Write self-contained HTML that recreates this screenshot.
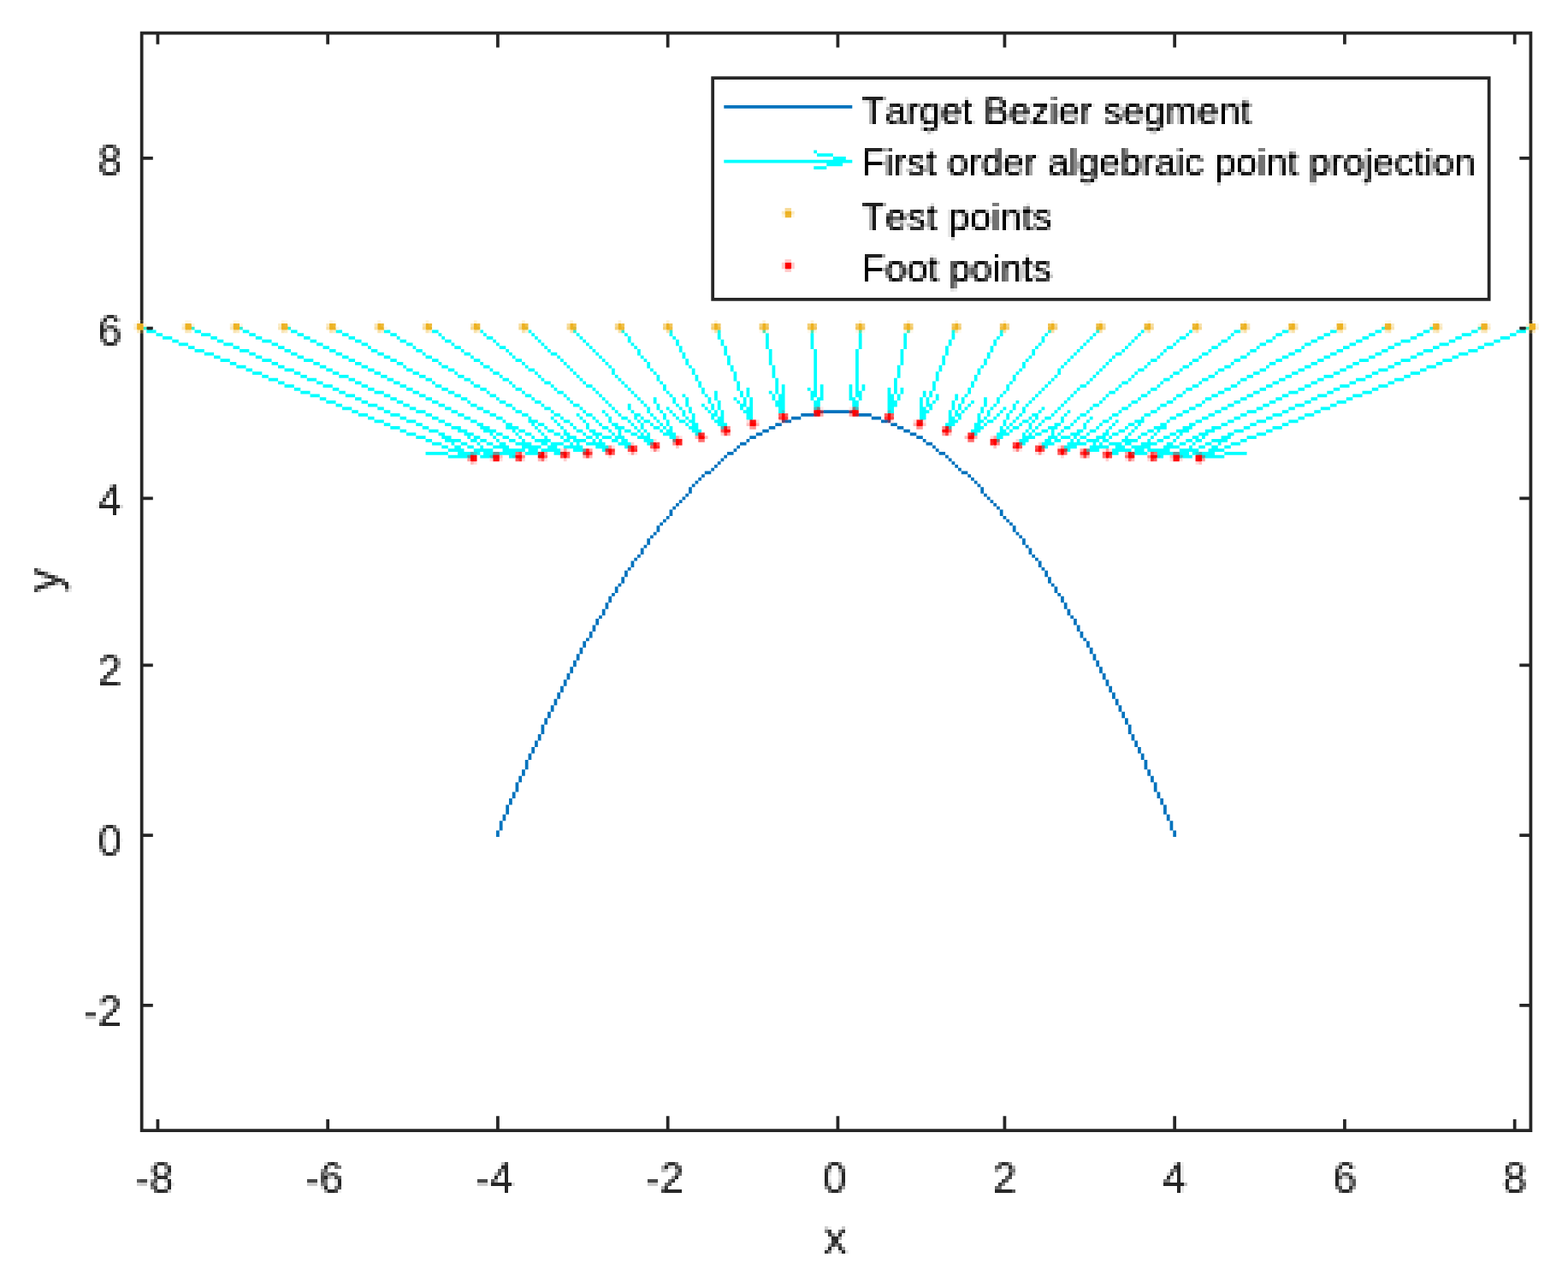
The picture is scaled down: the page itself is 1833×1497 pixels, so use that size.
<!DOCTYPE html>
<html lang="en">
<head>
<meta charset="utf-8">
<title>First order algebraic point projection</title>
<style>
html,body{margin:0;padding:0;background:#fff;}
body{width:1833px;height:1497px;overflow:hidden;}
svg{display:block;}
text{font-family:"Liberation Sans",Arial,Helvetica,sans-serif;font-kerning:none;}
.tk{fill:#262626;}
.lg{fill:#000;}
</style>
</head>
<body>
<svg width="1833" height="1497" viewBox="0 0 1833 1497">
<defs>
<filter id="p0" filterUnits="userSpaceOnUse" x="1000" y="101" width="472" height="64" color-interpolation-filters="sRGB">
<feConvolveMatrix in="SourceGraphic" order="4" kernelMatrix="1 1 1 1 1 1 1 1 1 1 1 1 1 1 1 1" divisor="16" targetX="1" targetY="1" edgeMode="none" preserveAlpha="false" result="avg"/>
<feFlood x="1001" y="102" width="1" height="1" flood-color="#000" result="dot"/>
<feComposite in="dot" in2="dot" operator="over" x="1000" y="101" width="4" height="4" result="dotcell"/>
<feTile in="dotcell" result="dots"/>
<feComponentTransfer in="avg" result="avc"><feFuncA type="linear" slope="1.25" intercept="-0.06"/></feComponentTransfer>
<feComposite in="avc" in2="dots" operator="in" result="samp"/>
<feMorphology in="samp" operator="dilate" radius="1" result="b3"/>
<feFlood x="1003" y="101" width="1" height="4" flood-color="#000" result="cbar"/>
<feComposite in="cbar" in2="cbar" operator="over" x="1000" y="101" width="4" height="4" result="ccell"/>
<feTile in="ccell" result="cmask"/>
<feOffset in="b3" dx="1" dy="0" result="b3x"/>
<feComposite in="b3x" in2="cmask" operator="in" result="fillx"/>
<feMerge result="b43"><feMergeNode in="b3"/><feMergeNode in="fillx"/></feMerge>
<feFlood x="1000" y="104" width="4" height="1" flood-color="#000" result="rbar"/>
<feComposite in="rbar" in2="rbar" operator="over" x="1000" y="101" width="4" height="4" result="rcell"/>
<feTile in="rcell" result="rmask"/>
<feOffset in="b43" dx="0" dy="1" result="b43y"/>
<feComposite in="b43y" in2="rmask" operator="in" result="filly"/>
<feMerge><feMergeNode in="b43"/><feMergeNode in="filly"/></feMerge>
</filter>
<filter id="p1" filterUnits="userSpaceOnUse" x="1003" y="161" width="728" height="64" color-interpolation-filters="sRGB">
<feConvolveMatrix in="SourceGraphic" order="4" kernelMatrix="1 1 1 1 1 1 1 1 1 1 1 1 1 1 1 1" divisor="16" targetX="1" targetY="1" edgeMode="none" preserveAlpha="false" result="avg"/>
<feFlood x="1004" y="162" width="1" height="1" flood-color="#000" result="dot"/>
<feComposite in="dot" in2="dot" operator="over" x="1003" y="161" width="4" height="4" result="dotcell"/>
<feTile in="dotcell" result="dots"/>
<feComponentTransfer in="avg" result="avc"><feFuncA type="linear" slope="1.25" intercept="-0.06"/></feComponentTransfer>
<feComposite in="avc" in2="dots" operator="in" result="samp"/>
<feMorphology in="samp" operator="dilate" radius="1" result="b3"/>
<feFlood x="1006" y="161" width="1" height="4" flood-color="#000" result="cbar"/>
<feComposite in="cbar" in2="cbar" operator="over" x="1003" y="161" width="4" height="4" result="ccell"/>
<feTile in="ccell" result="cmask"/>
<feOffset in="b3" dx="1" dy="0" result="b3x"/>
<feComposite in="b3x" in2="cmask" operator="in" result="fillx"/>
<feMerge result="b43"><feMergeNode in="b3"/><feMergeNode in="fillx"/></feMerge>
<feFlood x="1003" y="164" width="4" height="1" flood-color="#000" result="rbar"/>
<feComposite in="rbar" in2="rbar" operator="over" x="1003" y="161" width="4" height="4" result="rcell"/>
<feTile in="rcell" result="rmask"/>
<feOffset in="b43" dx="0" dy="1" result="b43y"/>
<feComposite in="b43y" in2="rmask" operator="in" result="filly"/>
<feMerge><feMergeNode in="b43"/><feMergeNode in="filly"/></feMerge>
</filter>
<filter id="p2" filterUnits="userSpaceOnUse" x="1000" y="225" width="236" height="64" color-interpolation-filters="sRGB">
<feConvolveMatrix in="SourceGraphic" order="4" kernelMatrix="1 1 1 1 1 1 1 1 1 1 1 1 1 1 1 1" divisor="16" targetX="1" targetY="1" edgeMode="none" preserveAlpha="false" result="avg"/>
<feFlood x="1001" y="226" width="1" height="1" flood-color="#000" result="dot"/>
<feComposite in="dot" in2="dot" operator="over" x="1000" y="225" width="4" height="4" result="dotcell"/>
<feTile in="dotcell" result="dots"/>
<feComponentTransfer in="avg" result="avc"><feFuncA type="linear" slope="1.25" intercept="-0.06"/></feComponentTransfer>
<feComposite in="avc" in2="dots" operator="in" result="samp"/>
<feMorphology in="samp" operator="dilate" radius="1" result="b3"/>
<feFlood x="1003" y="225" width="1" height="4" flood-color="#000" result="cbar"/>
<feComposite in="cbar" in2="cbar" operator="over" x="1000" y="225" width="4" height="4" result="ccell"/>
<feTile in="ccell" result="cmask"/>
<feOffset in="b3" dx="1" dy="0" result="b3x"/>
<feComposite in="b3x" in2="cmask" operator="in" result="fillx"/>
<feMerge result="b43"><feMergeNode in="b3"/><feMergeNode in="fillx"/></feMerge>
<feFlood x="1000" y="228" width="4" height="1" flood-color="#000" result="rbar"/>
<feComposite in="rbar" in2="rbar" operator="over" x="1000" y="225" width="4" height="4" result="rcell"/>
<feTile in="rcell" result="rmask"/>
<feOffset in="b43" dx="0" dy="1" result="b43y"/>
<feComposite in="b43y" in2="rmask" operator="in" result="filly"/>
<feMerge><feMergeNode in="b43"/><feMergeNode in="filly"/></feMerge>
</filter>
<filter id="p3" filterUnits="userSpaceOnUse" x="1003" y="285" width="236" height="64" color-interpolation-filters="sRGB">
<feConvolveMatrix in="SourceGraphic" order="4" kernelMatrix="1 1 1 1 1 1 1 1 1 1 1 1 1 1 1 1" divisor="16" targetX="1" targetY="1" edgeMode="none" preserveAlpha="false" result="avg"/>
<feFlood x="1004" y="286" width="1" height="1" flood-color="#000" result="dot"/>
<feComposite in="dot" in2="dot" operator="over" x="1003" y="285" width="4" height="4" result="dotcell"/>
<feTile in="dotcell" result="dots"/>
<feComponentTransfer in="avg" result="avc"><feFuncA type="linear" slope="1.25" intercept="-0.06"/></feComponentTransfer>
<feComposite in="avc" in2="dots" operator="in" result="samp"/>
<feMorphology in="samp" operator="dilate" radius="1" result="b3"/>
<feFlood x="1006" y="285" width="1" height="4" flood-color="#000" result="cbar"/>
<feComposite in="cbar" in2="cbar" operator="over" x="1003" y="285" width="4" height="4" result="ccell"/>
<feTile in="ccell" result="cmask"/>
<feOffset in="b3" dx="1" dy="0" result="b3x"/>
<feComposite in="b3x" in2="cmask" operator="in" result="fillx"/>
<feMerge result="b43"><feMergeNode in="b3"/><feMergeNode in="fillx"/></feMerge>
<feFlood x="1003" y="288" width="4" height="1" flood-color="#000" result="rbar"/>
<feComposite in="rbar" in2="rbar" operator="over" x="1003" y="285" width="4" height="4" result="rcell"/>
<feTile in="rcell" result="rmask"/>
<feOffset in="b43" dx="0" dy="1" result="b43y"/>
<feComposite in="b43y" in2="rmask" operator="in" result="filly"/>
<feMerge><feMergeNode in="b43"/><feMergeNode in="filly"/></feMerge>
</filter>
<filter id="p4" filterUnits="userSpaceOnUse" x="152" y="1350" width="56" height="56" color-interpolation-filters="sRGB">
<feConvolveMatrix in="SourceGraphic" order="4" kernelMatrix="1 1 1 1 1 1 1 1 1 1 1 1 1 1 1 1" divisor="16" targetX="1" targetY="1" edgeMode="none" preserveAlpha="false" result="avg"/>
<feFlood x="153" y="1351" width="1" height="1" flood-color="#000" result="dot"/>
<feComposite in="dot" in2="dot" operator="over" x="152" y="1350" width="4" height="4" result="dotcell"/>
<feTile in="dotcell" result="dots"/>
<feComponentTransfer in="avg" result="avc"><feFuncA type="linear" slope="1.25" intercept="-0.06"/></feComponentTransfer>
<feComposite in="avc" in2="dots" operator="in" result="samp"/>
<feMorphology in="samp" operator="dilate" radius="1" result="b3"/>
<feFlood x="155" y="1350" width="1" height="4" flood-color="#000" result="cbar"/>
<feComposite in="cbar" in2="cbar" operator="over" x="152" y="1350" width="4" height="4" result="ccell"/>
<feTile in="ccell" result="cmask"/>
<feOffset in="b3" dx="1" dy="0" result="b3x"/>
<feComposite in="b3x" in2="cmask" operator="in" result="fillx"/>
<feMerge result="b43"><feMergeNode in="b3"/><feMergeNode in="fillx"/></feMerge>
<feFlood x="152" y="1353" width="4" height="1" flood-color="#000" result="rbar"/>
<feComposite in="rbar" in2="rbar" operator="over" x="152" y="1350" width="4" height="4" result="rcell"/>
<feTile in="rcell" result="rmask"/>
<feOffset in="b43" dx="0" dy="1" result="b43y"/>
<feComposite in="b43y" in2="rmask" operator="in" result="filly"/>
<feMerge><feMergeNode in="b43"/><feMergeNode in="filly"/></feMerge>
</filter>
<filter id="p5" filterUnits="userSpaceOnUse" x="351" y="1350" width="56" height="56" color-interpolation-filters="sRGB">
<feConvolveMatrix in="SourceGraphic" order="4" kernelMatrix="1 1 1 1 1 1 1 1 1 1 1 1 1 1 1 1" divisor="16" targetX="1" targetY="1" edgeMode="none" preserveAlpha="false" result="avg"/>
<feFlood x="352" y="1351" width="1" height="1" flood-color="#000" result="dot"/>
<feComposite in="dot" in2="dot" operator="over" x="351" y="1350" width="4" height="4" result="dotcell"/>
<feTile in="dotcell" result="dots"/>
<feComponentTransfer in="avg" result="avc"><feFuncA type="linear" slope="1.25" intercept="-0.06"/></feComponentTransfer>
<feComposite in="avc" in2="dots" operator="in" result="samp"/>
<feMorphology in="samp" operator="dilate" radius="1" result="b3"/>
<feFlood x="354" y="1350" width="1" height="4" flood-color="#000" result="cbar"/>
<feComposite in="cbar" in2="cbar" operator="over" x="351" y="1350" width="4" height="4" result="ccell"/>
<feTile in="ccell" result="cmask"/>
<feOffset in="b3" dx="1" dy="0" result="b3x"/>
<feComposite in="b3x" in2="cmask" operator="in" result="fillx"/>
<feMerge result="b43"><feMergeNode in="b3"/><feMergeNode in="fillx"/></feMerge>
<feFlood x="351" y="1353" width="4" height="1" flood-color="#000" result="rbar"/>
<feComposite in="rbar" in2="rbar" operator="over" x="351" y="1350" width="4" height="4" result="rcell"/>
<feTile in="rcell" result="rmask"/>
<feOffset in="b43" dx="0" dy="1" result="b43y"/>
<feComposite in="b43y" in2="rmask" operator="in" result="filly"/>
<feMerge><feMergeNode in="b43"/><feMergeNode in="filly"/></feMerge>
</filter>
<filter id="p6" filterUnits="userSpaceOnUse" x="550" y="1350" width="60" height="52" color-interpolation-filters="sRGB">
<feConvolveMatrix in="SourceGraphic" order="4" kernelMatrix="1 1 1 1 1 1 1 1 1 1 1 1 1 1 1 1" divisor="16" targetX="1" targetY="1" edgeMode="none" preserveAlpha="false" result="avg"/>
<feFlood x="551" y="1351" width="1" height="1" flood-color="#000" result="dot"/>
<feComposite in="dot" in2="dot" operator="over" x="550" y="1350" width="4" height="4" result="dotcell"/>
<feTile in="dotcell" result="dots"/>
<feComponentTransfer in="avg" result="avc"><feFuncA type="linear" slope="1.25" intercept="-0.06"/></feComponentTransfer>
<feComposite in="avc" in2="dots" operator="in" result="samp"/>
<feMorphology in="samp" operator="dilate" radius="1" result="b3"/>
<feFlood x="553" y="1350" width="1" height="4" flood-color="#000" result="cbar"/>
<feComposite in="cbar" in2="cbar" operator="over" x="550" y="1350" width="4" height="4" result="ccell"/>
<feTile in="ccell" result="cmask"/>
<feOffset in="b3" dx="1" dy="0" result="b3x"/>
<feComposite in="b3x" in2="cmask" operator="in" result="fillx"/>
<feMerge result="b43"><feMergeNode in="b3"/><feMergeNode in="fillx"/></feMerge>
<feFlood x="550" y="1353" width="4" height="1" flood-color="#000" result="rbar"/>
<feComposite in="rbar" in2="rbar" operator="over" x="550" y="1350" width="4" height="4" result="rcell"/>
<feTile in="rcell" result="rmask"/>
<feOffset in="b43" dx="0" dy="1" result="b43y"/>
<feComposite in="b43y" in2="rmask" operator="in" result="filly"/>
<feMerge><feMergeNode in="b43"/><feMergeNode in="filly"/></feMerge>
</filter>
<filter id="p7" filterUnits="userSpaceOnUse" x="749" y="1350" width="56" height="52" color-interpolation-filters="sRGB">
<feConvolveMatrix in="SourceGraphic" order="4" kernelMatrix="1 1 1 1 1 1 1 1 1 1 1 1 1 1 1 1" divisor="16" targetX="1" targetY="1" edgeMode="none" preserveAlpha="false" result="avg"/>
<feFlood x="750" y="1351" width="1" height="1" flood-color="#000" result="dot"/>
<feComposite in="dot" in2="dot" operator="over" x="749" y="1350" width="4" height="4" result="dotcell"/>
<feTile in="dotcell" result="dots"/>
<feComponentTransfer in="avg" result="avc"><feFuncA type="linear" slope="1.25" intercept="-0.06"/></feComponentTransfer>
<feComposite in="avc" in2="dots" operator="in" result="samp"/>
<feMorphology in="samp" operator="dilate" radius="1" result="b3"/>
<feFlood x="752" y="1350" width="1" height="4" flood-color="#000" result="cbar"/>
<feComposite in="cbar" in2="cbar" operator="over" x="749" y="1350" width="4" height="4" result="ccell"/>
<feTile in="ccell" result="cmask"/>
<feOffset in="b3" dx="1" dy="0" result="b3x"/>
<feComposite in="b3x" in2="cmask" operator="in" result="fillx"/>
<feMerge result="b43"><feMergeNode in="b3"/><feMergeNode in="fillx"/></feMerge>
<feFlood x="749" y="1353" width="4" height="1" flood-color="#000" result="rbar"/>
<feComposite in="rbar" in2="rbar" operator="over" x="749" y="1350" width="4" height="4" result="rcell"/>
<feTile in="rcell" result="rmask"/>
<feOffset in="b43" dx="0" dy="1" result="b43y"/>
<feComposite in="b43y" in2="rmask" operator="in" result="filly"/>
<feMerge><feMergeNode in="b43"/><feMergeNode in="filly"/></feMerge>
</filter>
<filter id="p8" filterUnits="userSpaceOnUse" x="956" y="1350" width="40" height="56" color-interpolation-filters="sRGB">
<feConvolveMatrix in="SourceGraphic" order="4" kernelMatrix="1 1 1 1 1 1 1 1 1 1 1 1 1 1 1 1" divisor="16" targetX="1" targetY="1" edgeMode="none" preserveAlpha="false" result="avg"/>
<feFlood x="957" y="1351" width="1" height="1" flood-color="#000" result="dot"/>
<feComposite in="dot" in2="dot" operator="over" x="956" y="1350" width="4" height="4" result="dotcell"/>
<feTile in="dotcell" result="dots"/>
<feComponentTransfer in="avg" result="avc"><feFuncA type="linear" slope="1.25" intercept="-0.06"/></feComponentTransfer>
<feComposite in="avc" in2="dots" operator="in" result="samp"/>
<feMorphology in="samp" operator="dilate" radius="1" result="b3"/>
<feFlood x="959" y="1350" width="1" height="4" flood-color="#000" result="cbar"/>
<feComposite in="cbar" in2="cbar" operator="over" x="956" y="1350" width="4" height="4" result="ccell"/>
<feTile in="ccell" result="cmask"/>
<feOffset in="b3" dx="1" dy="0" result="b3x"/>
<feComposite in="b3x" in2="cmask" operator="in" result="fillx"/>
<feMerge result="b43"><feMergeNode in="b3"/><feMergeNode in="fillx"/></feMerge>
<feFlood x="956" y="1353" width="4" height="1" flood-color="#000" result="rbar"/>
<feComposite in="rbar" in2="rbar" operator="over" x="956" y="1350" width="4" height="4" result="rcell"/>
<feTile in="rcell" result="rmask"/>
<feOffset in="b43" dx="0" dy="1" result="b43y"/>
<feComposite in="b43y" in2="rmask" operator="in" result="filly"/>
<feMerge><feMergeNode in="b43"/><feMergeNode in="filly"/></feMerge>
</filter>
<filter id="p9" filterUnits="userSpaceOnUse" x="1155" y="1350" width="40" height="52" color-interpolation-filters="sRGB">
<feConvolveMatrix in="SourceGraphic" order="4" kernelMatrix="1 1 1 1 1 1 1 1 1 1 1 1 1 1 1 1" divisor="16" targetX="1" targetY="1" edgeMode="none" preserveAlpha="false" result="avg"/>
<feFlood x="1156" y="1351" width="1" height="1" flood-color="#000" result="dot"/>
<feComposite in="dot" in2="dot" operator="over" x="1155" y="1350" width="4" height="4" result="dotcell"/>
<feTile in="dotcell" result="dots"/>
<feComponentTransfer in="avg" result="avc"><feFuncA type="linear" slope="1.25" intercept="-0.06"/></feComponentTransfer>
<feComposite in="avc" in2="dots" operator="in" result="samp"/>
<feMorphology in="samp" operator="dilate" radius="1" result="b3"/>
<feFlood x="1158" y="1350" width="1" height="4" flood-color="#000" result="cbar"/>
<feComposite in="cbar" in2="cbar" operator="over" x="1155" y="1350" width="4" height="4" result="ccell"/>
<feTile in="ccell" result="cmask"/>
<feOffset in="b3" dx="1" dy="0" result="b3x"/>
<feComposite in="b3x" in2="cmask" operator="in" result="fillx"/>
<feMerge result="b43"><feMergeNode in="b3"/><feMergeNode in="fillx"/></feMerge>
<feFlood x="1155" y="1353" width="4" height="1" flood-color="#000" result="rbar"/>
<feComposite in="rbar" in2="rbar" operator="over" x="1155" y="1350" width="4" height="4" result="rcell"/>
<feTile in="rcell" result="rmask"/>
<feOffset in="b43" dx="0" dy="1" result="b43y"/>
<feComposite in="b43y" in2="rmask" operator="in" result="filly"/>
<feMerge><feMergeNode in="b43"/><feMergeNode in="filly"/></feMerge>
</filter>
<filter id="p10" filterUnits="userSpaceOnUse" x="1352" y="1350" width="44" height="52" color-interpolation-filters="sRGB">
<feConvolveMatrix in="SourceGraphic" order="4" kernelMatrix="1 1 1 1 1 1 1 1 1 1 1 1 1 1 1 1" divisor="16" targetX="1" targetY="1" edgeMode="none" preserveAlpha="false" result="avg"/>
<feFlood x="1353" y="1351" width="1" height="1" flood-color="#000" result="dot"/>
<feComposite in="dot" in2="dot" operator="over" x="1352" y="1350" width="4" height="4" result="dotcell"/>
<feTile in="dotcell" result="dots"/>
<feComponentTransfer in="avg" result="avc"><feFuncA type="linear" slope="1.25" intercept="-0.06"/></feComponentTransfer>
<feComposite in="avc" in2="dots" operator="in" result="samp"/>
<feMorphology in="samp" operator="dilate" radius="1" result="b3"/>
<feFlood x="1355" y="1350" width="1" height="4" flood-color="#000" result="cbar"/>
<feComposite in="cbar" in2="cbar" operator="over" x="1352" y="1350" width="4" height="4" result="ccell"/>
<feTile in="ccell" result="cmask"/>
<feOffset in="b3" dx="1" dy="0" result="b3x"/>
<feComposite in="b3x" in2="cmask" operator="in" result="fillx"/>
<feMerge result="b43"><feMergeNode in="b3"/><feMergeNode in="fillx"/></feMerge>
<feFlood x="1352" y="1353" width="4" height="1" flood-color="#000" result="rbar"/>
<feComposite in="rbar" in2="rbar" operator="over" x="1352" y="1350" width="4" height="4" result="rcell"/>
<feTile in="rcell" result="rmask"/>
<feOffset in="b43" dx="0" dy="1" result="b43y"/>
<feComposite in="b43y" in2="rmask" operator="in" result="filly"/>
<feMerge><feMergeNode in="b43"/><feMergeNode in="filly"/></feMerge>
</filter>
<filter id="p11" filterUnits="userSpaceOnUse" x="1553" y="1350" width="40" height="56" color-interpolation-filters="sRGB">
<feConvolveMatrix in="SourceGraphic" order="4" kernelMatrix="1 1 1 1 1 1 1 1 1 1 1 1 1 1 1 1" divisor="16" targetX="1" targetY="1" edgeMode="none" preserveAlpha="false" result="avg"/>
<feFlood x="1554" y="1351" width="1" height="1" flood-color="#000" result="dot"/>
<feComposite in="dot" in2="dot" operator="over" x="1553" y="1350" width="4" height="4" result="dotcell"/>
<feTile in="dotcell" result="dots"/>
<feComponentTransfer in="avg" result="avc"><feFuncA type="linear" slope="1.25" intercept="-0.06"/></feComponentTransfer>
<feComposite in="avc" in2="dots" operator="in" result="samp"/>
<feMorphology in="samp" operator="dilate" radius="1" result="b3"/>
<feFlood x="1556" y="1350" width="1" height="4" flood-color="#000" result="cbar"/>
<feComposite in="cbar" in2="cbar" operator="over" x="1553" y="1350" width="4" height="4" result="ccell"/>
<feTile in="ccell" result="cmask"/>
<feOffset in="b3" dx="1" dy="0" result="b3x"/>
<feComposite in="b3x" in2="cmask" operator="in" result="fillx"/>
<feMerge result="b43"><feMergeNode in="b3"/><feMergeNode in="fillx"/></feMerge>
<feFlood x="1553" y="1353" width="4" height="1" flood-color="#000" result="rbar"/>
<feComposite in="rbar" in2="rbar" operator="over" x="1553" y="1350" width="4" height="4" result="rcell"/>
<feTile in="rcell" result="rmask"/>
<feOffset in="b43" dx="0" dy="1" result="b43y"/>
<feComposite in="b43y" in2="rmask" operator="in" result="filly"/>
<feMerge><feMergeNode in="b43"/><feMergeNode in="filly"/></feMerge>
</filter>
<filter id="p12" filterUnits="userSpaceOnUse" x="1752" y="1350" width="40" height="56" color-interpolation-filters="sRGB">
<feConvolveMatrix in="SourceGraphic" order="4" kernelMatrix="1 1 1 1 1 1 1 1 1 1 1 1 1 1 1 1" divisor="16" targetX="1" targetY="1" edgeMode="none" preserveAlpha="false" result="avg"/>
<feFlood x="1753" y="1351" width="1" height="1" flood-color="#000" result="dot"/>
<feComposite in="dot" in2="dot" operator="over" x="1752" y="1350" width="4" height="4" result="dotcell"/>
<feTile in="dotcell" result="dots"/>
<feComponentTransfer in="avg" result="avc"><feFuncA type="linear" slope="1.25" intercept="-0.06"/></feComponentTransfer>
<feComposite in="avc" in2="dots" operator="in" result="samp"/>
<feMorphology in="samp" operator="dilate" radius="1" result="b3"/>
<feFlood x="1755" y="1350" width="1" height="4" flood-color="#000" result="cbar"/>
<feComposite in="cbar" in2="cbar" operator="over" x="1752" y="1350" width="4" height="4" result="ccell"/>
<feTile in="ccell" result="cmask"/>
<feOffset in="b3" dx="1" dy="0" result="b3x"/>
<feComposite in="b3x" in2="cmask" operator="in" result="fillx"/>
<feMerge result="b43"><feMergeNode in="b3"/><feMergeNode in="fillx"/></feMerge>
<feFlood x="1752" y="1353" width="4" height="1" flood-color="#000" result="rbar"/>
<feComposite in="rbar" in2="rbar" operator="over" x="1752" y="1350" width="4" height="4" result="rcell"/>
<feTile in="rcell" result="rmask"/>
<feOffset in="b43" dx="0" dy="1" result="b43y"/>
<feComposite in="b43y" in2="rmask" operator="in" result="filly"/>
<feMerge><feMergeNode in="b43"/><feMergeNode in="filly"/></feMerge>
</filter>
<filter id="p13" filterUnits="userSpaceOnUse" x="108" y="161" width="40" height="56" color-interpolation-filters="sRGB">
<feConvolveMatrix in="SourceGraphic" order="4" kernelMatrix="1 1 1 1 1 1 1 1 1 1 1 1 1 1 1 1" divisor="16" targetX="1" targetY="1" edgeMode="none" preserveAlpha="false" result="avg"/>
<feFlood x="109" y="162" width="1" height="1" flood-color="#000" result="dot"/>
<feComposite in="dot" in2="dot" operator="over" x="108" y="161" width="4" height="4" result="dotcell"/>
<feTile in="dotcell" result="dots"/>
<feComponentTransfer in="avg" result="avc"><feFuncA type="linear" slope="1.25" intercept="-0.06"/></feComponentTransfer>
<feComposite in="avc" in2="dots" operator="in" result="samp"/>
<feMorphology in="samp" operator="dilate" radius="1" result="b3"/>
<feFlood x="111" y="161" width="1" height="4" flood-color="#000" result="cbar"/>
<feComposite in="cbar" in2="cbar" operator="over" x="108" y="161" width="4" height="4" result="ccell"/>
<feTile in="ccell" result="cmask"/>
<feOffset in="b3" dx="1" dy="0" result="b3x"/>
<feComposite in="b3x" in2="cmask" operator="in" result="fillx"/>
<feMerge result="b43"><feMergeNode in="b3"/><feMergeNode in="fillx"/></feMerge>
<feFlood x="108" y="164" width="4" height="1" flood-color="#000" result="rbar"/>
<feComposite in="rbar" in2="rbar" operator="over" x="108" y="161" width="4" height="4" result="rcell"/>
<feTile in="rcell" result="rmask"/>
<feOffset in="b43" dx="0" dy="1" result="b43y"/>
<feComposite in="b43y" in2="rmask" operator="in" result="filly"/>
<feMerge><feMergeNode in="b43"/><feMergeNode in="filly"/></feMerge>
</filter>
<filter id="p14" filterUnits="userSpaceOnUse" x="109" y="360" width="40" height="56" color-interpolation-filters="sRGB">
<feConvolveMatrix in="SourceGraphic" order="4" kernelMatrix="1 1 1 1 1 1 1 1 1 1 1 1 1 1 1 1" divisor="16" targetX="1" targetY="1" edgeMode="none" preserveAlpha="false" result="avg"/>
<feFlood x="110" y="361" width="1" height="1" flood-color="#000" result="dot"/>
<feComposite in="dot" in2="dot" operator="over" x="109" y="360" width="4" height="4" result="dotcell"/>
<feTile in="dotcell" result="dots"/>
<feComponentTransfer in="avg" result="avc"><feFuncA type="linear" slope="1.25" intercept="-0.06"/></feComponentTransfer>
<feComposite in="avc" in2="dots" operator="in" result="samp"/>
<feMorphology in="samp" operator="dilate" radius="1" result="b3"/>
<feFlood x="112" y="360" width="1" height="4" flood-color="#000" result="cbar"/>
<feComposite in="cbar" in2="cbar" operator="over" x="109" y="360" width="4" height="4" result="ccell"/>
<feTile in="ccell" result="cmask"/>
<feOffset in="b3" dx="1" dy="0" result="b3x"/>
<feComposite in="b3x" in2="cmask" operator="in" result="fillx"/>
<feMerge result="b43"><feMergeNode in="b3"/><feMergeNode in="fillx"/></feMerge>
<feFlood x="109" y="363" width="4" height="1" flood-color="#000" result="rbar"/>
<feComposite in="rbar" in2="rbar" operator="over" x="109" y="360" width="4" height="4" result="rcell"/>
<feTile in="rcell" result="rmask"/>
<feOffset in="b43" dx="0" dy="1" result="b43y"/>
<feComposite in="b43y" in2="rmask" operator="in" result="filly"/>
<feMerge><feMergeNode in="b43"/><feMergeNode in="filly"/></feMerge>
</filter>
<filter id="p15" filterUnits="userSpaceOnUse" x="108" y="558" width="44" height="52" color-interpolation-filters="sRGB">
<feConvolveMatrix in="SourceGraphic" order="4" kernelMatrix="1 1 1 1 1 1 1 1 1 1 1 1 1 1 1 1" divisor="16" targetX="1" targetY="1" edgeMode="none" preserveAlpha="false" result="avg"/>
<feFlood x="109" y="559" width="1" height="1" flood-color="#000" result="dot"/>
<feComposite in="dot" in2="dot" operator="over" x="108" y="558" width="4" height="4" result="dotcell"/>
<feTile in="dotcell" result="dots"/>
<feComponentTransfer in="avg" result="avc"><feFuncA type="linear" slope="1.25" intercept="-0.06"/></feComponentTransfer>
<feComposite in="avc" in2="dots" operator="in" result="samp"/>
<feMorphology in="samp" operator="dilate" radius="1" result="b3"/>
<feFlood x="111" y="558" width="1" height="4" flood-color="#000" result="cbar"/>
<feComposite in="cbar" in2="cbar" operator="over" x="108" y="558" width="4" height="4" result="ccell"/>
<feTile in="ccell" result="cmask"/>
<feOffset in="b3" dx="1" dy="0" result="b3x"/>
<feComposite in="b3x" in2="cmask" operator="in" result="fillx"/>
<feMerge result="b43"><feMergeNode in="b3"/><feMergeNode in="fillx"/></feMerge>
<feFlood x="108" y="561" width="4" height="1" flood-color="#000" result="rbar"/>
<feComposite in="rbar" in2="rbar" operator="over" x="108" y="558" width="4" height="4" result="rcell"/>
<feTile in="rcell" result="rmask"/>
<feOffset in="b43" dx="0" dy="1" result="b43y"/>
<feComposite in="b43y" in2="rmask" operator="in" result="filly"/>
<feMerge><feMergeNode in="b43"/><feMergeNode in="filly"/></feMerge>
</filter>
<filter id="p16" filterUnits="userSpaceOnUse" x="109" y="757" width="40" height="52" color-interpolation-filters="sRGB">
<feConvolveMatrix in="SourceGraphic" order="4" kernelMatrix="1 1 1 1 1 1 1 1 1 1 1 1 1 1 1 1" divisor="16" targetX="1" targetY="1" edgeMode="none" preserveAlpha="false" result="avg"/>
<feFlood x="110" y="758" width="1" height="1" flood-color="#000" result="dot"/>
<feComposite in="dot" in2="dot" operator="over" x="109" y="757" width="4" height="4" result="dotcell"/>
<feTile in="dotcell" result="dots"/>
<feComponentTransfer in="avg" result="avc"><feFuncA type="linear" slope="1.25" intercept="-0.06"/></feComponentTransfer>
<feComposite in="avc" in2="dots" operator="in" result="samp"/>
<feMorphology in="samp" operator="dilate" radius="1" result="b3"/>
<feFlood x="112" y="757" width="1" height="4" flood-color="#000" result="cbar"/>
<feComposite in="cbar" in2="cbar" operator="over" x="109" y="757" width="4" height="4" result="ccell"/>
<feTile in="ccell" result="cmask"/>
<feOffset in="b3" dx="1" dy="0" result="b3x"/>
<feComposite in="b3x" in2="cmask" operator="in" result="fillx"/>
<feMerge result="b43"><feMergeNode in="b3"/><feMergeNode in="fillx"/></feMerge>
<feFlood x="109" y="760" width="4" height="1" flood-color="#000" result="rbar"/>
<feComposite in="rbar" in2="rbar" operator="over" x="109" y="757" width="4" height="4" result="rcell"/>
<feTile in="rcell" result="rmask"/>
<feOffset in="b43" dx="0" dy="1" result="b43y"/>
<feComposite in="b43y" in2="rmask" operator="in" result="filly"/>
<feMerge><feMergeNode in="b43"/><feMergeNode in="filly"/></feMerge>
</filter>
<filter id="p17" filterUnits="userSpaceOnUse" x="108" y="956" width="40" height="56" color-interpolation-filters="sRGB">
<feConvolveMatrix in="SourceGraphic" order="4" kernelMatrix="1 1 1 1 1 1 1 1 1 1 1 1 1 1 1 1" divisor="16" targetX="1" targetY="1" edgeMode="none" preserveAlpha="false" result="avg"/>
<feFlood x="109" y="957" width="1" height="1" flood-color="#000" result="dot"/>
<feComposite in="dot" in2="dot" operator="over" x="108" y="956" width="4" height="4" result="dotcell"/>
<feTile in="dotcell" result="dots"/>
<feComponentTransfer in="avg" result="avc"><feFuncA type="linear" slope="1.25" intercept="-0.06"/></feComponentTransfer>
<feComposite in="avc" in2="dots" operator="in" result="samp"/>
<feMorphology in="samp" operator="dilate" radius="1" result="b3"/>
<feFlood x="111" y="956" width="1" height="4" flood-color="#000" result="cbar"/>
<feComposite in="cbar" in2="cbar" operator="over" x="108" y="956" width="4" height="4" result="ccell"/>
<feTile in="ccell" result="cmask"/>
<feOffset in="b3" dx="1" dy="0" result="b3x"/>
<feComposite in="b3x" in2="cmask" operator="in" result="fillx"/>
<feMerge result="b43"><feMergeNode in="b3"/><feMergeNode in="fillx"/></feMerge>
<feFlood x="108" y="959" width="4" height="1" flood-color="#000" result="rbar"/>
<feComposite in="rbar" in2="rbar" operator="over" x="108" y="956" width="4" height="4" result="rcell"/>
<feTile in="rcell" result="rmask"/>
<feOffset in="b43" dx="0" dy="1" result="b43y"/>
<feComposite in="b43y" in2="rmask" operator="in" result="filly"/>
<feMerge><feMergeNode in="b43"/><feMergeNode in="filly"/></feMerge>
</filter>
<filter id="p18" filterUnits="userSpaceOnUse" x="92" y="1155" width="56" height="52" color-interpolation-filters="sRGB">
<feConvolveMatrix in="SourceGraphic" order="4" kernelMatrix="1 1 1 1 1 1 1 1 1 1 1 1 1 1 1 1" divisor="16" targetX="1" targetY="1" edgeMode="none" preserveAlpha="false" result="avg"/>
<feFlood x="93" y="1156" width="1" height="1" flood-color="#000" result="dot"/>
<feComposite in="dot" in2="dot" operator="over" x="92" y="1155" width="4" height="4" result="dotcell"/>
<feTile in="dotcell" result="dots"/>
<feComponentTransfer in="avg" result="avc"><feFuncA type="linear" slope="1.25" intercept="-0.06"/></feComponentTransfer>
<feComposite in="avc" in2="dots" operator="in" result="samp"/>
<feMorphology in="samp" operator="dilate" radius="1" result="b3"/>
<feFlood x="95" y="1155" width="1" height="4" flood-color="#000" result="cbar"/>
<feComposite in="cbar" in2="cbar" operator="over" x="92" y="1155" width="4" height="4" result="ccell"/>
<feTile in="ccell" result="cmask"/>
<feOffset in="b3" dx="1" dy="0" result="b3x"/>
<feComposite in="b3x" in2="cmask" operator="in" result="fillx"/>
<feMerge result="b43"><feMergeNode in="b3"/><feMergeNode in="fillx"/></feMerge>
<feFlood x="92" y="1158" width="4" height="1" flood-color="#000" result="rbar"/>
<feComposite in="rbar" in2="rbar" operator="over" x="92" y="1155" width="4" height="4" result="rcell"/>
<feTile in="rcell" result="rmask"/>
<feOffset in="b43" dx="0" dy="1" result="b43y"/>
<feComposite in="b43y" in2="rmask" operator="in" result="filly"/>
<feMerge><feMergeNode in="b43"/><feMergeNode in="filly"/></feMerge>
</filter>
<filter id="p19" filterUnits="userSpaceOnUse" x="956" y="1425" width="44" height="48" color-interpolation-filters="sRGB">
<feConvolveMatrix in="SourceGraphic" order="4" kernelMatrix="1 1 1 1 1 1 1 1 1 1 1 1 1 1 1 1" divisor="16" targetX="1" targetY="1" edgeMode="none" preserveAlpha="false" result="avg"/>
<feFlood x="957" y="1426" width="1" height="1" flood-color="#000" result="dot"/>
<feComposite in="dot" in2="dot" operator="over" x="956" y="1425" width="4" height="4" result="dotcell"/>
<feTile in="dotcell" result="dots"/>
<feComponentTransfer in="avg" result="avc"><feFuncA type="linear" slope="1.25" intercept="-0.06"/></feComponentTransfer>
<feComposite in="avc" in2="dots" operator="in" result="samp"/>
<feMorphology in="samp" operator="dilate" radius="1" result="b3"/>
<feFlood x="959" y="1425" width="1" height="4" flood-color="#000" result="cbar"/>
<feComposite in="cbar" in2="cbar" operator="over" x="956" y="1425" width="4" height="4" result="ccell"/>
<feTile in="ccell" result="cmask"/>
<feOffset in="b3" dx="1" dy="0" result="b3x"/>
<feComposite in="b3x" in2="cmask" operator="in" result="fillx"/>
<feMerge result="b43"><feMergeNode in="b3"/><feMergeNode in="fillx"/></feMerge>
<feFlood x="956" y="1428" width="4" height="1" flood-color="#000" result="rbar"/>
<feComposite in="rbar" in2="rbar" operator="over" x="956" y="1425" width="4" height="4" result="rcell"/>
<feTile in="rcell" result="rmask"/>
<feOffset in="b43" dx="0" dy="1" result="b43y"/>
<feComposite in="b43y" in2="rmask" operator="in" result="filly"/>
<feMerge><feMergeNode in="b43"/><feMergeNode in="filly"/></feMerge>
</filter>
<filter id="p20" filterUnits="userSpaceOnUse" x="32" y="656" width="60" height="44" color-interpolation-filters="sRGB">
<feConvolveMatrix in="SourceGraphic" order="4" kernelMatrix="1 1 1 1 1 1 1 1 1 1 1 1 1 1 1 1" divisor="16" targetX="1" targetY="1" edgeMode="none" preserveAlpha="false" result="avg"/>
<feFlood x="33" y="657" width="1" height="1" flood-color="#000" result="dot"/>
<feComposite in="dot" in2="dot" operator="over" x="32" y="656" width="4" height="4" result="dotcell"/>
<feTile in="dotcell" result="dots"/>
<feComponentTransfer in="avg" result="avc"><feFuncA type="linear" slope="1.25" intercept="-0.06"/></feComponentTransfer>
<feComposite in="avc" in2="dots" operator="in" result="samp"/>
<feMorphology in="samp" operator="dilate" radius="1" result="b3"/>
<feFlood x="35" y="656" width="1" height="4" flood-color="#000" result="cbar"/>
<feComposite in="cbar" in2="cbar" operator="over" x="32" y="656" width="4" height="4" result="ccell"/>
<feTile in="ccell" result="cmask"/>
<feOffset in="b3" dx="1" dy="0" result="b3x"/>
<feComposite in="b3x" in2="cmask" operator="in" result="fillx"/>
<feMerge result="b43"><feMergeNode in="b3"/><feMergeNode in="fillx"/></feMerge>
<feFlood x="32" y="659" width="4" height="1" flood-color="#000" result="rbar"/>
<feComposite in="rbar" in2="rbar" operator="over" x="32" y="656" width="4" height="4" result="rcell"/>
<feTile in="rcell" result="rmask"/>
<feOffset in="b43" dx="0" dy="1" result="b43y"/>
<feComposite in="b43y" in2="rmask" operator="in" result="filly"/>
<feMerge><feMergeNode in="b43"/><feMergeNode in="filly"/></feMerge>
</filter>
</defs>
<rect width="1833" height="1497" fill="#fff"/>
<g id="under">
<path fill="#f7db98" d="M918.55 245.8H921.3V247.8H918.55zM921.3 245.8H924.05V247.8H921.3z"/>
<path fill="#faebc5" d="M916.55 247.8H918.55V250.55H916.55zM914.8 249.55H917.55V251.55H914.8zM925.05 249.55H927.8V251.55H925.05z"/>
<path fill="#edb120" d="M917.55 249.55H921.3V251.55H917.55zM924.05 247.8H926.05V250.55H924.05zM921.3 249.55H925.05V251.55H921.3zM444.05 379.05H446.05V381.8H444.05zM500.3 379.05H502.3V381.8H500.3zM556.55 379.05H558.55V381.8H556.55zM612.8 379.05H614.8V381.8H612.8zM669.05 379.05H671.05V381.8H669.05zM725.3 379.05H727.3V381.8H725.3zM781.55 379.05H783.55V381.8H781.55zM837.8 379.05H839.8V381.8H837.8zM894.05 379.05H896.05V381.8H894.05zM950.3 379.05H952.3V381.8H950.3zM1006.55 379.05H1008.55V381.8H1006.55zM1062.8 379.05H1064.8V381.8H1062.8zM1119.05 379.05H1121.05V381.8H1119.05zM1175.3 379.05H1177.3V381.8H1175.3zM1231.55 379.05H1233.55V381.8H1231.55zM1287.8 379.05H1289.8V381.8H1287.8zM1344.05 379.05H1346.05V381.8H1344.05zM1400.3 379.05H1402.3V381.8H1400.3zM1456.55 379.05H1458.55V381.8H1456.55zM1512.8 379.05H1514.8V381.8H1512.8zM161.05 384.55H163.8V386.55H161.05zM166.55 381.8H168.55V384.55H166.55zM163.8 384.55H166.55V386.55H163.8zM217.3 384.55H220.05V386.55H217.3zM222.8 381.8H224.8V384.55H222.8zM220.05 384.55H222.8V386.55H220.05zM273.55 384.55H276.3V386.55H273.55zM279.05 381.8H281.05V384.55H279.05zM276.3 384.55H279.05V386.55H276.3zM331.55 381.8H333.55V385.55H331.55zM329.8 384.55H332.55V386.55H329.8zM387.8 381.8H389.8V385.55H387.8zM386.05 384.55H388.8V386.55H386.05zM444.05 381.8H446.05V385.55H444.05zM442.3 384.55H445.05V386.55H442.3zM500.3 381.8H502.3V385.55H500.3zM498.55 384.55H501.3V386.55H498.55zM556.55 381.8H558.55V385.55H556.55zM554.8 384.55H557.55V386.55H554.8zM612.8 381.8H614.8V385.55H612.8zM611.05 384.55H613.8V386.55H611.05zM669.05 381.8H671.05V385.55H669.05zM667.3 384.55H670.05V386.55H667.3zM725.3 381.8H727.3V385.55H725.3zM723.55 384.55H726.3V386.55H723.55zM781.55 381.8H783.55V385.55H781.55zM779.8 384.55H782.55V386.55H779.8zM837.8 381.8H839.8V385.55H837.8zM835.05 384.55H838.8V386.55H835.05zM894.05 381.8H896.05V385.55H894.05zM891.3 384.55H895.05V386.55H891.3zM950.3 381.8H952.3V385.55H950.3zM947.55 384.55H951.3V386.55H947.55zM1006.55 381.8H1008.55V385.55H1006.55zM1003.8 384.55H1007.55V386.55H1003.8zM1062.8 381.8H1064.8V385.55H1062.8zM1060.05 384.55H1063.8V386.55H1060.05zM1119.05 381.8H1121.05V385.55H1119.05zM1116.3 384.55H1120.05V386.55H1116.3zM1175.3 381.8H1177.3V384.55H1175.3zM1172.55 384.55H1175.3V386.55H1172.55zM1231.55 381.8H1233.55V384.55H1231.55zM1228.8 384.55H1231.55V386.55H1228.8zM1287.8 381.8H1289.8V384.55H1287.8zM1285.05 384.55H1287.8V386.55H1285.05zM1344.05 381.8H1346.05V384.55H1344.05zM1341.3 384.55H1344.05V386.55H1341.3zM1400.3 381.8H1402.3V384.55H1400.3zM1397.55 384.55H1400.3V386.55H1397.55zM1456.55 381.8H1458.55V384.55H1456.55zM1453.8 384.55H1456.55V386.55H1453.8zM1512.8 381.8H1514.8V384.55H1512.8zM1510.05 384.55H1512.8V386.55H1510.05zM1569.05 381.8H1571.05V384.55H1569.05zM1566.3 384.55H1569.05V386.55H1566.3zM1625.3 381.8H1627.3V384.55H1625.3zM1622.55 384.55H1625.3V386.55H1622.55zM1676.05 384.55H1678.8V386.55H1676.05zM1681.55 381.8H1683.55V384.55H1681.55zM1678.8 384.55H1681.55V386.55H1678.8zM1732.3 384.55H1735.05V386.55H1732.3zM1737.8 381.8H1739.8V384.55H1737.8zM1735.05 384.55H1737.8V386.55H1735.05zM1788.55 384.55H1791.3V386.55H1788.55zM1794.05 381.8H1796.05V384.55H1794.05zM1791.3 384.55H1794.05V386.55H1791.3z"/>
<path fill="#fdf6e4" d="M916.55 250.55H918.55V253.3H916.55zM219.05 375.3H221.05V378.05H219.05zM217.3 377.05H220.05V379.05H217.3zM275.3 375.3H277.3V378.05H275.3zM273.55 377.05H276.3V379.05H273.55zM331.55 375.3H333.55V378.05H331.55zM329.8 377.05H332.55V379.05H329.8zM1622.55 377.05H1625.3V379.05H1622.55zM1678.8 377.05H1681.55V379.05H1678.8zM1735.05 377.05H1737.8V379.05H1735.05zM392.55 384.55H395.3V386.55H392.55zM1561.55 382.8H1563.55V385.55H1561.55zM1559.8 384.55H1562.55V386.55H1559.8z"/>
<path fill="#eeb630" d="M924.05 250.55H926.05V253.3H924.05z"/>
<path fill="#ffcccc" d="M918.55 305.8H921.3V307.8H918.55zM921.3 305.8H924.05V307.8H921.3zM916.55 307.8H918.55V310.55H916.55zM916.55 310.55H918.55V313.3H916.55zM845.3 505.55H847.3V508.3H845.3z"/>
<path fill="#ff0303" d="M924.05 307.8H926.05V310.55H924.05zM918.55 313.3H921.3V315.3H918.55zM924.05 310.55H926.05V313.3H924.05zM921.3 313.3H924.05V315.3H921.3zM957.8 483.05H959.8V485.8H957.8zM999.05 483.05H1001.05V485.8H999.05zM635.3 528.05H637.3V531.8H635.3zM632.55 530.8H636.3V532.8H632.55zM1321.55 529.05H1323.55V531.8H1321.55zM1318.8 530.8H1322.55V532.8H1318.8z"/>
<path fill="#262626" d="M164.8 373.3H166.55V375.3H164.8zM1788.55 373.3H1790.3V375.3H1788.55zM172.3 384.55H175.05V386.55H172.3zM175.05 384.55H177.8V386.55H175.05zM1777.3 384.55H1780.05V386.55H1777.3zM1782.8 382.8H1784.8V384.55H1782.8zM1780.05 384.55H1782.8V386.55H1780.05z"/>
<path fill="#fdf7e9" d="M162.8 375.3H164.8V378.05H162.8zM161.05 377.05H163.8V379.05H161.05zM220.05 377.05H222.8V379.05H220.05zM1734.05 375.3H1736.05V378.05H1734.05zM1732.3 377.05H1735.05V379.05H1732.3zM1791.3 377.05H1794.05V379.05H1791.3z"/>
<path fill="#3a3425" d="M163.8 377.05H166.55V379.05H163.8zM1790.3 375.3H1792.3V378.05H1790.3zM1788.55 377.05H1791.3V379.05H1788.55z"/>
<path fill="#fdf8eb" d="M276.3 377.05H279.05V379.05H276.3zM1677.8 375.3H1679.8V378.05H1677.8zM1676.05 377.05H1678.8V379.05H1676.05zM336.3 380.8H339.05V382.8H336.3zM1617.8 379.05H1619.8V381.8H1617.8zM1616.05 380.8H1618.8V382.8H1616.05zM448.8 384.55H451.55V386.55H448.8zM1505.3 382.8H1507.3V385.55H1505.3zM1503.55 384.55H1506.3V386.55H1503.55zM890.3 385.55H892.3V388.3H890.3zM946.55 385.55H948.55V388.3H946.55z"/>
<path fill="#fef9ed" d="M332.55 377.05H335.3V379.05H332.55zM388.8 377.05H391.55V379.05H388.8zM1565.3 375.3H1567.3V378.05H1565.3zM1563.55 377.05H1566.3V379.05H1563.55zM1621.55 375.3H1623.55V378.05H1621.55zM1619.8 377.05H1622.55V379.05H1619.8zM834.05 385.55H836.05V388.3H834.05z"/>
<path fill="#fcf4e0" d="M387.8 375.3H389.8V378.05H387.8zM386.05 377.05H388.8V379.05H386.05zM442.3 377.05H444.05V379.05H442.3zM1511.05 377.05H1512.8V379.05H1511.05zM1566.3 377.05H1569.05V379.05H1566.3zM223.8 380.8H226.55V382.8H223.8zM1730.3 379.05H1732.3V381.8H1730.3zM1728.55 380.8H1731.3V382.8H1728.55z"/>
<path fill="#fcf3de" d="M498.55 377.05H500.3V379.05H498.55zM1454.8 377.05H1456.55V379.05H1454.8z"/>
<path fill="#fcf3db" d="M554.8 377.05H556.55V379.05H554.8zM611.05 377.05H612.8V379.05H611.05zM1342.3 377.05H1344.05V379.05H1342.3zM1398.55 377.05H1400.3V379.05H1398.55zM159.05 379.05H161.05V381.8H159.05zM157.3 380.8H160.05V382.8H157.3zM167.55 380.8H170.3V382.8H167.55zM1786.55 379.05H1788.55V381.8H1786.55zM1784.8 380.8H1787.55V382.8H1784.8zM1795.05 380.8H1797.8V382.8H1795.05z"/>
<path fill="#fcf2d9" d="M667.3 377.05H669.05V379.05H667.3zM1286.05 377.05H1287.8V379.05H1286.05z"/>
<path fill="#fcf1d7" d="M723.55 377.05H725.3V379.05H723.55zM779.8 377.05H781.55V379.05H779.8zM836.05 377.05H837.8V379.05H836.05zM948.55 377.05H950.3V379.05H948.55zM1004.8 377.05H1006.55V379.05H1004.8zM1117.3 377.05H1119.05V379.05H1117.3zM1173.55 377.05H1175.3V379.05H1173.55zM1229.8 377.05H1231.55V379.05H1229.8zM215.3 379.05H217.3V381.8H215.3zM213.55 380.8H216.3V382.8H213.55zM1738.8 380.8H1741.55V382.8H1738.8z"/>
<path fill="#fcf0d5" d="M892.3 377.05H894.05V379.05H892.3zM1061.05 377.05H1062.8V379.05H1061.05zM616.55 386.55H618.55V388.3H616.55zM1340.3 385.55H1342.3V388.3H1340.3z"/>
<path fill="#eeb327" d="M162.8 378.05H164.8V381.8H162.8zM160.05 380.8H163.8V382.8H160.05zM222.8 379.05H224.8V381.8H222.8zM220.05 380.8H223.8V382.8H220.05zM1734.05 378.05H1736.05V381.8H1734.05zM1731.3 380.8H1735.05V382.8H1731.3zM1794.05 379.05H1796.05V381.8H1794.05zM1791.3 380.8H1795.05V382.8H1791.3z"/>
<path fill="#e7ad20" d="M166.55 379.05H168.55V381.8H166.55zM163.8 380.8H167.55V382.8H163.8zM1790.3 378.05H1792.3V381.8H1790.3zM1787.55 380.8H1791.3V382.8H1787.55z"/>
<path fill="#edb324" d="M219.05 378.05H221.05V381.8H219.05zM216.3 380.8H220.05V382.8H216.3zM1737.8 379.05H1739.8V381.8H1737.8zM1735.05 380.8H1738.8V382.8H1735.05z"/>
<path fill="#fbedcc" d="M271.55 379.05H273.55V381.8H271.55zM269.8 380.8H272.55V382.8H269.8zM1682.55 380.8H1685.3V382.8H1682.55zM159.05 381.8H161.05V384.55H159.05zM447.8 385.55H449.8V388.3H447.8zM1509.05 385.55H1511.05V388.3H1509.05z"/>
<path fill="#edb222" d="M275.3 378.05H277.3V381.8H275.3zM272.55 380.8H276.3V382.8H272.55zM331.55 378.05H333.55V381.8H331.55zM328.8 380.8H332.55V382.8H328.8zM387.8 378.05H389.8V381.8H387.8zM385.05 380.8H388.8V382.8H385.05zM1569.05 379.05H1571.05V381.8H1569.05zM1566.3 380.8H1570.05V382.8H1566.3zM1625.3 379.05H1627.3V381.8H1625.3zM1622.55 380.8H1626.3V382.8H1622.55zM1681.55 379.05H1683.55V381.8H1681.55zM1678.8 380.8H1682.55V382.8H1678.8z"/>
<path fill="#eeb62d" d="M279.05 379.05H281.05V381.8H279.05zM276.3 380.8H280.05V382.8H276.3zM335.3 379.05H337.3V381.8H335.3zM332.55 380.8H336.3V382.8H332.55zM388.8 380.8H391.55V382.8H388.8zM1565.3 378.05H1567.3V381.8H1565.3zM1563.55 380.8H1566.3V382.8H1563.55zM1621.55 378.05H1623.55V381.8H1621.55zM1618.8 380.8H1622.55V382.8H1618.8zM1677.8 378.05H1679.8V381.8H1677.8zM1675.05 380.8H1678.8V382.8H1675.05z"/>
<path fill="#fdf6e6" d="M280.05 380.8H282.8V382.8H280.05zM1674.05 379.05H1676.05V381.8H1674.05zM1672.3 380.8H1675.05V382.8H1672.3zM1002.8 385.55H1004.8V388.3H1002.8z"/>
<path fill="#faecc7" d="M327.8 379.05H329.8V381.8H327.8zM326.05 380.8H328.8V382.8H326.05zM1626.3 380.8H1629.05V382.8H1626.3zM391.55 385.55H393.55V388.3H391.55zM1565.3 385.55H1567.3V388.3H1565.3zM1621.55 385.55H1623.55V388.3H1621.55z"/>
<path fill="#fae9c1" d="M384.05 379.05H386.05V381.8H384.05zM382.3 380.8H385.05V382.8H382.3zM1570.05 380.8H1572.8V382.8H1570.05zM215.3 381.8H217.3V384.55H215.3z"/>
<path fill="#f9e6b8" d="M440.3 379.05H442.3V381.8H440.3zM438.55 380.8H441.3V382.8H438.55zM1513.8 380.8H1516.55V382.8H1513.8zM219.05 385.55H221.05V388.3H219.05z"/>
<path fill="#efb936" d="M445.05 380.8H447.8V382.8H445.05zM1509.05 379.05H1511.05V381.8H1509.05zM1507.3 380.8H1510.05V382.8H1507.3zM726.3 384.55H729.05V386.55H726.3zM1227.8 381.8H1229.8V385.55H1227.8zM1226.05 384.55H1228.8V386.55H1226.05z"/>
<path fill="#f9e4b3" d="M496.55 379.05H498.55V381.8H496.55zM494.8 380.8H497.55V382.8H494.8zM1457.55 380.8H1460.3V382.8H1457.55zM275.3 385.55H277.3V388.3H275.3z"/>
<path fill="#efba39" d="M501.3 380.8H504.05V382.8H501.3zM1452.8 379.05H1454.8V381.8H1452.8zM1451.05 380.8H1453.8V382.8H1451.05z"/>
<path fill="#f8e2ac" d="M552.8 379.05H554.8V381.8H552.8zM551.05 380.8H553.8V382.8H551.05zM1401.3 380.8H1404.05V382.8H1401.3zM444.05 385.55H446.05V388.3H444.05zM556.55 385.55H558.55V388.3H556.55z"/>
<path fill="#efba3b" d="M557.55 380.8H560.3V382.8H557.55zM1396.55 379.05H1398.55V381.8H1396.55zM1394.8 380.8H1397.55V382.8H1394.8z"/>
<path fill="#f7dea1" d="M609.05 379.05H611.05V381.8H609.05zM607.3 380.8H610.05V382.8H607.3zM1345.05 380.8H1347.8V382.8H1345.05z"/>
<path fill="#f0bd44" d="M613.8 380.8H616.55V382.8H613.8zM1340.3 379.05H1342.3V381.8H1340.3zM1338.55 380.8H1341.3V382.8H1338.55z"/>
<path fill="#f7dd9d" d="M665.3 379.05H667.3V381.8H665.3zM663.55 380.8H666.3V382.8H663.55zM1288.8 380.8H1291.55V382.8H1288.8z"/>
<path fill="#f0bf48" d="M670.05 380.8H672.8V382.8H670.05zM1284.05 379.05H1286.05V381.8H1284.05zM1282.3 380.8H1285.05V382.8H1282.3zM838.8 384.55H841.55V386.55H838.8zM1115.3 381.8H1117.3V385.55H1115.3zM1113.55 384.55H1116.3V386.55H1113.55z"/>
<path fill="#f6d992" d="M721.55 379.05H723.55V381.8H721.55zM719.8 380.8H722.55V382.8H719.8zM1232.55 380.8H1235.3V382.8H1232.55z"/>
<path fill="#f1c14d" d="M726.3 380.8H729.05V382.8H726.3zM1227.8 379.05H1229.8V381.8H1227.8zM1226.05 380.8H1228.8V382.8H1226.05zM895.05 384.55H897.8V386.55H895.05zM1059.05 381.8H1061.05V385.55H1059.05zM1057.3 384.55H1060.05V386.55H1057.3z"/>
<path fill="#f6d68b" d="M777.8 379.05H779.8V381.8H777.8zM776.05 380.8H778.8V382.8H776.05zM1176.3 380.8H1179.05V382.8H1176.3z"/>
<path fill="#f2c55a" d="M782.55 380.8H785.3V382.8H782.55zM1171.55 379.05H1173.55V381.8H1171.55zM1169.8 380.8H1172.55V382.8H1169.8z"/>
<path fill="#f5d587" d="M834.05 379.05H836.05V381.8H834.05zM832.3 380.8H835.05V382.8H832.3zM1120.05 380.8H1122.8V382.8H1120.05zM665.3 381.8H667.3V384.55H665.3z"/>
<path fill="#f2c75e" d="M838.8 380.8H841.55V382.8H838.8zM1115.3 379.05H1117.3V381.8H1115.3zM1113.55 380.8H1116.3V382.8H1113.55zM946.55 381.8H948.55V385.55H946.55zM944.8 384.55H947.55V386.55H944.8zM1007.55 384.55H1010.3V386.55H1007.55z"/>
<path fill="#f4d17b" d="M890.3 379.05H892.3V381.8H890.3zM888.55 380.8H891.3V382.8H888.55zM1063.8 380.8H1066.55V382.8H1063.8z"/>
<path fill="#f2c863" d="M895.05 380.8H897.8V382.8H895.05zM1059.05 379.05H1061.05V381.8H1059.05zM1057.3 380.8H1060.05V382.8H1057.3zM890.3 381.8H892.3V385.55H890.3zM888.55 384.55H891.3V386.55H888.55zM1063.8 384.55H1066.55V386.55H1063.8z"/>
<path fill="#f4cf75" d="M946.55 379.05H948.55V381.8H946.55zM944.8 380.8H947.55V382.8H944.8zM1007.55 380.8H1010.3V382.8H1007.55zM777.8 381.8H779.8V384.55H777.8z"/>
<path fill="#f3cd70" d="M951.3 380.8H954.05V382.8H951.3zM1002.8 379.05H1004.8V381.8H1002.8zM1001.05 380.8H1003.8V382.8H1001.05zM834.05 381.8H836.05V385.55H834.05zM832.3 384.55H835.05V386.55H832.3zM1120.05 384.55H1122.8V386.55H1120.05z"/>
<path fill="#37edcc" d="M170.3 382.8H172.3V384.55H170.3zM1786.55 381.8H1788.55V384.55H1786.55z"/>
<path fill="#f9e7ba" d="M271.55 381.8H273.55V384.55H271.55z"/>
<path fill="#f9e5b5" d="M327.8 381.8H329.8V384.55H327.8zM331.55 385.55H333.55V388.3H331.55z"/>
<path fill="#ebb222" d="M335.3 381.8H337.3V384.55H335.3zM332.55 384.55H335.3V386.55H332.55zM391.55 382.8H393.55V385.55H391.55zM388.8 384.55H392.55V386.55H388.8zM1565.3 381.8H1567.3V385.55H1565.3zM1562.55 384.55H1566.3V386.55H1562.55zM1621.55 381.8H1623.55V385.55H1621.55zM1619.8 384.55H1622.55V386.55H1619.8z"/>
<path fill="#f8e0a6" d="M384.05 381.8H386.05V384.55H384.05zM725.3 385.55H727.3V388.3H725.3zM781.55 385.55H783.55V388.3H781.55z"/>
<path fill="#f8dfa4" d="M440.3 381.8H442.3V384.55H440.3z"/>
<path fill="#e8b324" d="M447.8 382.8H449.8V385.55H447.8zM445.05 384.55H448.8V386.55H445.05zM1509.05 381.8H1511.05V385.55H1509.05zM1506.3 384.55H1510.05V386.55H1506.3z"/>
<path fill="#f7dd9f" d="M496.55 381.8H498.55V384.55H496.55z"/>
<path fill="#e6b327" d="M501.3 384.55H504.05V386.55H501.3zM1452.8 381.8H1454.8V385.55H1452.8zM1451.05 384.55H1453.8V386.55H1451.05z"/>
<path fill="#f6d890" d="M552.8 381.8H554.8V384.55H552.8z"/>
<path fill="#e4b429" d="M557.55 384.55H560.3V386.55H557.55zM1396.55 381.8H1398.55V385.55H1396.55zM1394.8 384.55H1397.55V386.55H1394.8z"/>
<path fill="#f6d78d" d="M609.05 381.8H611.05V384.55H609.05z"/>
<path fill="#dfb62d" d="M613.8 384.55H616.55V386.55H613.8zM1340.3 381.8H1342.3V385.55H1340.3zM1338.55 384.55H1341.3V386.55H1338.55z"/>
<path fill="#dcb630" d="M670.05 384.55H672.8V386.55H670.05zM1284.05 381.8H1286.05V385.55H1284.05zM1282.3 384.55H1285.05V386.55H1282.3z"/>
<path fill="#f4d079" d="M721.55 381.8H723.55V384.55H721.55z"/>
<path fill="#f0bc3f" d="M782.55 384.55H785.3V386.55H782.55zM1171.55 381.8H1173.55V385.55H1171.55zM1169.8 384.55H1172.55V386.55H1169.8z"/>
<path fill="#f2c458" d="M951.3 384.55H954.05V386.55H951.3zM1002.8 381.8H1004.8V385.55H1002.8zM1001.05 384.55H1003.8V386.55H1001.05z"/>
<path fill="#21f4e0" d="M1617.8 381.8H1619.8V384.55H1617.8z"/>
<path fill="#2bf1d7" d="M1674.05 381.8H1676.05V384.55H1674.05z"/>
<path fill="#32efd0" d="M1730.3 381.8H1732.3V384.55H1730.3z"/>
<path fill="#fae8bc" d="M162.8 385.55H164.8V388.3H162.8z"/>
<path fill="#625024" d="M164.8 388.3H166.55V390.3H164.8zM1790.3 385.55H1792.3V388.3H1790.3zM1788.55 388.3H1790.3V390.3H1788.55z"/>
<path fill="#f9e4b1" d="M387.8 385.55H389.8V388.3H387.8z"/>
<path fill="#f9e3af" d="M500.3 385.55H502.3V388.3H500.3z"/>
<path fill="#fbefd0" d="M504.05 386.55H506.05V388.3H504.05zM560.3 386.55H562.3V388.3H560.3zM1396.55 385.55H1398.55V388.3H1396.55zM1452.8 385.55H1454.8V388.3H1452.8z"/>
<path fill="#f8e1a8" d="M612.8 385.55H614.8V388.3H612.8zM837.8 385.55H839.8V388.3H837.8zM1119.05 385.55H1121.05V388.3H1119.05z"/>
<path fill="#f8e1aa" d="M669.05 385.55H671.05V388.3H669.05z"/>
<path fill="#24f3de" d="M783.55 388.3H785.3V390.3H783.55zM1171.55 385.55H1173.55V388.3H1171.55zM1169.8 388.3H1171.55V390.3H1169.8z"/>
<path fill="#1ff5e2" d="M839.8 388.3H841.55V390.3H839.8zM1115.3 385.55H1117.3V388.3H1115.3zM1113.55 388.3H1115.3V390.3H1113.55z"/>
<path fill="#61dfa4" d="M894.05 385.55H896.05V388.3H894.05zM1062.8 385.55H1064.8V388.3H1062.8z"/>
<path fill="#fdf5e2" d="M896.05 388.3H897.8V390.3H896.05zM1059.05 385.55H1061.05V388.3H1059.05zM1057.3 388.3H1059.05V390.3H1057.3z"/>
<path fill="#5fe0a6" d="M950.3 385.55H952.3V388.3H950.3zM948.55 388.3H950.3V390.3H948.55zM1006.55 385.55H1008.55V388.3H1006.55zM1004.8 388.3H1006.55V390.3H1004.8z"/>
<path fill="#28f2d9" d="M1227.8 385.55H1229.8V388.3H1227.8zM1284.05 385.55H1286.05V388.3H1284.05z"/>
<path fill="#00ffff" d="M1336.55 386.55H1338.55V388.3H1336.55zM1392.8 386.55H1394.8V388.3H1392.8zM1449.05 386.55H1451.05V388.3H1449.05zM1505.3 385.55H1507.3V388.3H1505.3zM1561.55 385.55H1563.55V388.3H1561.55zM952.3 474.55H955.05V476.55H952.3zM955.05 474.55H957.8V476.55H955.05zM997.3 474.55H1000.05V476.55H997.3zM1000.05 474.55H1002.8V476.55H1000.05zM913.8 478.3H916.55V480.3H913.8zM1038.55 478.3H1041.3V480.3H1038.55zM912.8 479.3H914.8V483.05H912.8zM911.05 482.05H913.8V484.05H911.05zM1041.3 482.05H1044.05V484.05H1041.3zM873.55 489.55H876.3V491.55H873.55zM876.3 489.55H879.05V491.55H876.3zM1076.05 489.55H1078.8V491.55H1076.05zM1078.8 489.55H1081.55V491.55H1078.8zM843.55 497.05H846.3V499.05H843.55zM846.3 497.05H849.05V499.05H846.3zM1106.05 497.05H1108.8V499.05H1106.05zM1108.8 497.05H1111.55V499.05H1108.8zM813.55 504.55H816.3V506.55H813.55zM816.3 504.55H819.05V506.55H816.3zM1136.05 504.55H1138.8V506.55H1136.05zM1138.8 504.55H1141.55V506.55H1138.8zM789.05 510.3H791.05V513.05H789.05zM787.3 512.05H790.05V514.05H787.3zM1165.05 512.05H1167.8V514.05H1165.05zM762.8 514.05H764.8V516.8H762.8zM760.05 515.8H763.8V517.8H760.05zM1191.3 515.8H1195.05V517.8H1191.3zM736.55 517.8H738.55V520.55H736.55zM733.8 519.55H737.55V521.55H733.8zM759.05 516.8H761.05V519.55H759.05zM1217.55 519.55H1221.3V521.55H1217.55zM659.8 523.3H662.55V525.3H659.8zM662.55 523.3H665.3V525.3H662.55zM706.55 521.55H708.55V524.3H706.55zM732.8 520.55H734.8V523.3H732.8zM1289.8 523.3H1292.55V525.3H1289.8zM1292.55 523.3H1295.3V525.3H1292.55zM554.8 527.05H557.55V529.05H554.8zM602.55 527.05H606.3V529.05H602.55zM606.3 527.05H610.05V529.05H606.3zM610.05 527.05H612.8V529.05H610.05zM633.55 527.05H636.3V529.05H633.55zM636.3 527.05H639.05V529.05H636.3zM654.05 525.3H656.05V528.05H654.05zM680.3 525.3H682.3V527.05H680.3zM706.55 524.3H708.55V527.05H706.55zM1316.05 527.05H1318.8V529.05H1316.05zM1318.8 527.05H1321.55V529.05H1318.8zM1342.3 527.05H1345.05V529.05H1342.3zM1345.05 527.05H1348.8V529.05H1345.05zM1348.8 527.05H1352.55V529.05H1348.8zM1397.55 527.05H1400.3V529.05H1397.55zM549.05 529.05H551.05V531.8H549.05zM546.3 530.8H550.05V532.8H546.3zM575.3 529.05H577.3V531.8H575.3zM572.55 530.8H576.3V532.8H572.55zM583.8 530.8H586.55V532.8H583.8zM601.55 528.05H603.55V531.8H601.55zM598.8 530.8H602.55V532.8H598.8zM627.8 529.05H629.8V530.8H627.8zM654.05 528.05H656.05V530.8H654.05zM1340.3 529.05H1342.3V530.8H1340.3zM1352.55 530.8H1356.3V532.8H1352.55zM1370.3 529.05H1372.3V531.8H1370.3zM1368.55 530.8H1371.3V532.8H1368.55zM1378.8 530.8H1382.55V532.8H1378.8zM1396.55 528.05H1398.55V530.8H1396.55zM1405.05 530.8H1408.8V532.8H1405.05zM545.3 531.8H547.3V534.55H545.3zM571.55 531.8H573.55V534.55H571.55zM597.8 531.8H599.8V534.55H597.8z"/>
<path fill="#faeac3" d="M1677.8 385.55H1679.8V388.3H1677.8z"/>
<path fill="#fae8be" d="M1734.05 385.55H1736.05V388.3H1734.05z"/>
<path fill="#45baba" d="M954.05 475.55H956.05V479.3H954.05zM952.3 478.3H955.05V480.3H952.3zM1000.05 478.3H1002.8V480.3H1000.05z"/>
<path fill="#857a7a" d="M957.8 476.55H959.8V479.3H957.8zM955.05 478.3H958.8V480.3H955.05zM999.05 475.55H1001.05V479.3H999.05zM996.3 478.3H1000.05V480.3H996.3z"/>
<path fill="#ffe8e8" d="M958.8 478.3H961.55V480.3H958.8zM995.3 476.55H997.3V479.3H995.3zM993.55 478.3H996.3V480.3H993.55zM912.8 490.55H914.8V493.3H912.8zM911.05 493.3H912.8V495.3H911.05zM1042.3 493.3H1044.05V495.3H1042.3zM762.8 524.3H764.8V527.05H762.8z"/>
<path fill="#2ed1d1" d="M913.8 482.05H916.55V484.05H913.8zM1040.3 479.3H1042.3V483.05H1040.3zM1038.55 482.05H1041.3V484.05H1038.55z"/>
<path fill="#ff0a0a" d="M954.05 479.3H956.05V483.05H954.05zM952.3 482.05H955.05V484.05H952.3zM1000.05 482.05H1002.8V484.05H1000.05z"/>
<path fill="#ff0000" d="M957.8 479.3H959.8V483.05H957.8zM955.05 482.05H958.8V484.05H955.05zM999.05 479.3H1001.05V483.05H999.05zM996.3 482.05H1000.05V484.05H996.3zM916.55 484.05H918.55V486.8H916.55zM1040.3 483.05H1042.3V486.8H1040.3zM916.55 486.8H918.55V490.55H916.55zM913.8 489.55H917.55V491.55H913.8zM1040.3 486.8H1042.3V490.55H1040.3zM1037.55 489.55H1041.3V491.55H1037.55zM877.3 497.05H880.05V499.05H877.3zM882.8 494.3H884.8V497.05H882.8zM880.05 497.05H882.8V499.05H880.05zM1072.3 497.05H1075.05V499.05H1072.3zM1077.8 494.3H1079.8V497.05H1077.8zM1075.05 497.05H1077.8V499.05H1075.05zM849.05 501.8H851.05V505.55H849.05zM846.3 504.55H850.05V506.55H846.3zM1107.8 501.8H1109.8V505.55H1107.8zM1105.05 504.55H1108.8V506.55H1105.05zM817.3 512.05H820.05V514.05H817.3zM822.8 510.3H824.8V512.05H822.8zM820.05 512.05H822.8V514.05H820.05zM1132.3 512.05H1135.05V514.05H1132.3zM1137.8 509.3H1139.8V512.05H1137.8zM1135.05 512.05H1137.8V514.05H1135.05zM792.8 513.05H794.8V516.8H792.8zM1164.05 513.05H1166.05V516.8H1164.05zM766.55 517.8H768.55V520.55H766.55zM792.8 516.8H794.8V519.55H792.8zM791.05 519.55H792.8V521.55H791.05zM1164.05 516.8H1166.05V519.55H1164.05zM1162.3 519.55H1164.05V521.55H1162.3zM1190.3 516.8H1192.3V520.55H1190.3zM740.3 521.55H742.3V524.3H740.3zM766.55 520.55H768.55V524.3H766.55zM763.8 523.3H767.55V525.3H763.8zM1190.3 520.55H1192.3V524.3H1190.3zM1187.55 523.3H1191.3V525.3H1187.55zM1216.55 520.55H1218.55V524.3H1216.55zM714.05 524.3H716.05V528.05H714.05zM740.3 524.3H742.3V528.05H740.3zM737.55 527.05H741.3V529.05H737.55zM1216.55 524.3H1218.55V528.05H1216.55zM1213.8 527.05H1217.55V529.05H1213.8zM1242.8 524.3H1244.8V528.05H1242.8zM661.55 528.05H663.55V531.8H661.55zM687.8 528.05H689.8V531.8H687.8zM685.05 530.8H688.8V532.8H685.05zM714.05 528.05H716.05V530.8H714.05zM712.3 530.8H714.05V532.8H712.3zM1242.8 528.05H1244.8V530.8H1242.8zM1241.05 530.8H1242.8V532.8H1241.05zM1269.05 528.05H1271.05V531.8H1269.05zM1266.3 530.8H1270.05V532.8H1266.3zM1295.3 528.05H1297.3V531.8H1295.3zM552.8 531.8H554.8V535.55H552.8zM576.3 534.55H580.05V536.55H576.3zM582.8 531.8H584.8V535.55H582.8zM580.05 534.55H583.8V536.55H580.05zM603.55 534.55H606.3V536.55H603.55zM609.05 531.8H611.05V535.55H609.05zM606.3 534.55H610.05V536.55H606.3zM635.3 531.8H637.3V535.55H635.3zM632.55 534.55H636.3V536.55H632.55zM661.55 531.8H663.55V534.55H661.55zM659.8 534.55H661.55V536.55H659.8zM1295.3 531.8H1297.3V534.55H1295.3zM1293.55 534.55H1295.3V536.55H1293.55zM1321.55 531.8H1323.55V535.55H1321.55zM1318.8 534.55H1322.55V536.55H1318.8zM1345.05 534.55H1348.8V536.55H1345.05zM1351.55 531.8H1353.55V534.55H1351.55zM1348.8 534.55H1351.55V536.55H1348.8zM1371.3 534.55H1375.05V536.55H1371.3zM1377.8 531.8H1379.8V535.55H1377.8zM1375.05 534.55H1378.8V536.55H1375.05zM1404.05 531.8H1406.05V535.55H1404.05zM552.8 535.55H554.8V539.3H552.8zM551.05 538.3H553.8V540.3H551.05zM1404.05 535.55H1406.05V538.3H1404.05zM1401.3 538.3H1404.05V540.3H1401.3z"/>
<path fill="#8f3253" d="M961.55 480.3H963.55V482.05H961.55zM958.8 482.05H961.55V484.05H958.8zM995.3 479.3H997.3V483.05H995.3zM993.55 482.05H996.3V484.05H993.55z"/>
<path fill="#0072bd" d="M991.55 480.3H993.55V482.05H991.55zM950.3 484.05H952.3V485.8H950.3zM1032.8 491.55H1034.8V493.3H1032.8z"/>
<path fill="#ff6161" d="M912.8 483.05H914.8V486.8H912.8zM911.05 485.8H913.8V487.8H911.05zM1041.3 485.8H1044.05V487.8H1041.3z"/>
<path fill="#ff5c5c" d="M917.55 485.8H920.3V487.8H917.55zM1036.55 484.05H1038.55V486.8H1036.55zM1034.8 485.8H1037.55V487.8H1034.8z"/>
<path fill="#bf1c2f" d="M954.05 483.05H956.05V485.8H954.05zM1002.8 484.05H1004.8V485.8H1002.8z"/>
<path fill="#ffa3a3" d="M995.3 483.05H997.3V485.8H995.3zM792.8 510.3H794.8V513.05H792.8zM790.05 512.05H793.8V514.05H790.05zM1164.05 510.3H1166.05V513.05H1164.05zM1161.3 512.05H1165.05V514.05H1161.3zM636.3 530.8H639.05V532.8H636.3zM1317.8 528.05H1319.8V531.8H1317.8zM1316.05 530.8H1318.8V532.8H1316.05z"/>
<path fill="#ff4747" d="M912.8 486.8H914.8V490.55H912.8zM911.05 489.55H913.8V491.55H911.05zM1041.3 489.55H1044.05V491.55H1041.3zM657.8 531.8H659.8V534.55H657.8z"/>
<path fill="#ff3838" d="M917.55 489.55H920.3V491.55H917.55zM1036.55 486.8H1038.55V490.55H1036.55zM1034.8 489.55H1037.55V491.55H1034.8z"/>
<path fill="#ffe0e0" d="M875.3 490.55H877.3V494.3H875.3zM873.55 493.3H876.3V495.3H873.55zM1078.8 493.3H1081.55V495.3H1078.8zM612.8 529.05H614.8V530.8H612.8zM610.05 530.8H612.8V532.8H610.05zM1344.05 528.05H1346.05V531.8H1344.05zM1342.3 530.8H1345.05V532.8H1342.3z"/>
<path fill="#eb1414" d="M879.05 491.55H881.05V494.3H879.05zM876.3 493.3H880.05V495.3H876.3zM1077.8 490.55H1079.8V494.3H1077.8zM1075.05 493.3H1078.8V495.3H1075.05z"/>
<path fill="#ff1212" d="M882.8 491.55H884.8V494.3H882.8zM880.05 493.3H883.8V495.3H880.05zM1074.05 491.55H1076.05V494.3H1074.05zM1071.3 493.3H1075.05V495.3H1071.3z"/>
<path fill="#ffdbdb" d="M883.8 493.3H886.55V495.3H883.8zM1070.3 491.55H1072.3V494.3H1070.3zM1068.55 493.3H1071.3V495.3H1068.55zM793.8 512.05H796.55V514.05H793.8zM1160.3 510.3H1162.3V513.05H1160.3zM1158.55 512.05H1161.3V514.05H1158.55zM763.8 515.8H766.55V517.8H763.8zM1190.3 514.05H1192.3V516.8H1190.3zM1188.55 515.8H1191.3V517.8H1188.55zM575.3 535.55H577.3V538.3H575.3zM1370.3 535.55H1372.3V538.3H1370.3zM1400.3 539.3H1402.3V542.05H1400.3z"/>
<path fill="#6e416c" d="M916.55 490.55H918.55V493.3H916.55zM1040.3 490.55H1042.3V493.3H1040.3z"/>
<path fill="#1f64a6" d="M920.3 491.55H922.3V493.3H920.3zM1036.55 490.55H1038.55V493.3H1036.55z"/>
<path fill="#ffbfbf" d="M875.3 494.3H877.3V497.05H875.3z"/>
<path fill="#ffb0b0" d="M1070.3 494.3H1072.3V497.05H1070.3zM684.05 531.8H686.05V534.55H684.05z"/>
<path fill="#4ab5b5" d="M845.3 498.05H847.3V501.8H845.3zM843.55 500.8H846.3V502.8H843.55zM1108.8 500.8H1111.55V502.8H1108.8z"/>
<path fill="#de2121" d="M849.05 499.05H851.05V501.8H849.05zM846.3 500.8H850.05V502.8H846.3zM1107.8 498.05H1109.8V501.8H1107.8zM1105.05 500.8H1108.8V502.8H1105.05z"/>
<path fill="#ff8282" d="M850.05 500.8H852.8V502.8H850.05zM1104.05 499.05H1106.05V501.8H1104.05zM1102.3 500.8H1105.05V502.8H1102.3z"/>
<path fill="#ff9696" d="M879.05 498.05H881.05V500.8H879.05zM740.3 528.05H742.3V530.8H740.3zM1216.55 528.05H1218.55V530.8H1216.55z"/>
<path fill="#ff8c8c" d="M1074.05 498.05H1076.05V500.8H1074.05zM714.05 521.55H716.05V524.3H714.05zM711.3 523.3H715.05V525.3H711.3zM1242.8 521.55H1244.8V524.3H1242.8zM1240.05 523.3H1243.8V525.3H1240.05z"/>
<path fill="#ff5454" d="M845.3 501.8H847.3V505.55H845.3zM843.55 504.55H846.3V506.55H843.55zM1108.8 504.55H1111.55V506.55H1108.8z"/>
<path fill="#ff0d0d" d="M850.05 504.55H852.8V506.55H850.05zM1104.05 501.8H1106.05V505.55H1104.05zM1102.3 504.55H1105.05V506.55H1102.3z"/>
<path fill="#1ce3e3" d="M815.3 505.55H817.3V509.3H815.3zM813.55 508.3H816.3V510.3H813.55zM1138.8 508.3H1141.55V510.3H1138.8z"/>
<path fill="#d92626" d="M819.05 506.55H821.05V509.3H819.05zM816.3 508.3H820.05V510.3H816.3zM1137.8 505.55H1139.8V509.3H1137.8zM1135.05 508.3H1138.8V510.3H1135.05z"/>
<path fill="#ff3333" d="M820.05 508.3H822.8V510.3H820.05zM1134.05 506.55H1136.05V509.3H1134.05zM1132.3 508.3H1135.05V510.3H1132.3zM715.05 527.05H717.8V529.05H715.05zM741.3 527.05H744.05V529.05H741.3zM1212.8 524.3H1214.8V528.05H1212.8zM1211.05 527.05H1213.8V529.05H1211.05zM1239.05 524.3H1241.05V528.05H1239.05zM1237.3 527.05H1240.05V529.05H1237.3z"/>
<path fill="#ff4242" d="M849.05 505.55H851.05V508.3H849.05zM1107.8 505.55H1109.8V508.3H1107.8zM687.8 531.8H689.8V534.55H687.8zM1269.05 531.8H1271.05V534.55H1269.05z"/>
<path fill="#ff9999" d="M1104.05 505.55H1106.05V508.3H1104.05z"/>
<path fill="#ffabab" d="M815.3 509.3H817.3V512.05H815.3z"/>
<path fill="#ffbaba" d="M1130.3 510.3H1132.3V512.05H1130.3z"/>
<path fill="#877878" d="M789.05 513.05H791.05V516.8H789.05zM787.3 515.8H790.05V517.8H787.3zM1165.05 515.8H1167.8V517.8H1165.05z"/>
<path fill="#ff1717" d="M793.8 515.8H796.55V517.8H793.8zM1160.3 513.05H1162.3V516.8H1160.3zM1158.55 515.8H1161.3V517.8H1158.55z"/>
<path fill="#ff6b6b" d="M819.05 513.05H821.05V515.8H819.05zM636.3 534.55H639.05V536.55H636.3zM1317.8 531.8H1319.8V535.55H1317.8zM1316.05 534.55H1318.8V536.55H1316.05z"/>
<path fill="#ff7070" d="M1134.05 513.05H1136.05V515.8H1134.05zM635.3 535.55H637.3V538.3H635.3zM1321.55 535.55H1323.55V538.3H1321.55z"/>
<path fill="#ffcfcf" d="M737.55 519.55H740.3V521.55H737.55zM1216.55 517.8H1218.55V520.55H1216.55zM1214.8 519.55H1217.55V521.55H1214.8z"/>
<path fill="#827d7d" d="M762.8 516.8H764.8V520.55H762.8zM761.05 519.55H763.8V521.55H761.05zM1194.05 516.8H1196.05V519.55H1194.05zM1191.3 519.55H1194.05V521.55H1191.3z"/>
<path fill="#ff4d4d" d="M767.55 519.55H770.3V521.55H767.55zM1186.55 517.8H1188.55V520.55H1186.55zM1184.8 519.55H1187.55V521.55H1184.8zM741.3 523.3H744.05V525.3H741.3zM1212.8 521.55H1214.8V524.3H1212.8zM1211.05 523.3H1213.8V525.3H1211.05zM736.55 524.3H738.55V528.05H736.55zM734.8 527.05H737.55V529.05H734.8zM1217.55 527.05H1220.3V529.05H1217.55zM609.05 528.05H611.05V531.8H609.05zM606.3 530.8H610.05V532.8H606.3zM1347.8 528.05H1349.8V531.8H1347.8zM1345.05 530.8H1348.8V532.8H1345.05z"/>
<path fill="#ff8787" d="M789.05 516.8H791.05V519.55H789.05zM766.55 524.3H768.55V527.05H766.55zM1190.3 524.3H1192.3V527.05H1190.3zM610.05 534.55H612.8V536.55H610.05zM1344.05 531.8H1346.05V535.55H1344.05zM1342.3 534.55H1345.05V536.55H1342.3z"/>
<path fill="#ff2424" d="M1160.3 516.8H1162.3V519.55H1160.3z"/>
<path fill="#17e8e8" d="M710.3 521.55H712.3V524.3H710.3zM707.55 523.3H711.3V525.3H707.55zM1246.55 521.55H1248.55V524.3H1246.55zM1243.8 523.3H1247.55V525.3H1243.8z"/>
<path fill="#ffdede" d="M715.05 523.3H717.8V525.3H715.05zM1239.05 521.55H1241.05V524.3H1239.05zM1237.3 523.3H1240.05V525.3H1237.3zM657.8 525.3H659.8V528.05H657.8zM655.05 527.05H658.8V529.05H655.05zM1299.05 525.3H1301.05V528.05H1299.05zM1296.3 527.05H1300.05V529.05H1296.3zM1212.8 528.05H1214.8V530.8H1212.8z"/>
<path fill="#916e6e" d="M736.55 520.55H738.55V524.3H736.55zM734.8 523.3H737.55V525.3H734.8zM1220.3 520.55H1222.3V523.3H1220.3zM1217.55 523.3H1220.3V525.3H1217.55z"/>
<path fill="#ff5757" d="M762.8 520.55H764.8V524.3H762.8zM761.05 523.3H763.8V525.3H761.05zM1191.3 523.3H1194.05V525.3H1191.3zM662.55 530.8H665.3V532.8H662.55zM1291.55 528.05H1293.55V531.8H1291.55zM1289.8 530.8H1292.55V532.8H1289.8z"/>
<path fill="#ff2929" d="M767.55 523.3H770.3V525.3H767.55zM1186.55 520.55H1188.55V524.3H1186.55zM1184.8 523.3H1187.55V525.3H1184.8z"/>
<path fill="#ff9c9c" d="M661.55 524.3H663.55V528.05H661.55zM658.8 527.05H662.55V529.05H658.8zM688.8 527.05H691.55V529.05H688.8zM1265.3 525.3H1267.3V528.05H1265.3zM1263.55 527.05H1266.3V529.05H1263.55zM1295.3 525.3H1297.3V528.05H1295.3zM1292.55 527.05H1296.3V529.05H1292.55zM549.05 535.55H551.05V538.3H549.05z"/>
<path fill="#ffebeb" d="M662.55 527.05H665.3V529.05H662.55zM1291.55 524.3H1293.55V528.05H1291.55zM1289.8 527.05H1292.55V529.05H1289.8zM736.55 528.05H738.55V530.8H736.55z"/>
<path fill="#639c9c" d="M684.05 525.3H686.05V528.05H684.05zM682.3 527.05H685.05V529.05H682.3zM1272.8 525.3H1274.8V527.05H1272.8zM1270.05 527.05H1272.8V529.05H1270.05zM576.3 530.8H580.05V532.8H576.3zM582.8 529.05H584.8V531.8H582.8zM580.05 530.8H583.8V532.8H580.05zM1371.3 530.8H1375.05V532.8H1371.3zM1377.8 529.05H1379.8V531.8H1377.8zM1375.05 530.8H1378.8V532.8H1375.05zM549.05 531.8H551.05V535.55H549.05zM547.3 534.55H550.05V536.55H547.3zM1407.8 531.8H1409.8V534.55H1407.8zM1405.05 534.55H1407.8V536.55H1405.05z"/>
<path fill="#ff2121" d="M687.8 525.3H689.8V528.05H687.8zM685.05 527.05H688.8V529.05H685.05zM1269.05 525.3H1271.05V528.05H1269.05zM1266.3 527.05H1270.05V529.05H1266.3z"/>
<path fill="#b84747" d="M710.3 524.3H712.3V528.05H710.3zM708.55 527.05H711.3V529.05H708.55zM1246.55 524.3H1248.55V527.05H1246.55zM1243.8 527.05H1246.55V529.05H1243.8zM631.55 529.05H633.55V531.8H631.55zM629.8 530.8H632.55V532.8H629.8zM1325.3 529.05H1327.3V530.8H1325.3zM1322.55 530.8H1325.3V532.8H1322.55z"/>
<path fill="#ffd4d4" d="M1186.55 524.3H1188.55V527.05H1186.55z"/>
<path fill="#42bdbd" d="M552.8 529.05H554.8V531.8H552.8zM550.05 530.8H553.8V532.8H550.05zM1404.05 529.05H1406.05V531.8H1404.05zM1401.3 530.8H1405.05V532.8H1401.3zM575.3 531.8H577.3V535.55H575.3zM573.55 534.55H576.3V536.55H573.55zM1381.55 531.8H1383.55V534.55H1381.55zM1378.8 534.55H1381.55V536.55H1378.8z"/>
<path fill="#24dbdb" d="M556.55 528.05H558.55V530.8H556.55zM553.8 530.8H556.55V532.8H553.8zM1400.3 529.05H1402.3V531.8H1400.3zM1398.55 530.8H1401.3V532.8H1398.55z"/>
<path fill="#ff7373" d="M605.3 528.05H607.3V531.8H605.3zM602.55 530.8H606.3V532.8H602.55zM1351.55 528.05H1353.55V531.8H1351.55zM1348.8 530.8H1352.55V532.8H1348.8zM1291.55 531.8H1293.55V534.55H1291.55z"/>
<path fill="#cf3030" d="M657.8 528.05H659.8V531.8H657.8zM656.05 530.8H658.8V532.8H656.05zM1299.05 528.05H1301.05V530.8H1299.05zM1296.3 530.8H1299.05V532.8H1296.3z"/>
<path fill="#c93636" d="M684.05 528.05H686.05V531.8H684.05zM682.3 530.8H685.05V532.8H682.3zM1270.05 530.8H1272.8V532.8H1270.05z"/>
<path fill="#ff3636" d="M688.8 530.8H691.55V532.8H688.8zM1265.3 528.05H1267.3V531.8H1265.3zM1263.55 530.8H1266.3V532.8H1263.55z"/>
<path fill="#ff6969" d="M710.3 528.05H712.3V530.8H710.3z"/>
<path fill="#ff5959" d="M1239.05 528.05H1241.05V530.8H1239.05zM605.3 535.55H607.3V538.3H605.3z"/>
<path fill="#ffbdbd" d="M583.8 534.55H586.55V536.55H583.8zM1370.3 531.8H1372.3V535.55H1370.3zM1368.55 534.55H1371.3V536.55H1368.55zM552.8 539.3H554.8V542.05H552.8z"/>
<path fill="#21dede" d="M601.55 531.8H603.55V534.55H601.55zM1355.3 531.8H1357.3V534.55H1355.3z"/>
<path fill="#f50a0a" d="M631.55 531.8H633.55V535.55H631.55zM629.8 534.55H632.55V536.55H629.8zM1322.55 534.55H1325.3V536.55H1322.55z"/>
<path fill="#ffb2b2" d="M1265.3 531.8H1267.3V534.55H1265.3z"/>
<path fill="#ff0f0f" d="M1400.3 531.8H1402.3V535.55H1400.3zM553.8 538.3H556.55V540.3H553.8zM582.8 535.55H584.8V538.3H582.8zM1377.8 535.55H1379.8V538.3H1377.8zM1400.3 535.55H1402.3V539.3H1400.3zM1398.55 538.3H1401.3V540.3H1398.55z"/>
<path fill="#ff2e2e" d="M609.05 535.55H611.05V538.3H609.05zM1347.8 535.55H1349.8V538.3H1347.8z"/>
<path fill="#ffb5b5" d="M631.55 535.55H633.55V538.3H631.55z"/>
<path fill="#ffe6e6" d="M1317.8 535.55H1319.8V538.3H1317.8z"/>
<path fill="#ffd6d6" d="M1344.05 535.55H1346.05V538.3H1344.05z"/>
</g>
<g id="plot">
<path fill="#262626" d="M163.8 40.55H167.55V183.05H163.8zM163.8 186.8H167.55V374.3H163.8zM163.8 389.3H167.55V580.55H163.8zM163.8 584.3H167.55V775.55H163.8zM163.8 779.3H167.55V974.3H163.8zM163.8 978.05H167.55V1173.05H163.8zM163.8 1176.8H167.55V1319.3H163.8zM163.8 183.05H178.8V186.8H163.8zM163.8 580.55H178.8V584.3H163.8zM163.8 775.55H178.8V779.3H163.8zM163.8 974.3H178.8V978.05H163.8zM163.8 1173.05H178.8V1176.8H163.8zM163.8 36.8H1791.3V40.55H163.8zM163.8 1319.3H1791.3V1323.05H163.8zM171.3 381.8H178.8V385.55H171.3zM182.55 40.55H186.3V51.8H182.55zM182.55 1308.05H186.3V1319.3H182.55zM381.3 40.55H385.05V51.8H381.3zM381.3 1308.05H385.05V1319.3H381.3zM580.05 40.55H583.8V55.55H580.05zM580.05 1304.3H583.8V1319.3H580.05zM778.8 40.55H782.55V55.55H778.8zM778.8 1304.3H782.55V1319.3H778.8zM831.3 93.05H835.05V348.05H831.3zM831.3 89.3H1742.55V93.05H831.3zM831.3 348.05H1742.55V351.8H831.3zM977.55 40.55H981.3V55.55H977.55zM977.55 1304.3H981.3V1319.3H977.55zM1172.55 40.55H1176.3V55.55H1172.55zM1172.55 1304.3H1176.3V1319.3H1172.55zM1371.3 40.55H1375.05V55.55H1371.3zM1371.3 1304.3H1375.05V1319.3H1371.3zM1570.05 40.55H1573.8V51.8H1570.05zM1570.05 1308.05H1573.8V1319.3H1570.05zM1738.8 93.05H1742.55V348.05H1738.8zM1768.8 40.55H1772.55V51.8H1768.8zM1768.8 1308.05H1772.55V1319.3H1768.8zM1776.3 381.8H1783.8V385.55H1776.3zM1776.3 183.05H1791.3V186.8H1776.3zM1776.3 580.55H1791.3V584.3H1776.3zM1776.3 775.55H1791.3V779.3H1776.3zM1776.3 974.3H1791.3V978.05H1776.3zM1776.3 1173.05H1791.3V1176.8H1776.3zM1787.55 40.55H1791.3V183.05H1787.55zM1787.55 186.8H1791.3V374.3H1787.55zM1787.55 389.3H1791.3V580.55H1787.55zM1787.55 584.3H1791.3V775.55H1787.55zM1787.55 779.3H1791.3V974.3H1787.55zM1787.55 978.05H1791.3V1173.05H1787.55zM1787.55 1176.8H1791.3V1319.3H1787.55z"/>
<path fill="#0072bd" d="M580.05 970.55H583.8V978.05H580.05zM583.8 959.3H587.55V970.55H583.8zM587.55 951.8H591.3V959.3H587.55zM591.3 940.55H595.05V951.8H591.3zM595.05 933.05H598.8V940.55H595.05zM598.8 925.55H602.55V933.05H598.8zM602.55 914.3H606.3V925.55H602.55zM606.3 906.8H610.05V914.3H606.3zM610.05 899.3H613.8V906.8H610.05zM613.8 888.05H617.55V899.3H613.8zM617.55 880.55H621.3V888.05H617.55zM621.3 873.05H625.05V880.55H621.3zM625.05 865.55H628.8V873.05H625.05zM628.8 858.05H632.55V865.55H628.8zM632.55 846.8H636.3V858.05H632.55zM636.3 839.3H640.05V846.8H636.3zM640.05 831.8H643.8V839.3H640.05zM643.8 824.3H647.55V831.8H643.8zM647.55 816.8H651.3V824.3H647.55zM651.3 809.3H655.05V816.8H651.3zM655.05 801.8H658.8V809.3H655.05zM658.8 794.3H662.55V801.8H658.8zM662.55 786.8H666.3V794.3H662.55zM666.3 779.3H670.05V786.8H666.3zM670.05 771.8H673.8V779.3H670.05zM673.8 764.3H677.55V771.8H673.8zM677.55 756.8H681.3V764.3H677.55zM681.3 749.3H685.05V756.8H681.3zM685.05 745.55H688.8V749.3H685.05zM688.8 738.05H692.55V745.55H688.8zM692.55 730.55H696.3V738.05H692.55zM696.3 723.05H700.05V730.55H696.3zM700.05 719.3H703.8V723.05H700.05zM703.8 711.8H707.55V719.3H703.8zM707.55 704.3H711.3V711.8H707.55zM711.3 696.8H715.05V704.3H711.3zM715.05 693.05H718.8V696.8H715.05zM718.8 685.55H722.55V693.05H718.8zM722.55 681.8H726.3V685.55H722.55zM726.3 674.3H730.05V681.8H726.3zM730.05 666.8H733.8V674.3H730.05zM733.8 663.05H737.55V666.8H733.8zM737.55 655.55H741.3V663.05H737.55zM741.3 651.8H745.05V655.55H741.3zM745.05 648.05H748.8V651.8H745.05zM748.8 640.55H752.55V648.05H748.8zM752.55 636.8H756.3V640.55H752.55zM756.3 629.3H760.05V636.8H756.3zM760.05 625.55H763.8V629.3H760.05zM763.8 621.8H767.55V625.55H763.8zM767.55 614.3H771.3V621.8H767.55zM771.3 610.55H775.05V614.3H771.3zM775.05 606.8H778.8V610.55H775.05zM778.8 603.05H782.55V606.8H778.8zM782.55 595.55H786.3V603.05H782.55zM786.3 591.8H790.05V595.55H786.3zM790.05 588.05H793.8V591.8H790.05zM793.8 584.3H797.55V588.05H793.8zM797.55 580.55H801.3V584.3H797.55zM801.3 576.8H805.05V580.55H801.3zM805.05 569.3H808.8V576.8H805.05zM808.8 565.55H812.55V569.3H808.8zM812.55 561.8H816.3V565.55H812.55zM816.3 558.05H820.05V561.8H816.3zM820.05 554.3H823.8V558.05H820.05zM823.8 550.55H831.3V554.3H823.8zM831.3 546.8H835.05V550.55H831.3zM835.05 543.05H838.8V546.8H835.05zM838.8 539.3H842.55V543.05H838.8zM842.55 535.55H846.3V539.3H842.55zM846.3 531.8H850.05V535.55H846.3zM846.3 123.05H996.3V126.8H846.3zM850.05 528.05H857.55V531.8H850.05zM857.55 524.3H861.3V528.05H857.55zM861.3 520.55H865.05V524.3H861.3zM865.05 516.8H872.55V520.55H865.05zM872.55 513.05H876.3V516.8H872.55zM876.3 509.3H883.8V513.05H876.3zM883.8 505.55H891.3V509.3H883.8zM891.3 501.8H898.8V505.55H891.3zM898.8 498.05H906.3V501.8H898.8zM906.3 494.3H913.8V498.05H906.3zM921.3 490.55H925.05V494.3H921.3zM925.05 486.8H936.3V490.55H925.05zM936.3 483.05H951.3V486.8H936.3zM962.55 479.3H992.55V483.05H962.55zM1003.8 483.05H1018.8V486.8H1003.8zM1018.8 486.8H1030.05V490.55H1018.8zM1030.05 490.55H1033.8V494.3H1030.05zM1041.3 494.3H1048.8V498.05H1041.3zM1048.8 498.05H1056.3V501.8H1048.8zM1056.3 501.8H1063.8V505.55H1056.3zM1063.8 505.55H1071.3V509.3H1063.8zM1071.3 509.3H1078.8V513.05H1071.3zM1078.8 513.05H1082.55V516.8H1078.8zM1082.55 516.8H1090.05V520.55H1082.55zM1090.05 520.55H1093.8V524.3H1090.05zM1093.8 524.3H1097.55V528.05H1093.8zM1097.55 528.05H1105.05V531.8H1097.55zM1105.05 531.8H1108.8V535.55H1105.05zM1108.8 535.55H1112.55V539.3H1108.8zM1112.55 539.3H1116.3V543.05H1112.55zM1116.3 543.05H1120.05V546.8H1116.3zM1120.05 546.8H1123.8V550.55H1120.05zM1123.8 550.55H1131.3V554.3H1123.8zM1131.3 554.3H1135.05V558.05H1131.3zM1135.05 558.05H1138.8V561.8H1135.05zM1138.8 561.8H1142.55V565.55H1138.8zM1142.55 565.55H1146.3V569.3H1142.55zM1146.3 569.3H1150.05V576.8H1146.3zM1150.05 576.8H1153.8V580.55H1150.05zM1153.8 580.55H1157.55V584.3H1153.8zM1157.55 584.3H1161.3V588.05H1157.55zM1161.3 588.05H1165.05V591.8H1161.3zM1165.05 591.8H1168.8V595.55H1165.05zM1168.8 595.55H1172.55V603.05H1168.8zM1172.55 603.05H1176.3V606.8H1172.55zM1176.3 606.8H1180.05V610.55H1176.3zM1180.05 610.55H1183.8V614.3H1180.05zM1183.8 614.3H1187.55V621.8H1183.8zM1187.55 621.8H1191.3V625.55H1187.55zM1191.3 625.55H1195.05V629.3H1191.3zM1195.05 629.3H1198.8V636.8H1195.05zM1198.8 636.8H1202.55V640.55H1198.8zM1202.55 640.55H1206.3V648.05H1202.55zM1206.3 648.05H1210.05V651.8H1206.3zM1210.05 651.8H1213.8V655.55H1210.05zM1213.8 655.55H1217.55V663.05H1213.8zM1217.55 663.05H1221.3V666.8H1217.55zM1221.3 666.8H1225.05V674.3H1221.3zM1225.05 674.3H1228.8V681.8H1225.05zM1228.8 681.8H1232.55V685.55H1228.8zM1232.55 685.55H1236.3V693.05H1232.55zM1236.3 693.05H1240.05V696.8H1236.3zM1240.05 696.8H1243.8V704.3H1240.05zM1243.8 704.3H1247.55V711.8H1243.8zM1247.55 711.8H1251.3V719.3H1247.55zM1251.3 719.3H1255.05V723.05H1251.3zM1255.05 723.05H1258.8V730.55H1255.05zM1258.8 730.55H1262.55V738.05H1258.8zM1262.55 738.05H1266.3V745.55H1262.55zM1266.3 745.55H1270.05V749.3H1266.3zM1270.05 749.3H1273.8V756.8H1270.05zM1273.8 756.8H1277.55V764.3H1273.8zM1277.55 764.3H1281.3V771.8H1277.55zM1281.3 771.8H1285.05V779.3H1281.3zM1285.05 779.3H1288.8V786.8H1285.05zM1288.8 786.8H1292.55V794.3H1288.8zM1292.55 794.3H1296.3V801.8H1292.55zM1296.3 801.8H1300.05V809.3H1296.3zM1300.05 809.3H1303.8V816.8H1300.05zM1303.8 816.8H1307.55V824.3H1303.8zM1307.55 824.3H1311.3V831.8H1307.55zM1311.3 831.8H1315.05V839.3H1311.3zM1315.05 839.3H1318.8V846.8H1315.05zM1318.8 846.8H1322.55V858.05H1318.8zM1322.55 858.05H1326.3V865.55H1322.55zM1326.3 865.55H1330.05V873.05H1326.3zM1330.05 873.05H1333.8V880.55H1330.05zM1333.8 880.55H1337.55V888.05H1333.8zM1337.55 888.05H1341.3V899.3H1337.55zM1341.3 899.3H1345.05V906.8H1341.3zM1345.05 906.8H1348.8V914.3H1345.05zM1348.8 914.3H1352.55V925.55H1348.8zM1352.55 925.55H1356.3V933.05H1352.55zM1356.3 933.05H1360.05V940.55H1356.3zM1360.05 940.55H1363.8V951.8H1360.05zM1363.8 951.8H1367.55V959.3H1363.8zM1367.55 959.3H1371.3V970.55H1367.55zM1371.3 970.55H1375.05V978.05H1371.3z"/>
<path fill="#00ffff" d="M171.3 385.55H182.55V389.3H171.3zM182.55 389.3H190.05V393.05H182.55zM190.05 393.05H201.3V396.8H190.05zM201.3 396.8H208.8V400.55H201.3zM208.8 400.55H220.05V404.3H208.8zM220.05 404.3H227.55V408.05H220.05zM227.55 385.55H235.05V389.3H227.55zM227.55 408.05H238.8V411.8H227.55zM235.05 389.3H246.3V393.05H235.05zM238.8 411.8H250.05V415.55H238.8zM246.3 393.05H253.8V396.8H246.3zM250.05 415.55H257.55V419.3H250.05zM253.8 396.8H261.3V400.55H253.8zM257.55 419.3H268.8V423.05H257.55zM261.3 400.55H272.55V404.3H261.3zM268.8 423.05H276.3V426.8H268.8zM272.55 404.3H280.05V408.05H272.55zM276.3 426.8H287.55V430.55H276.3zM280.05 408.05H291.3V411.8H280.05zM283.8 385.55H291.3V389.3H283.8zM287.55 430.55H295.05V434.3H287.55zM291.3 389.3H298.8V393.05H291.3zM291.3 411.8H298.8V415.55H291.3zM295.05 434.3H306.3V438.05H295.05zM298.8 393.05H306.3V396.8H298.8zM298.8 415.55H306.3V419.3H298.8zM306.3 438.05H313.8V441.8H306.3zM306.3 396.8H317.55V400.55H306.3zM306.3 419.3H317.55V423.05H306.3zM313.8 441.8H325.05V445.55H313.8zM317.55 400.55H325.05V404.3H317.55zM317.55 423.05H325.05V426.8H317.55zM325.05 404.3H332.55V408.05H325.05zM325.05 426.8H332.55V430.55H325.05zM325.05 445.55H332.55V449.3H325.05zM332.55 408.05H340.05V411.8H332.55zM332.55 430.55H343.8V434.3H332.55zM332.55 449.3H343.8V453.05H332.55zM340.05 385.55H347.55V389.3H340.05zM340.05 411.8H347.55V415.55H340.05zM343.8 434.3H351.3V438.05H343.8zM343.8 453.05H351.3V456.8H343.8zM347.55 389.3H355.05V393.05H347.55zM347.55 415.55H355.05V419.3H347.55zM351.3 438.05H358.8V441.8H351.3zM351.3 456.8H362.55V460.55H351.3zM355.05 393.05H362.55V396.8H355.05zM355.05 419.3H366.3V423.05H355.05zM358.8 441.8H370.05V445.55H358.8zM362.55 396.8H370.05V400.55H362.55zM362.55 460.55H373.8V464.3H362.55zM366.3 423.05H373.8V426.8H366.3zM370.05 400.55H377.55V404.3H370.05zM370.05 445.55H377.55V449.3H370.05zM373.8 426.8H381.3V430.55H373.8zM373.8 464.3H381.3V468.05H373.8zM377.55 404.3H385.05V408.05H377.55zM377.55 449.3H388.8V453.05H377.55zM381.3 430.55H388.8V434.3H381.3zM381.3 468.05H392.55V471.8H381.3zM385.05 408.05H392.55V411.8H385.05zM388.8 434.3H396.3V438.05H388.8zM388.8 453.05H396.3V456.8H388.8zM392.55 385.55H400.05V389.3H392.55zM392.55 411.8H400.05V415.55H392.55zM392.55 471.8H400.05V475.55H392.55zM396.3 456.8H403.8V460.55H396.3zM396.3 438.05H407.55V441.8H396.3zM400.05 389.3H407.55V393.05H400.05zM400.05 415.55H407.55V419.3H400.05zM400.05 475.55H411.3V479.3H400.05zM403.8 460.55H415.05V464.3H403.8zM407.55 393.05H415.05V396.8H407.55zM407.55 419.3H415.05V423.05H407.55zM407.55 441.8H415.05V445.55H407.55zM411.3 479.3H418.8V483.05H411.3zM415.05 396.8H422.55V400.55H415.05zM415.05 423.05H422.55V426.8H415.05zM415.05 445.55H422.55V449.3H415.05zM415.05 464.3H422.55V468.05H415.05zM418.8 483.05H430.05V486.8H418.8zM422.55 400.55H430.05V404.3H422.55zM422.55 426.8H430.05V430.55H422.55zM422.55 449.3H430.05V453.05H422.55zM422.55 468.05H430.05V471.8H422.55zM430.05 404.3H433.8V408.05H430.05zM430.05 430.55H437.55V434.3H430.05zM430.05 453.05H437.55V456.8H430.05zM430.05 486.8H437.55V490.55H430.05zM430.05 471.8H441.3V475.55H430.05zM433.8 408.05H441.3V411.8H433.8zM437.55 434.3H445.05V438.05H437.55zM437.55 456.8H448.8V460.55H437.55zM437.55 490.55H448.8V494.3H437.55zM441.3 411.8H448.8V415.55H441.3zM441.3 475.55H448.8V479.3H441.3zM445.05 438.05H452.55V441.8H445.05zM448.8 385.55H456.3V389.3H448.8zM448.8 415.55H456.3V419.3H448.8zM448.8 460.55H456.3V464.3H448.8zM448.8 479.3H456.3V483.05H448.8zM448.8 494.3H456.3V498.05H448.8zM452.55 441.8H460.05V445.55H452.55zM456.3 389.3H463.8V393.05H456.3zM456.3 419.3H463.8V423.05H456.3zM456.3 464.3H463.8V468.05H456.3zM456.3 483.05H467.55V486.8H456.3zM456.3 498.05H467.55V501.8H456.3zM460.05 445.55H467.55V449.3H460.05zM463.8 393.05H467.55V396.8H463.8zM463.8 423.05H471.3V426.8H463.8zM463.8 468.05H471.3V471.8H463.8zM467.55 396.8H475.05V400.55H467.55zM467.55 449.3H475.05V453.05H467.55zM467.55 486.8H475.05V490.55H467.55zM467.55 501.8H475.05V505.55H467.55zM471.3 426.8H475.05V430.55H471.3zM471.3 471.8H478.8V475.55H471.3zM475.05 400.55H482.55V404.3H475.05zM475.05 430.55H482.55V434.3H475.05zM475.05 453.05H482.55V456.8H475.05zM475.05 490.55H486.3V494.3H475.05zM475.05 505.55H486.3V509.3H475.05zM478.8 475.55H486.3V479.3H478.8zM482.55 404.3H486.3V408.05H482.55zM482.55 434.3H490.05V438.05H482.55zM482.55 456.8H490.05V460.55H482.55zM486.3 408.05H493.8V411.8H486.3zM486.3 494.3H493.8V498.05H486.3zM486.3 479.3H497.55V483.05H486.3zM486.3 509.3H497.55V513.05H486.3zM490.05 438.05H497.55V441.8H490.05zM490.05 460.55H497.55V464.3H490.05zM493.8 411.8H497.55V415.55H493.8zM493.8 498.05H501.3V501.8H493.8zM497.55 415.55H505.05V419.3H497.55zM497.55 441.8H505.05V445.55H497.55zM497.55 464.3H505.05V468.05H497.55zM497.55 483.05H505.05V486.8H497.55zM497.55 513.05H505.05V516.8H497.55zM497.55 528.05H523.8V531.8H497.55zM501.3 501.8H512.55V505.55H501.3zM505.05 445.55H508.8V449.3H505.05zM505.05 385.55H512.55V389.3H505.05zM505.05 419.3H512.55V423.05H505.05zM505.05 468.05H512.55V471.8H505.05zM505.05 486.8H512.55V490.55H505.05zM505.05 516.8H516.3V520.55H505.05zM508.8 449.3H516.3V453.05H508.8zM512.55 389.3H516.3V393.05H512.55zM512.55 423.05H516.3V426.8H512.55zM512.55 471.8H520.05V475.55H512.55zM512.55 490.55H520.05V494.3H512.55zM512.55 505.55H520.05V509.3H512.55zM516.3 393.05H520.05V396.8H516.3zM516.3 426.8H523.8V430.55H516.3zM516.3 453.05H523.8V456.8H516.3zM516.3 520.55H523.8V524.3H516.3zM516.3 509.3H527.55V513.05H516.3zM520.05 396.8H527.55V400.55H520.05zM520.05 475.55H527.55V479.3H520.05zM520.05 494.3H527.55V498.05H520.05zM520.05 513.05H538.8V516.8H520.05zM523.8 430.55H531.3V434.3H523.8zM523.8 456.8H531.3V460.55H523.8zM523.8 524.3H542.55V528.05H523.8zM523.8 531.8H546.3V535.55H523.8zM527.55 400.55H531.3V404.3H527.55zM527.55 516.8H531.3V520.55H527.55zM527.55 479.3H535.05V483.05H527.55zM527.55 498.05H538.8V501.8H527.55zM531.3 434.3H535.05V438.05H531.3zM531.3 404.3H538.8V408.05H531.3zM531.3 460.55H538.8V464.3H531.3zM531.3 520.55H538.8V524.3H531.3zM535.05 438.05H542.55V441.8H535.05zM535.05 483.05H542.55V486.8H535.05zM535.05 501.8H546.3V505.55H535.05zM535.05 528.05H550.05V531.8H535.05zM538.8 408.05H542.55V411.8H538.8zM538.8 464.3H546.3V468.05H538.8zM538.8 516.8H546.3V520.55H538.8zM542.55 411.8H550.05V415.55H542.55zM542.55 441.8H550.05V445.55H542.55zM542.55 486.8H550.05V490.55H542.55zM542.55 505.55H553.8V509.3H542.55zM546.3 468.05H550.05V471.8H546.3zM546.3 509.3H550.05V513.05H546.3zM546.3 520.55H553.8V524.3H546.3zM550.05 415.55H553.8V419.3H550.05zM550.05 445.55H553.8V449.3H550.05zM550.05 471.8H557.55V475.55H550.05zM550.05 490.55H557.55V494.3H550.05zM550.05 513.05H557.55V516.8H550.05zM553.8 419.3H561.3V423.05H553.8zM553.8 449.3H561.3V453.05H553.8zM553.8 509.3H561.3V513.05H553.8zM553.8 524.3H576.3V528.05H553.8zM557.55 516.8H561.3V520.55H557.55zM557.55 528.05H561.3V531.8H557.55zM557.55 475.55H565.05V479.3H557.55zM557.55 494.3H565.05V498.05H557.55zM561.3 385.55H565.05V389.3H561.3zM561.3 423.05H565.05V426.8H561.3zM561.3 520.55H565.05V524.3H561.3zM561.3 453.05H568.8V456.8H561.3zM561.3 513.05H568.8V516.8H561.3zM561.3 498.05H572.55V501.8H561.3zM561.3 531.8H572.55V535.55H561.3zM565.05 389.3H568.8V393.05H565.05zM565.05 426.8H572.55V430.55H565.05zM565.05 479.3H572.55V483.05H565.05zM565.05 528.05H576.3V531.8H565.05zM565.05 501.8H580.05V505.55H565.05zM568.8 456.8H572.55V460.55H568.8zM568.8 393.05H576.3V396.8H568.8zM568.8 516.8H576.3V520.55H568.8zM572.55 430.55H576.3V434.3H572.55zM572.55 505.55H576.3V509.3H572.55zM572.55 460.55H580.05V464.3H572.55zM572.55 483.05H580.05V486.8H572.55zM576.3 396.8H580.05V400.55H576.3zM576.3 509.3H580.05V513.05H576.3zM576.3 434.3H583.8V438.05H576.3zM576.3 520.55H595.05V524.3H576.3zM580.05 400.55H583.8V404.3H580.05zM580.05 464.3H583.8V468.05H580.05zM580.05 513.05H583.8V516.8H580.05zM580.05 486.8H587.55V490.55H580.05zM580.05 505.55H587.55V509.3H580.05zM583.8 438.05H587.55V441.8H583.8zM583.8 404.3H591.3V408.05H583.8zM583.8 468.05H591.3V471.8H583.8zM583.8 516.8H591.3V520.55H583.8zM583.8 528.05H602.55V531.8H583.8zM587.55 490.55H591.3V494.3H587.55zM587.55 441.8H595.05V445.55H587.55zM587.55 509.3H595.05V513.05H587.55zM587.55 524.3H613.8V528.05H587.55zM591.3 408.05H595.05V411.8H591.3zM591.3 471.8H598.8V475.55H591.3zM591.3 494.3H598.8V498.05H591.3zM591.3 498.05H606.3V501.8H591.3zM595.05 411.8H598.8V415.55H595.05zM595.05 445.55H598.8V449.3H595.05zM595.05 531.8H598.8V535.55H595.05zM595.05 513.05H602.55V516.8H595.05zM598.8 415.55H602.55V419.3H598.8zM598.8 449.3H602.55V453.05H598.8zM598.8 475.55H602.55V479.3H598.8zM598.8 501.8H602.55V505.55H598.8zM602.55 505.55H606.3V509.3H602.55zM602.55 419.3H610.05V423.05H602.55zM602.55 453.05H610.05V456.8H602.55zM602.55 479.3H610.05V483.05H602.55zM602.55 516.8H621.3V520.55H602.55zM606.3 509.3H610.05V513.05H606.3zM606.3 501.8H613.8V505.55H606.3zM610.05 423.05H613.8V426.8H610.05zM610.05 456.8H613.8V460.55H610.05zM610.05 513.05H613.8V516.8H610.05zM610.05 483.05H617.55V486.8H610.05zM610.05 520.55H632.55V524.3H610.05zM613.8 426.8H617.55V430.55H613.8zM613.8 460.55H621.3V464.3H613.8zM613.8 505.55H621.3V509.3H613.8zM613.8 528.05H628.8V531.8H613.8zM617.55 385.55H621.3V389.3H617.55zM617.55 486.8H621.3V490.55H617.55zM617.55 430.55H625.05V434.3H617.55zM617.55 490.55H628.8V494.3H617.55zM617.55 524.3H628.8V528.05H617.55zM621.3 389.3H625.05V393.05H621.3zM621.3 464.3H625.05V468.05H621.3zM621.3 494.3H625.05V498.05H621.3zM621.3 509.3H625.05V513.05H621.3zM625.05 393.05H628.8V396.8H625.05zM625.05 434.3H628.8V438.05H625.05zM625.05 498.05H628.8V501.8H625.05zM625.05 468.05H632.55V471.8H625.05zM625.05 513.05H643.8V516.8H625.05zM628.8 396.8H632.55V400.55H628.8zM628.8 438.05H632.55V441.8H628.8zM628.8 501.8H632.55V505.55H628.8zM628.8 494.3H636.3V498.05H628.8zM632.55 400.55H636.3V404.3H632.55zM632.55 441.8H636.3V445.55H632.55zM632.55 471.8H636.3V475.55H632.55zM632.55 505.55H636.3V509.3H632.55zM632.55 516.8H640.05V520.55H632.55zM632.55 524.3H655.05V528.05H632.55zM636.3 404.3H640.05V408.05H636.3zM636.3 498.05H640.05V501.8H636.3zM636.3 509.3H640.05V513.05H636.3zM636.3 445.55H643.8V449.3H636.3zM636.3 475.55H643.8V479.3H636.3zM640.05 408.05H643.8V411.8H640.05zM640.05 501.8H647.55V505.55H640.05zM640.05 520.55H651.3V524.3H640.05zM643.8 449.3H647.55V453.05H643.8zM643.8 479.3H647.55V483.05H643.8zM643.8 486.8H647.55V490.55H643.8zM643.8 411.8H651.3V415.55H643.8zM643.8 516.8H658.8V520.55H643.8zM647.55 453.05H651.3V456.8H647.55zM647.55 490.55H651.3V494.3H647.55zM647.55 483.05H655.05V486.8H647.55zM647.55 505.55H655.05V509.3H647.55zM647.55 528.05H655.05V531.8H647.55zM651.3 415.55H655.05V419.3H651.3zM651.3 494.3H655.05V498.05H651.3zM651.3 456.8H658.8V460.55H651.3zM655.05 419.3H658.8V423.05H655.05zM655.05 486.8H658.8V490.55H655.05zM655.05 498.05H658.8V501.8H655.05zM655.05 509.3H658.8V513.05H655.05zM658.8 423.05H662.55V426.8H658.8zM658.8 460.55H662.55V464.3H658.8zM658.8 501.8H662.55V505.55H658.8zM658.8 490.55H666.3V494.3H658.8zM658.8 505.55H666.3V509.3H658.8zM658.8 513.05H666.3V516.8H658.8zM658.8 520.55H681.3V524.3H658.8zM662.55 426.8H666.3V430.55H662.55zM662.55 464.3H666.3V468.05H662.55zM662.55 509.3H673.8V513.05H662.55zM666.3 430.55H670.05V434.3H666.3zM666.3 468.05H670.05V471.8H666.3zM666.3 494.3H670.05V498.05H666.3zM666.3 516.8H670.05V520.55H666.3zM670.05 434.3H673.8V438.05H670.05zM670.05 498.05H673.8V501.8H670.05zM670.05 471.8H677.55V475.55H670.05zM670.05 524.3H681.3V528.05H670.05zM670.05 513.05H685.05V516.8H670.05zM673.8 389.3H677.55V393.05H673.8zM673.8 438.05H677.55V441.8H673.8zM673.8 483.05H677.55V486.8H673.8zM673.8 516.8H677.55V520.55H673.8zM673.8 501.8H681.3V505.55H673.8zM677.55 393.05H681.3V396.8H677.55zM677.55 441.8H681.3V445.55H677.55zM677.55 475.55H681.3V479.3H677.55zM677.55 486.8H681.3V490.55H677.55zM681.3 396.8H685.05V400.55H681.3zM681.3 445.55H685.05V449.3H681.3zM681.3 479.3H685.05V483.05H681.3zM681.3 490.55H685.05V494.3H681.3zM681.3 505.55H685.05V509.3H681.3zM685.05 400.55H688.8V404.3H685.05zM685.05 494.3H688.8V501.8H685.05zM685.05 449.3H692.55V453.05H685.05zM685.05 483.05H692.55V486.8H685.05zM685.05 509.3H692.55V513.05H685.05zM685.05 516.8H707.55V520.55H685.05zM688.8 404.3H692.55V408.05H688.8zM688.8 501.8H696.3V505.55H688.8zM692.55 408.05H696.3V411.8H692.55zM692.55 453.05H696.3V456.8H692.55zM692.55 486.8H696.3V490.55H692.55zM692.55 513.05H696.3V516.8H692.55zM692.55 505.55H703.8V509.3H692.55zM696.3 411.8H700.05V415.55H696.3zM696.3 456.8H700.05V460.55H696.3zM696.3 490.55H700.05V494.3H696.3zM696.3 509.3H700.05V513.05H696.3zM696.3 520.55H707.55V524.3H696.3zM700.05 415.55H703.8V419.3H700.05zM700.05 460.55H703.8V464.3H700.05zM700.05 494.3H703.8V498.05H700.05zM700.05 513.05H703.8V516.8H700.05zM703.8 419.3H707.55V423.05H703.8zM703.8 464.3H707.55V468.05H703.8zM703.8 479.3H707.55V483.05H703.8zM703.8 524.3H707.55V528.05H703.8zM703.8 498.05H711.3V501.8H703.8zM703.8 509.3H715.05V513.05H703.8zM707.55 423.05H711.3V426.8H707.55zM707.55 468.05H711.3V471.8H707.55zM707.55 483.05H711.3V486.8H707.55zM711.3 426.8H715.05V430.55H711.3zM711.3 471.8H715.05V475.55H711.3zM711.3 486.8H715.05V494.3H711.3zM711.3 501.8H715.05V505.55H711.3zM715.05 430.55H718.8V438.05H715.05zM715.05 475.55H718.8V479.3H715.05zM715.05 505.55H718.8V509.3H715.05zM715.05 494.3H722.55V498.05H715.05zM715.05 513.05H722.55V516.8H715.05zM718.8 438.05H722.55V441.8H718.8zM718.8 479.3H722.55V483.05H718.8zM718.8 498.05H730.05V501.8H718.8zM718.8 509.3H730.05V513.05H718.8zM722.55 441.8H726.3V445.55H722.55zM722.55 483.05H726.3V486.8H722.55zM722.55 501.8H726.3V509.3H722.55zM722.55 516.8H737.55V520.55H722.55zM726.3 445.55H730.05V449.3H726.3zM726.3 486.8H733.8V490.55H726.3zM726.3 513.05H733.8V516.8H726.3zM730.05 389.3H733.8V393.05H730.05zM730.05 449.3H733.8V453.05H730.05zM730.05 520.55H733.8V524.3H730.05zM730.05 501.8H737.55V505.55H730.05zM733.8 393.05H737.55V400.55H733.8zM733.8 453.05H737.55V456.8H733.8zM733.8 471.8H737.55V479.3H733.8zM733.8 490.55H737.55V494.3H733.8zM737.55 400.55H741.3V404.3H737.55zM737.55 456.8H741.3V460.55H737.55zM737.55 479.3H741.3V483.05H737.55zM737.55 494.3H741.3V498.05H737.55zM737.55 505.55H745.05V509.3H737.55zM741.3 404.3H745.05V408.05H741.3zM741.3 460.55H745.05V464.3H741.3zM741.3 486.8H745.05V490.55H741.3zM741.3 498.05H745.05V501.8H741.3zM741.3 483.05H748.8V486.8H741.3zM745.05 408.05H748.8V415.55H745.05zM745.05 464.3H748.8V468.05H745.05zM745.05 490.55H748.8V494.3H745.05zM745.05 501.8H748.8V505.55H745.05zM745.05 509.3H760.05V513.05H745.05zM748.8 415.55H752.55V419.3H748.8zM748.8 468.05H752.55V471.8H748.8zM748.8 486.8H752.55V490.55H748.8zM748.8 494.3H752.55V501.8H748.8zM748.8 505.55H752.55V509.3H748.8zM752.55 419.3H756.3V423.05H752.55zM752.55 471.8H756.3V475.55H752.55zM752.55 501.8H756.3V505.55H752.55zM752.55 490.55H760.05V494.3H752.55zM752.55 513.05H763.8V516.8H752.55zM756.3 423.05H760.05V430.55H756.3zM756.3 475.55H760.05V483.05H756.3zM756.3 505.55H760.05V509.3H756.3zM756.3 516.8H760.05V520.55H756.3zM760.05 430.55H763.8V434.3H760.05zM760.05 483.05H763.8V486.8H760.05zM760.05 494.3H763.8V498.05H760.05zM763.8 434.3H767.55V438.05H763.8zM763.8 464.3H767.55V471.8H763.8zM763.8 486.8H767.55V490.55H763.8zM763.8 498.05H771.3V501.8H763.8zM767.55 438.05H771.3V445.55H767.55zM767.55 471.8H771.3V479.3H767.55zM767.55 490.55H771.3V494.3H767.55zM771.3 445.55H775.05V449.3H771.3zM771.3 479.3H775.05V483.05H771.3zM771.3 494.3H775.05V498.05H771.3zM771.3 501.8H775.05V505.55H771.3zM775.05 449.3H778.8V456.8H775.05zM775.05 483.05H778.8V490.55H775.05zM775.05 498.05H778.8V501.8H775.05zM775.05 505.55H790.05V509.3H775.05zM778.8 456.8H782.55V460.55H778.8zM778.8 475.55H782.55V479.3H778.8zM778.8 490.55H782.55V498.05H778.8zM778.8 501.8H786.3V505.55H778.8zM782.55 389.3H786.3V393.05H782.55zM782.55 460.55H786.3V464.3H782.55zM782.55 479.3H786.3V483.05H782.55zM782.55 498.05H786.3V501.8H782.55zM782.55 509.3H790.05V513.05H782.55zM786.3 393.05H790.05V396.8H786.3zM786.3 464.3H790.05V471.8H786.3zM786.3 483.05H790.05V486.8H786.3zM790.05 396.8H793.8V404.3H790.05zM790.05 471.8H793.8V475.55H790.05zM790.05 486.8H793.8V490.55H790.05zM793.8 404.3H797.55V411.8H793.8zM793.8 475.55H797.55V479.3H793.8zM793.8 490.55H801.3V494.3H793.8zM797.55 411.8H801.3V419.3H797.55zM797.55 460.55H801.3V464.3H797.55zM797.55 479.3H801.3V486.8H797.55zM801.3 419.3H805.05V426.8H801.3zM801.3 464.3H805.05V475.55H801.3zM801.3 486.8H805.05V490.55H801.3zM801.3 494.3H805.05V498.05H801.3zM805.05 426.8H808.8V430.55H805.05zM805.05 475.55H808.8V483.05H805.05zM805.05 490.55H812.55V494.3H805.05zM805.05 498.05H816.3V501.8H805.05zM808.8 430.55H812.55V438.05H808.8zM808.8 483.05H812.55V490.55H808.8zM808.8 494.3H816.3V498.05H808.8zM808.8 501.8H820.05V505.55H808.8zM812.55 438.05H816.3V445.55H812.55zM816.3 445.55H820.05V453.05H816.3zM820.05 453.05H823.8V460.55H820.05zM820.05 471.8H823.8V475.55H820.05zM823.8 460.55H827.55V464.3H823.8zM823.8 475.55H827.55V479.3H823.8zM827.55 464.3H831.3V471.8H827.55zM827.55 479.3H831.3V483.05H827.55zM831.3 471.8H835.05V479.3H831.3zM831.3 486.8H835.05V490.55H831.3zM831.3 483.05H838.8V486.8H831.3zM835.05 456.8H838.8V468.05H835.05zM835.05 479.3H838.8V483.05H835.05zM835.05 490.55H846.3V494.3H835.05zM838.8 389.3H842.55V396.8H838.8zM838.8 468.05H842.55V479.3H838.8zM838.8 486.8H846.3V490.55H838.8zM838.8 494.3H850.05V498.05H838.8zM842.55 396.8H846.3V404.3H842.55zM842.55 479.3H846.3V486.8H842.55zM846.3 404.3H850.05V415.55H846.3zM846.3 186.8H996.3V190.55H846.3zM850.05 415.55H853.8V426.8H850.05zM853.8 426.8H857.55V434.3H853.8zM857.55 434.3H861.3V445.55H857.55zM857.55 464.3H861.3V468.05H857.55zM861.3 445.55H865.05V456.8H861.3zM861.3 468.05H865.05V471.8H861.3zM865.05 456.8H868.8V464.3H865.05zM865.05 475.55H868.8V479.3H865.05zM865.05 471.8H872.55V475.55H865.05zM868.8 464.3H872.55V471.8H868.8zM868.8 479.3H880.05V483.05H868.8zM872.55 453.05H876.3V464.3H872.55zM872.55 475.55H880.05V479.3H872.55zM872.55 483.05H880.05V490.55H872.55zM876.3 464.3H880.05V475.55H876.3zM895.05 389.3H898.8V408.05H895.05zM898.8 408.05H902.55V426.8H898.8zM898.8 456.8H902.55V460.55H898.8zM902.55 426.8H906.3V441.8H902.55zM902.55 460.55H906.3V468.05H902.55zM906.3 441.8H910.05V460.55H906.3zM906.3 468.05H917.55V475.55H906.3zM910.05 479.3H913.8V483.05H910.05zM910.05 460.55H917.55V468.05H910.05zM910.05 475.55H917.55V479.3H910.05zM913.8 449.3H917.55V460.55H913.8zM943.8 453.05H947.55V456.8H943.8zM947.55 389.3H951.3V408.05H947.55zM947.55 464.3H951.3V468.05H947.55zM947.55 456.8H955.05V464.3H947.55zM951.3 175.55H955.05V179.3H951.3zM951.3 408.05H955.05V456.8H951.3zM951.3 468.05H958.8V475.55H951.3zM951.3 194.3H966.3V198.05H951.3zM955.05 464.3H962.55V468.05H955.05zM955.05 179.3H973.8V183.05H955.05zM958.8 449.3H962.55V464.3H958.8zM966.3 190.55H985.05V194.3H966.3zM973.8 183.05H988.8V186.8H973.8zM992.55 449.3H996.3V464.3H992.55zM992.55 464.3H1000.05V468.05H992.55zM996.3 468.05H1003.8V475.55H996.3zM1000.05 408.05H1003.8V456.8H1000.05zM1000.05 456.8H1007.55V464.3H1000.05zM1003.8 389.3H1007.55V408.05H1003.8zM1003.8 464.3H1007.55V468.05H1003.8zM1007.55 449.3H1011.3V456.8H1007.55zM1037.55 453.05H1041.3V460.55H1037.55zM1037.55 460.55H1045.05V468.05H1037.55zM1037.55 475.55H1045.05V479.3H1037.55zM1037.55 468.05H1048.8V475.55H1037.55zM1041.3 479.3H1045.05V483.05H1041.3zM1045.05 441.8H1048.8V460.55H1045.05zM1048.8 426.8H1052.55V441.8H1048.8zM1048.8 460.55H1052.55V468.05H1048.8zM1052.55 408.05H1056.3V426.8H1052.55zM1052.55 453.05H1056.3V460.55H1052.55zM1056.3 389.3H1060.05V408.05H1056.3zM1075.05 464.3H1078.8V475.55H1075.05zM1075.05 475.55H1082.55V479.3H1075.05zM1075.05 483.05H1082.55V490.55H1075.05zM1075.05 479.3H1086.3V483.05H1075.05zM1078.8 456.8H1082.55V464.3H1078.8zM1082.55 464.3H1086.3V471.8H1082.55zM1082.55 471.8H1090.05V475.55H1082.55zM1086.3 456.8H1090.05V464.3H1086.3zM1086.3 475.55H1090.05V479.3H1086.3zM1090.05 445.55H1093.8V456.8H1090.05zM1090.05 468.05H1093.8V471.8H1090.05zM1093.8 434.3H1097.55V445.55H1093.8zM1093.8 460.55H1097.55V468.05H1093.8zM1097.55 426.8H1101.3V434.3H1097.55zM1101.3 415.55H1105.05V426.8H1101.3zM1105.05 404.3H1108.8V415.55H1105.05zM1105.05 494.3H1116.3V498.05H1105.05zM1108.8 396.8H1112.55V404.3H1108.8zM1108.8 479.3H1112.55V486.8H1108.8zM1108.8 486.8H1116.3V490.55H1108.8zM1108.8 490.55H1120.05V494.3H1108.8zM1112.55 389.3H1116.3V396.8H1112.55zM1112.55 468.05H1116.3V479.3H1112.55zM1116.3 460.55H1120.05V468.05H1116.3zM1116.3 479.3H1120.05V483.05H1116.3zM1116.3 483.05H1123.8V486.8H1116.3zM1120.05 471.8H1123.8V479.3H1120.05zM1120.05 486.8H1123.8V490.55H1120.05zM1123.8 464.3H1127.55V471.8H1123.8zM1123.8 479.3H1127.55V483.05H1123.8zM1127.55 460.55H1131.3V464.3H1127.55zM1127.55 475.55H1131.3V479.3H1127.55zM1131.3 453.05H1135.05V460.55H1131.3zM1131.3 471.8H1135.05V475.55H1131.3zM1135.05 445.55H1138.8V453.05H1135.05zM1135.05 468.05H1138.8V471.8H1135.05zM1135.05 501.8H1146.3V505.55H1135.05zM1138.8 438.05H1142.55V445.55H1138.8zM1138.8 494.3H1146.3V498.05H1138.8zM1138.8 498.05H1150.05V501.8H1138.8zM1142.55 430.55H1146.3V438.05H1142.55zM1142.55 483.05H1146.3V490.55H1142.55zM1142.55 490.55H1150.05V494.3H1142.55zM1146.3 426.8H1150.05V430.55H1146.3zM1146.3 475.55H1150.05V483.05H1146.3zM1150.05 419.3H1153.8V426.8H1150.05zM1150.05 464.3H1153.8V475.55H1150.05zM1150.05 486.8H1153.8V490.55H1150.05zM1150.05 494.3H1153.8V498.05H1150.05zM1153.8 411.8H1157.55V419.3H1153.8zM1153.8 479.3H1157.55V486.8H1153.8zM1153.8 490.55H1161.3V494.3H1153.8zM1157.55 404.3H1161.3V411.8H1157.55zM1157.55 475.55H1161.3V479.3H1157.55zM1161.3 396.8H1165.05V404.3H1161.3zM1161.3 471.8H1165.05V475.55H1161.3zM1161.3 486.8H1165.05V490.55H1161.3zM1165.05 393.05H1168.8V396.8H1165.05zM1165.05 464.3H1168.8V471.8H1165.05zM1165.05 483.05H1168.8V486.8H1165.05zM1165.05 509.3H1172.55V513.05H1165.05zM1165.05 505.55H1180.05V509.3H1165.05zM1168.8 389.3H1172.55V393.05H1168.8zM1168.8 460.55H1172.55V464.3H1168.8zM1168.8 479.3H1172.55V483.05H1168.8zM1168.8 498.05H1172.55V501.8H1168.8zM1168.8 501.8H1176.3V505.55H1168.8zM1172.55 456.8H1176.3V460.55H1172.55zM1172.55 475.55H1176.3V479.3H1172.55zM1172.55 490.55H1176.3V498.05H1172.55zM1176.3 449.3H1180.05V456.8H1176.3zM1176.3 483.05H1180.05V490.55H1176.3zM1176.3 498.05H1180.05V501.8H1176.3zM1180.05 445.55H1183.8V449.3H1180.05zM1180.05 479.3H1183.8V483.05H1180.05zM1180.05 494.3H1183.8V498.05H1180.05zM1180.05 501.8H1183.8V505.55H1180.05zM1183.8 438.05H1187.55V445.55H1183.8zM1183.8 471.8H1187.55V479.3H1183.8zM1183.8 490.55H1187.55V494.3H1183.8zM1183.8 498.05H1191.3V501.8H1183.8zM1187.55 434.3H1191.3V438.05H1187.55zM1187.55 468.05H1191.3V471.8H1187.55zM1187.55 486.8H1191.3V490.55H1187.55zM1191.3 430.55H1195.05V434.3H1191.3zM1191.3 483.05H1195.05V486.8H1191.3zM1191.3 494.3H1195.05V498.05H1191.3zM1191.3 513.05H1202.55V516.8H1191.3zM1195.05 423.05H1198.8V430.55H1195.05zM1195.05 475.55H1198.8V483.05H1195.05zM1195.05 505.55H1198.8V509.3H1195.05zM1195.05 516.8H1198.8V520.55H1195.05zM1195.05 490.55H1202.55V494.3H1195.05zM1195.05 509.3H1210.05V513.05H1195.05zM1198.8 419.3H1202.55V423.05H1198.8zM1198.8 471.8H1202.55V475.55H1198.8zM1198.8 501.8H1202.55V505.55H1198.8zM1202.55 415.55H1206.3V419.3H1202.55zM1202.55 468.05H1206.3V471.8H1202.55zM1202.55 486.8H1206.3V490.55H1202.55zM1202.55 494.3H1206.3V501.8H1202.55zM1202.55 505.55H1206.3V509.3H1202.55zM1206.3 408.05H1210.05V415.55H1206.3zM1206.3 464.3H1210.05V468.05H1206.3zM1206.3 490.55H1210.05V494.3H1206.3zM1206.3 501.8H1210.05V505.55H1206.3zM1206.3 483.05H1213.8V486.8H1206.3zM1210.05 404.3H1213.8V408.05H1210.05zM1210.05 460.55H1213.8V464.3H1210.05zM1210.05 486.8H1213.8V490.55H1210.05zM1210.05 498.05H1213.8V501.8H1210.05zM1210.05 505.55H1217.55V509.3H1210.05zM1213.8 400.55H1217.55V404.3H1213.8zM1213.8 456.8H1217.55V460.55H1213.8zM1213.8 479.3H1217.55V483.05H1213.8zM1213.8 494.3H1217.55V498.05H1213.8zM1217.55 393.05H1221.3V400.55H1217.55zM1217.55 453.05H1221.3V456.8H1217.55zM1217.55 475.55H1221.3V479.3H1217.55zM1217.55 490.55H1221.3V494.3H1217.55zM1217.55 501.8H1225.05V505.55H1217.55zM1217.55 516.8H1232.55V520.55H1217.55zM1221.3 389.3H1225.05V393.05H1221.3zM1221.3 449.3H1225.05V453.05H1221.3zM1221.3 520.55H1225.05V524.3H1221.3zM1221.3 486.8H1228.8V490.55H1221.3zM1221.3 513.05H1228.8V516.8H1221.3zM1225.05 445.55H1228.8V449.3H1225.05zM1225.05 498.05H1236.3V501.8H1225.05zM1225.05 509.3H1236.3V513.05H1225.05zM1228.8 441.8H1232.55V445.55H1228.8zM1228.8 483.05H1232.55V486.8H1228.8zM1228.8 501.8H1232.55V509.3H1228.8zM1232.55 438.05H1236.3V441.8H1232.55zM1232.55 479.3H1236.3V483.05H1232.55zM1232.55 494.3H1240.05V498.05H1232.55zM1232.55 513.05H1240.05V516.8H1232.55zM1236.3 430.55H1240.05V438.05H1236.3zM1236.3 475.55H1240.05V479.3H1236.3zM1236.3 505.55H1240.05V509.3H1236.3zM1240.05 426.8H1243.8V430.55H1240.05zM1240.05 471.8H1243.8V475.55H1240.05zM1240.05 486.8H1243.8V494.3H1240.05zM1240.05 501.8H1243.8V505.55H1240.05zM1240.05 509.3H1251.3V513.05H1240.05zM1243.8 423.05H1247.55V426.8H1243.8zM1243.8 468.05H1247.55V471.8H1243.8zM1243.8 483.05H1247.55V486.8H1243.8zM1243.8 498.05H1251.3V501.8H1243.8zM1247.55 419.3H1251.3V423.05H1247.55zM1247.55 464.3H1251.3V468.05H1247.55zM1247.55 479.3H1251.3V483.05H1247.55zM1247.55 524.3H1251.3V528.05H1247.55zM1247.55 520.55H1258.8V524.3H1247.55zM1247.55 516.8H1270.05V520.55H1247.55zM1251.3 415.55H1255.05V419.3H1251.3zM1251.3 460.55H1255.05V464.3H1251.3zM1251.3 494.3H1255.05V498.05H1251.3zM1251.3 513.05H1255.05V516.8H1251.3zM1251.3 505.55H1262.55V509.3H1251.3zM1255.05 411.8H1258.8V415.55H1255.05zM1255.05 456.8H1258.8V460.55H1255.05zM1255.05 490.55H1258.8V494.3H1255.05zM1255.05 509.3H1258.8V513.05H1255.05zM1258.8 408.05H1262.55V411.8H1258.8zM1258.8 453.05H1262.55V456.8H1258.8zM1258.8 486.8H1262.55V490.55H1258.8zM1258.8 513.05H1262.55V516.8H1258.8zM1258.8 501.8H1266.3V505.55H1258.8zM1262.55 404.3H1266.3V408.05H1262.55zM1262.55 449.3H1270.05V453.05H1262.55zM1262.55 483.05H1270.05V486.8H1262.55zM1262.55 509.3H1270.05V513.05H1262.55zM1266.3 400.55H1270.05V404.3H1266.3zM1266.3 494.3H1270.05V501.8H1266.3zM1270.05 396.8H1273.8V400.55H1270.05zM1270.05 445.55H1273.8V449.3H1270.05zM1270.05 479.3H1273.8V483.05H1270.05zM1270.05 490.55H1273.8V494.3H1270.05zM1270.05 505.55H1273.8V509.3H1270.05zM1270.05 513.05H1285.05V516.8H1270.05zM1273.8 393.05H1277.55V396.8H1273.8zM1273.8 441.8H1277.55V445.55H1273.8zM1273.8 475.55H1277.55V479.3H1273.8zM1273.8 486.8H1277.55V490.55H1273.8zM1273.8 501.8H1281.3V505.55H1273.8zM1273.8 524.3H1285.05V528.05H1273.8zM1273.8 520.55H1296.3V524.3H1273.8zM1277.55 389.3H1281.3V393.05H1277.55zM1277.55 438.05H1281.3V441.8H1277.55zM1277.55 516.8H1281.3V520.55H1277.55zM1277.55 471.8H1285.05V475.55H1277.55zM1281.3 434.3H1285.05V438.05H1281.3zM1281.3 498.05H1285.05V501.8H1281.3zM1281.3 509.3H1292.55V513.05H1281.3zM1285.05 430.55H1288.8V434.3H1285.05zM1285.05 468.05H1288.8V471.8H1285.05zM1285.05 494.3H1288.8V498.05H1285.05zM1285.05 516.8H1288.8V520.55H1285.05zM1288.8 426.8H1292.55V430.55H1288.8zM1288.8 464.3H1292.55V468.05H1288.8zM1288.8 490.55H1296.3V494.3H1288.8zM1288.8 505.55H1296.3V509.3H1288.8zM1288.8 513.05H1296.3V516.8H1288.8zM1292.55 423.05H1296.3V426.8H1292.55zM1292.55 460.55H1296.3V464.3H1292.55zM1292.55 501.8H1296.3V505.55H1292.55zM1296.3 419.3H1300.05V423.05H1296.3zM1296.3 486.8H1300.05V490.55H1296.3zM1296.3 498.05H1300.05V501.8H1296.3zM1296.3 509.3H1300.05V513.05H1296.3zM1296.3 456.8H1303.8V460.55H1296.3zM1296.3 516.8H1311.3V520.55H1296.3zM1300.05 415.55H1303.8V419.3H1300.05zM1300.05 494.3H1303.8V498.05H1300.05zM1300.05 483.05H1307.55V486.8H1300.05zM1300.05 505.55H1307.55V509.3H1300.05zM1300.05 528.05H1307.55V531.8H1300.05zM1300.05 524.3H1322.55V528.05H1300.05zM1303.8 453.05H1307.55V456.8H1303.8zM1303.8 490.55H1307.55V494.3H1303.8zM1303.8 411.8H1311.3V415.55H1303.8zM1303.8 520.55H1315.05V524.3H1303.8zM1307.55 449.3H1311.3V453.05H1307.55zM1307.55 479.3H1311.3V483.05H1307.55zM1307.55 501.8H1315.05V505.55H1307.55zM1311.3 408.05H1315.05V411.8H1311.3zM1311.3 445.55H1318.8V449.3H1311.3zM1311.3 475.55H1318.8V479.3H1311.3zM1311.3 513.05H1330.05V516.8H1311.3zM1315.05 404.3H1318.8V408.05H1315.05zM1315.05 498.05H1318.8V501.8H1315.05zM1315.05 509.3H1318.8V513.05H1315.05zM1315.05 516.8H1322.55V520.55H1315.05zM1318.8 400.55H1322.55V404.3H1318.8zM1318.8 441.8H1322.55V445.55H1318.8zM1318.8 471.8H1322.55V475.55H1318.8zM1318.8 505.55H1322.55V509.3H1318.8zM1318.8 494.3H1326.3V498.05H1318.8zM1322.55 396.8H1326.3V400.55H1322.55zM1322.55 438.05H1326.3V441.8H1322.55zM1322.55 501.8H1326.3V505.55H1322.55zM1322.55 468.05H1330.05V471.8H1322.55zM1322.55 520.55H1345.05V524.3H1322.55zM1326.3 393.05H1330.05V396.8H1326.3zM1326.3 434.3H1330.05V438.05H1326.3zM1326.3 498.05H1330.05V501.8H1326.3zM1326.3 490.55H1337.55V494.3H1326.3zM1326.3 524.3H1337.55V528.05H1326.3zM1326.3 528.05H1341.3V531.8H1326.3zM1330.05 389.3H1333.8V393.05H1330.05zM1330.05 464.3H1333.8V468.05H1330.05zM1330.05 494.3H1333.8V498.05H1330.05zM1330.05 509.3H1333.8V513.05H1330.05zM1330.05 430.55H1337.55V434.3H1330.05zM1333.8 385.55H1337.55V389.3H1333.8zM1333.8 486.8H1337.55V490.55H1333.8zM1333.8 460.55H1341.3V464.3H1333.8zM1333.8 505.55H1341.3V509.3H1333.8zM1333.8 516.8H1352.55V520.55H1333.8zM1337.55 426.8H1341.3V430.55H1337.55zM1337.55 483.05H1345.05V486.8H1337.55zM1341.3 423.05H1345.05V426.8H1341.3zM1341.3 456.8H1345.05V460.55H1341.3zM1341.3 513.05H1345.05V516.8H1341.3zM1341.3 501.8H1348.8V505.55H1341.3zM1341.3 524.3H1367.55V528.05H1341.3zM1345.05 509.3H1348.8V513.05H1345.05zM1345.05 419.3H1352.55V423.05H1345.05zM1345.05 453.05H1352.55V456.8H1345.05zM1345.05 479.3H1352.55V483.05H1345.05zM1348.8 505.55H1352.55V509.3H1348.8zM1348.8 498.05H1363.8V501.8H1348.8zM1352.55 415.55H1356.3V419.3H1352.55zM1352.55 449.3H1356.3V453.05H1352.55zM1352.55 475.55H1356.3V479.3H1352.55zM1352.55 501.8H1356.3V505.55H1352.55zM1352.55 513.05H1360.05V516.8H1352.55zM1352.55 528.05H1371.3V531.8H1352.55zM1356.3 411.8H1360.05V415.55H1356.3zM1356.3 445.55H1360.05V449.3H1356.3zM1356.3 531.8H1360.05V535.55H1356.3zM1356.3 471.8H1363.8V475.55H1356.3zM1356.3 494.3H1363.8V498.05H1356.3zM1360.05 408.05H1363.8V411.8H1360.05zM1360.05 441.8H1367.55V445.55H1360.05zM1360.05 509.3H1367.55V513.05H1360.05zM1360.05 520.55H1378.8V524.3H1360.05zM1363.8 490.55H1367.55V494.3H1363.8zM1363.8 404.3H1371.3V408.05H1363.8zM1363.8 468.05H1371.3V471.8H1363.8zM1363.8 516.8H1371.3V520.55H1363.8zM1367.55 438.05H1371.3V441.8H1367.55zM1367.55 486.8H1375.05V490.55H1367.55zM1367.55 505.55H1375.05V509.3H1367.55zM1371.3 400.55H1375.05V404.3H1371.3zM1371.3 464.3H1375.05V468.05H1371.3zM1371.3 513.05H1375.05V516.8H1371.3zM1371.3 434.3H1378.8V438.05H1371.3zM1375.05 396.8H1378.8V400.55H1375.05zM1375.05 509.3H1378.8V513.05H1375.05zM1375.05 460.55H1382.55V464.3H1375.05zM1375.05 483.05H1382.55V486.8H1375.05zM1375.05 501.8H1390.05V505.55H1375.05zM1378.8 430.55H1382.55V434.3H1378.8zM1378.8 505.55H1382.55V509.3H1378.8zM1378.8 393.05H1386.3V396.8H1378.8zM1378.8 516.8H1386.3V520.55H1378.8zM1378.8 528.05H1390.05V531.8H1378.8zM1378.8 524.3H1401.3V528.05H1378.8zM1382.55 456.8H1386.3V460.55H1382.55zM1382.55 426.8H1390.05V430.55H1382.55zM1382.55 479.3H1390.05V483.05H1382.55zM1382.55 498.05H1393.8V501.8H1382.55zM1382.55 531.8H1393.8V535.55H1382.55zM1386.3 389.3H1390.05V393.05H1386.3zM1386.3 453.05H1393.8V456.8H1386.3zM1386.3 513.05H1393.8V516.8H1386.3zM1390.05 385.55H1393.8V389.3H1390.05zM1390.05 423.05H1393.8V426.8H1390.05zM1390.05 520.55H1393.8V524.3H1390.05zM1390.05 475.55H1397.55V479.3H1390.05zM1390.05 494.3H1397.55V498.05H1390.05zM1393.8 516.8H1397.55V520.55H1393.8zM1393.8 528.05H1397.55V531.8H1393.8zM1393.8 419.3H1401.3V423.05H1393.8zM1393.8 449.3H1401.3V453.05H1393.8zM1393.8 509.3H1401.3V513.05H1393.8zM1397.55 471.8H1405.05V475.55H1397.55zM1397.55 490.55H1405.05V494.3H1397.55zM1397.55 513.05H1405.05V516.8H1397.55zM1401.3 415.55H1405.05V419.3H1401.3zM1401.3 445.55H1405.05V449.3H1401.3zM1401.3 520.55H1408.8V524.3H1401.3zM1401.3 505.55H1412.55V509.3H1401.3zM1405.05 468.05H1408.8V471.8H1405.05zM1405.05 509.3H1408.8V513.05H1405.05zM1405.05 411.8H1412.55V415.55H1405.05zM1405.05 441.8H1412.55V445.55H1405.05zM1405.05 486.8H1412.55V490.55H1405.05zM1405.05 528.05H1420.05V531.8H1405.05zM1408.8 464.3H1416.3V468.05H1408.8zM1408.8 516.8H1416.3V520.55H1408.8zM1408.8 501.8H1420.05V505.55H1408.8zM1408.8 531.8H1431.3V535.55H1408.8zM1412.55 408.05H1416.3V411.8H1412.55zM1412.55 438.05H1420.05V441.8H1412.55zM1412.55 483.05H1420.05V486.8H1412.55zM1412.55 524.3H1431.3V528.05H1412.55zM1416.3 404.3H1423.8V408.05H1416.3zM1416.3 460.55H1423.8V464.3H1416.3zM1416.3 520.55H1423.8V524.3H1416.3zM1416.3 498.05H1427.55V501.8H1416.3zM1416.3 513.05H1435.05V516.8H1416.3zM1420.05 434.3H1423.8V438.05H1420.05zM1420.05 479.3H1427.55V483.05H1420.05zM1423.8 400.55H1427.55V404.3H1423.8zM1423.8 516.8H1427.55V520.55H1423.8zM1423.8 430.55H1431.3V434.3H1423.8zM1423.8 456.8H1431.3V460.55H1423.8zM1427.55 396.8H1435.05V400.55H1427.55zM1427.55 475.55H1435.05V479.3H1427.55zM1427.55 494.3H1435.05V498.05H1427.55zM1427.55 509.3H1438.8V513.05H1427.55zM1431.3 426.8H1438.8V430.55H1431.3zM1431.3 453.05H1438.8V456.8H1431.3zM1431.3 520.55H1438.8V524.3H1431.3zM1431.3 528.05H1457.55V531.8H1431.3zM1435.05 393.05H1438.8V396.8H1435.05zM1435.05 471.8H1442.55V475.55H1435.05zM1435.05 490.55H1442.55V494.3H1435.05zM1435.05 505.55H1442.55V509.3H1435.05zM1438.8 389.3H1442.55V393.05H1438.8zM1438.8 423.05H1442.55V426.8H1438.8zM1438.8 449.3H1446.3V453.05H1438.8zM1438.8 516.8H1450.05V520.55H1438.8zM1442.55 385.55H1450.05V389.3H1442.55zM1442.55 419.3H1450.05V423.05H1442.55zM1442.55 468.05H1450.05V471.8H1442.55zM1442.55 486.8H1450.05V490.55H1442.55zM1442.55 501.8H1453.8V505.55H1442.55zM1446.3 445.55H1450.05V449.3H1446.3zM1450.05 415.55H1457.55V419.3H1450.05zM1450.05 441.8H1457.55V445.55H1450.05zM1450.05 464.3H1457.55V468.05H1450.05zM1450.05 483.05H1457.55V486.8H1450.05zM1450.05 513.05H1457.55V516.8H1450.05zM1453.8 498.05H1461.3V501.8H1453.8zM1457.55 411.8H1461.3V415.55H1457.55zM1457.55 438.05H1465.05V441.8H1457.55zM1457.55 460.55H1465.05V464.3H1457.55zM1457.55 479.3H1468.8V483.05H1457.55zM1457.55 509.3H1468.8V513.05H1457.55zM1461.3 408.05H1468.8V411.8H1461.3zM1461.3 494.3H1468.8V498.05H1461.3zM1465.05 434.3H1472.55V438.05H1465.05zM1465.05 456.8H1472.55V460.55H1465.05zM1468.8 404.3H1472.55V408.05H1468.8zM1468.8 475.55H1476.3V479.3H1468.8zM1468.8 490.55H1480.05V494.3H1468.8zM1468.8 505.55H1480.05V509.3H1468.8zM1472.55 400.55H1480.05V404.3H1472.55zM1472.55 430.55H1480.05V434.3H1472.55zM1472.55 453.05H1480.05V456.8H1472.55zM1476.3 471.8H1483.8V475.55H1476.3zM1480.05 426.8H1483.8V430.55H1480.05zM1480.05 396.8H1487.55V400.55H1480.05zM1480.05 449.3H1487.55V453.05H1480.05zM1480.05 486.8H1487.55V490.55H1480.05zM1480.05 501.8H1487.55V505.55H1480.05zM1483.8 423.05H1491.3V426.8H1483.8zM1483.8 468.05H1491.3V471.8H1483.8zM1487.55 393.05H1491.3V396.8H1487.55zM1487.55 445.55H1495.05V449.3H1487.55zM1487.55 483.05H1498.8V486.8H1487.55zM1487.55 498.05H1498.8V501.8H1487.55zM1491.3 389.3H1498.8V393.05H1491.3zM1491.3 419.3H1498.8V423.05H1491.3zM1491.3 464.3H1498.8V468.05H1491.3zM1495.05 441.8H1502.55V445.55H1495.05zM1498.8 385.55H1506.3V389.3H1498.8zM1498.8 415.55H1506.3V419.3H1498.8zM1498.8 460.55H1506.3V464.3H1498.8zM1498.8 479.3H1506.3V483.05H1498.8zM1498.8 494.3H1506.3V498.05H1498.8zM1502.55 438.05H1510.05V441.8H1502.55zM1506.3 411.8H1513.8V415.55H1506.3zM1506.3 475.55H1513.8V479.3H1506.3zM1506.3 456.8H1517.55V460.55H1506.3zM1506.3 490.55H1517.55V494.3H1506.3zM1510.05 434.3H1517.55V438.05H1510.05zM1513.8 408.05H1521.3V411.8H1513.8zM1513.8 471.8H1525.05V475.55H1513.8zM1517.55 430.55H1525.05V434.3H1517.55zM1517.55 453.05H1525.05V456.8H1517.55zM1517.55 486.8H1525.05V490.55H1517.55zM1521.3 404.3H1525.05V408.05H1521.3zM1525.05 400.55H1532.55V404.3H1525.05zM1525.05 426.8H1532.55V430.55H1525.05zM1525.05 449.3H1532.55V453.05H1525.05zM1525.05 468.05H1532.55V471.8H1525.05zM1525.05 483.05H1536.3V486.8H1525.05zM1532.55 396.8H1540.05V400.55H1532.55zM1532.55 423.05H1540.05V426.8H1532.55zM1532.55 445.55H1540.05V449.3H1532.55zM1532.55 464.3H1540.05V468.05H1532.55zM1536.3 479.3H1543.8V483.05H1536.3zM1540.05 393.05H1547.55V396.8H1540.05zM1540.05 419.3H1547.55V423.05H1540.05zM1540.05 441.8H1547.55V445.55H1540.05zM1540.05 460.55H1551.3V464.3H1540.05zM1543.8 475.55H1555.05V479.3H1543.8zM1547.55 389.3H1555.05V393.05H1547.55zM1547.55 415.55H1555.05V419.3H1547.55zM1547.55 438.05H1558.8V441.8H1547.55zM1551.3 456.8H1558.8V460.55H1551.3zM1555.05 385.55H1562.55V389.3H1555.05zM1555.05 411.8H1562.55V415.55H1555.05zM1555.05 471.8H1562.55V475.55H1555.05zM1558.8 434.3H1566.3V438.05H1558.8zM1558.8 453.05H1566.3V456.8H1558.8zM1562.55 408.05H1570.05V411.8H1562.55zM1562.55 468.05H1573.8V471.8H1562.55zM1566.3 430.55H1573.8V434.3H1566.3zM1566.3 449.3H1577.55V453.05H1566.3zM1570.05 404.3H1577.55V408.05H1570.05zM1573.8 426.8H1581.3V430.55H1573.8zM1573.8 464.3H1581.3V468.05H1573.8zM1577.55 400.55H1585.05V404.3H1577.55zM1577.55 445.55H1585.05V449.3H1577.55zM1581.3 423.05H1588.8V426.8H1581.3zM1581.3 460.55H1592.55V464.3H1581.3zM1585.05 396.8H1592.55V400.55H1585.05zM1585.05 441.8H1596.3V445.55H1585.05zM1588.8 419.3H1600.05V423.05H1588.8zM1592.55 393.05H1600.05V396.8H1592.55zM1592.55 456.8H1603.8V460.55H1592.55zM1596.3 438.05H1603.8V441.8H1596.3zM1600.05 389.3H1607.55V393.05H1600.05zM1600.05 415.55H1607.55V419.3H1600.05zM1603.8 434.3H1611.3V438.05H1603.8zM1603.8 453.05H1611.3V456.8H1603.8zM1607.55 385.55H1615.05V389.3H1607.55zM1607.55 411.8H1615.05V415.55H1607.55zM1611.3 430.55H1622.55V434.3H1611.3zM1611.3 449.3H1622.55V453.05H1611.3zM1615.05 408.05H1622.55V411.8H1615.05zM1622.55 404.3H1630.05V408.05H1622.55zM1622.55 426.8H1630.05V430.55H1622.55zM1622.55 445.55H1630.05V449.3H1622.55zM1630.05 400.55H1637.55V404.3H1630.05zM1630.05 423.05H1637.55V426.8H1630.05zM1630.05 441.8H1641.3V445.55H1630.05zM1637.55 396.8H1648.8V400.55H1637.55zM1637.55 419.3H1648.8V423.05H1637.55zM1641.3 438.05H1648.8V441.8H1641.3zM1648.8 393.05H1656.3V396.8H1648.8zM1648.8 415.55H1656.3V419.3H1648.8zM1648.8 434.3H1660.05V438.05H1648.8zM1656.3 389.3H1663.8V393.05H1656.3zM1656.3 411.8H1663.8V415.55H1656.3zM1660.05 430.55H1667.55V434.3H1660.05zM1663.8 385.55H1671.3V389.3H1663.8zM1663.8 408.05H1675.05V411.8H1663.8zM1667.55 426.8H1678.8V430.55H1667.55zM1675.05 404.3H1682.55V408.05H1675.05zM1678.8 423.05H1686.3V426.8H1678.8zM1682.55 400.55H1693.8V404.3H1682.55zM1686.3 419.3H1697.55V423.05H1686.3zM1693.8 396.8H1701.3V400.55H1693.8zM1697.55 415.55H1705.05V419.3H1697.55zM1701.3 393.05H1708.8V396.8H1701.3zM1705.05 411.8H1716.3V415.55H1705.05zM1708.8 389.3H1720.05V393.05H1708.8zM1716.3 408.05H1727.55V411.8H1716.3zM1720.05 385.55H1727.55V389.3H1720.05zM1727.55 404.3H1735.05V408.05H1727.55zM1735.05 400.55H1746.3V404.3H1735.05zM1746.3 396.8H1753.8V400.55H1746.3zM1753.8 393.05H1765.05V396.8H1753.8zM1765.05 389.3H1772.55V393.05H1765.05zM1772.55 385.55H1783.8V389.3H1772.55z"/>
<path fill="#17e8e8" d="M707.55 520.55H711.3V524.3H707.55zM1243.8 520.55H1247.55V524.3H1243.8z"/>
<path fill="#1ce3e3" d="M812.55 505.55H816.3V509.3H812.55zM1138.8 505.55H1142.55V509.3H1138.8z"/>
<path fill="#1f64a6" d="M917.55 490.55H921.3V494.3H917.55zM1033.8 490.55H1037.55V494.3H1033.8z"/>
<path fill="#1ff5e2" d="M838.8 385.55H842.55V389.3H838.8zM1112.55 385.55H1116.3V389.3H1112.55z"/>
<path fill="#21dede" d="M598.8 531.8H602.55V535.55H598.8zM1352.55 531.8H1356.3V535.55H1352.55z"/>
<path fill="#21f4e0" d="M336.3 381.8H340.05V385.55H336.3zM1615.05 381.8H1618.8V385.55H1615.05z"/>
<path fill="#24dbdb" d="M553.8 528.05H557.55V531.8H553.8zM1397.55 528.05H1401.3V531.8H1397.55z"/>
<path fill="#24f3de" d="M782.55 385.55H786.3V389.3H782.55zM1168.8 385.55H1172.55V389.3H1168.8z"/>
<path fill="#28f2d9" d="M670.05 385.55H673.8V389.3H670.05zM726.3 385.55H730.05V389.3H726.3zM1225.05 385.55H1228.8V389.3H1225.05zM1281.3 385.55H1285.05V389.3H1281.3z"/>
<path fill="#2bf1d7" d="M280.05 381.8H283.8V385.55H280.05zM1671.3 381.8H1675.05V385.55H1671.3z"/>
<path fill="#2ed1d1" d="M913.8 479.3H917.55V483.05H913.8zM1037.55 479.3H1041.3V483.05H1037.55z"/>
<path fill="#32efd0" d="M223.8 381.8H227.55V385.55H223.8zM1727.55 381.8H1731.3V385.55H1727.55z"/>
<path fill="#37edcc" d="M167.55 381.8H171.3V385.55H167.55zM1783.8 381.8H1787.55V385.55H1783.8z"/>
<path fill="#3a3425" d="M163.8 374.3H167.55V378.05H163.8zM1787.55 374.3H1791.3V378.05H1787.55z"/>
<path fill="#42bdbd" d="M550.05 528.05H553.8V531.8H550.05zM572.55 531.8H576.3V535.55H572.55zM1378.8 531.8H1382.55V535.55H1378.8zM1401.3 528.05H1405.05V531.8H1401.3z"/>
<path fill="#45baba" d="M951.3 475.55H955.05V479.3H951.3zM1000.05 475.55H1003.8V479.3H1000.05z"/>
<path fill="#4ab5b5" d="M842.55 498.05H846.3V501.8H842.55zM1108.8 498.05H1112.55V501.8H1108.8z"/>
<path fill="#5fe0a6" d="M947.55 385.55H951.3V389.3H947.55zM1003.8 385.55H1007.55V389.3H1003.8z"/>
<path fill="#61dfa4" d="M891.3 385.55H895.05V389.3H891.3zM1060.05 385.55H1063.8V389.3H1060.05z"/>
<path fill="#625024" d="M163.8 385.55H167.55V389.3H163.8zM1787.55 385.55H1791.3V389.3H1787.55z"/>
<path fill="#639c9c" d="M546.3 531.8H550.05V535.55H546.3zM576.3 528.05H583.8V531.8H576.3zM681.3 524.3H685.05V528.05H681.3zM1270.05 524.3H1273.8V528.05H1270.05zM1371.3 528.05H1378.8V531.8H1371.3zM1405.05 531.8H1408.8V535.55H1405.05z"/>
<path fill="#6e416c" d="M913.8 490.55H917.55V494.3H913.8zM1037.55 490.55H1041.3V494.3H1037.55z"/>
<path fill="#827d7d" d="M760.05 516.8H763.8V520.55H760.05zM1191.3 516.8H1195.05V520.55H1191.3z"/>
<path fill="#857a7a" d="M955.05 475.55H958.8V479.3H955.05zM996.3 475.55H1000.05V479.3H996.3z"/>
<path fill="#877878" d="M786.3 513.05H790.05V516.8H786.3zM1165.05 513.05H1168.8V516.8H1165.05z"/>
<path fill="#8f3253" d="M958.8 479.3H962.55V483.05H958.8zM992.55 479.3H996.3V483.05H992.55z"/>
<path fill="#916e6e" d="M733.8 520.55H737.55V524.3H733.8zM1217.55 520.55H1221.3V524.3H1217.55z"/>
<path fill="#b84747" d="M628.8 528.05H632.55V531.8H628.8zM707.55 524.3H711.3V528.05H707.55zM1243.8 524.3H1247.55V528.05H1243.8zM1322.55 528.05H1326.3V531.8H1322.55z"/>
<path fill="#bf1c2f" d="M951.3 483.05H955.05V486.8H951.3zM1000.05 483.05H1003.8V486.8H1000.05z"/>
<path fill="#c93636" d="M681.3 528.05H685.05V531.8H681.3zM1270.05 528.05H1273.8V531.8H1270.05z"/>
<path fill="#cf3030" d="M655.05 528.05H658.8V531.8H655.05zM1296.3 528.05H1300.05V531.8H1296.3z"/>
<path fill="#d92626" d="M816.3 505.55H820.05V509.3H816.3zM1135.05 505.55H1138.8V509.3H1135.05z"/>
<path fill="#dcb630" d="M670.05 381.8H673.8V385.55H670.05zM1281.3 381.8H1285.05V385.55H1281.3z"/>
<path fill="#de2121" d="M846.3 498.05H850.05V501.8H846.3zM1105.05 498.05H1108.8V501.8H1105.05z"/>
<path fill="#dfb62d" d="M613.8 381.8H617.55V385.55H613.8zM1337.55 381.8H1341.3V385.55H1337.55z"/>
<path fill="#e4b429" d="M557.55 381.8H561.3V385.55H557.55zM1393.8 381.8H1397.55V385.55H1393.8z"/>
<path fill="#e6b327" d="M501.3 381.8H505.05V385.55H501.3zM1450.05 381.8H1453.8V385.55H1450.05z"/>
<path fill="#e7ad20" d="M163.8 378.05H167.55V381.8H163.8zM1787.55 378.05H1791.3V381.8H1787.55z"/>
<path fill="#e8b324" d="M445.05 381.8H448.8V385.55H445.05zM1506.3 381.8H1510.05V385.55H1506.3z"/>
<path fill="#eb1414" d="M876.3 490.55H880.05V494.3H876.3zM1075.05 490.55H1078.8V494.3H1075.05z"/>
<path fill="#ebb222" d="M332.55 381.8H336.3V385.55H332.55zM388.8 381.8H392.55V385.55H388.8zM1562.55 381.8H1566.3V385.55H1562.55zM1618.8 381.8H1622.55V385.55H1618.8z"/>
<path fill="#edb120" d="M160.05 381.8H167.55V385.55H160.05zM216.3 381.8H223.8V385.55H216.3zM272.55 381.8H280.05V385.55H272.55zM328.8 381.8H332.55V385.55H328.8zM385.05 381.8H388.8V385.55H385.05zM441.3 378.05H445.05V385.55H441.3zM497.55 378.05H501.3V385.55H497.55zM553.8 378.05H557.55V385.55H553.8zM610.05 378.05H613.8V385.55H610.05zM666.3 378.05H670.05V385.55H666.3zM722.55 378.05H726.3V385.55H722.55zM778.8 378.05H782.55V385.55H778.8zM835.05 378.05H838.8V385.55H835.05zM891.3 378.05H895.05V385.55H891.3zM917.55 246.8H925.05V250.55H917.55zM947.55 378.05H951.3V385.55H947.55zM1003.8 378.05H1007.55V385.55H1003.8zM1060.05 378.05H1063.8V385.55H1060.05zM1116.3 378.05H1120.05V385.55H1116.3zM1172.55 378.05H1176.3V385.55H1172.55zM1228.8 378.05H1232.55V385.55H1228.8zM1285.05 378.05H1288.8V385.55H1285.05zM1341.3 378.05H1345.05V385.55H1341.3zM1397.55 378.05H1401.3V385.55H1397.55zM1453.8 378.05H1457.55V385.55H1453.8zM1510.05 378.05H1513.8V385.55H1510.05zM1566.3 381.8H1570.05V385.55H1566.3zM1622.55 381.8H1626.3V385.55H1622.55zM1675.05 381.8H1682.55V385.55H1675.05zM1731.3 381.8H1738.8V385.55H1731.3zM1787.55 381.8H1795.05V385.55H1787.55z"/>
<path fill="#edb222" d="M272.55 378.05H276.3V381.8H272.55zM328.8 378.05H332.55V381.8H328.8zM385.05 378.05H388.8V381.8H385.05zM1566.3 378.05H1570.05V381.8H1566.3zM1622.55 378.05H1626.3V381.8H1622.55zM1678.8 378.05H1682.55V381.8H1678.8z"/>
<path fill="#edb324" d="M216.3 378.05H220.05V381.8H216.3zM1735.05 378.05H1738.8V381.8H1735.05z"/>
<path fill="#eeb327" d="M160.05 378.05H163.8V381.8H160.05zM220.05 378.05H223.8V381.8H220.05zM1731.3 378.05H1735.05V381.8H1731.3zM1791.3 378.05H1795.05V381.8H1791.3z"/>
<path fill="#eeb62d" d="M276.3 378.05H280.05V381.8H276.3zM332.55 378.05H336.3V381.8H332.55zM388.8 378.05H392.55V381.8H388.8zM1562.55 378.05H1566.3V381.8H1562.55zM1618.8 378.05H1622.55V381.8H1618.8zM1675.05 378.05H1678.8V381.8H1675.05z"/>
<path fill="#eeb630" d="M917.55 250.55H925.05V254.3H917.55z"/>
<path fill="#efb936" d="M445.05 378.05H448.8V381.8H445.05zM726.3 381.8H730.05V385.55H726.3zM1225.05 381.8H1228.8V385.55H1225.05zM1506.3 378.05H1510.05V381.8H1506.3z"/>
<path fill="#efba39" d="M501.3 378.05H505.05V381.8H501.3zM1450.05 378.05H1453.8V381.8H1450.05z"/>
<path fill="#efba3b" d="M557.55 378.05H561.3V381.8H557.55zM1393.8 378.05H1397.55V381.8H1393.8z"/>
<path fill="#f0bc3f" d="M782.55 381.8H786.3V385.55H782.55zM1168.8 381.8H1172.55V385.55H1168.8z"/>
<path fill="#f0bd44" d="M613.8 378.05H617.55V381.8H613.8zM1337.55 378.05H1341.3V381.8H1337.55z"/>
<path fill="#f0bf48" d="M670.05 378.05H673.8V381.8H670.05zM838.8 381.8H842.55V385.55H838.8zM1112.55 381.8H1116.3V385.55H1112.55zM1281.3 378.05H1285.05V381.8H1281.3z"/>
<path fill="#f1c14d" d="M726.3 378.05H730.05V381.8H726.3zM895.05 381.8H898.8V385.55H895.05zM1056.3 381.8H1060.05V385.55H1056.3zM1225.05 378.05H1228.8V381.8H1225.05z"/>
<path fill="#f2c458" d="M951.3 381.8H955.05V385.55H951.3zM1000.05 381.8H1003.8V385.55H1000.05z"/>
<path fill="#f2c55a" d="M782.55 378.05H786.3V381.8H782.55zM1168.8 378.05H1172.55V381.8H1168.8z"/>
<path fill="#f2c75e" d="M838.8 378.05H842.55V381.8H838.8zM943.8 381.8H947.55V385.55H943.8zM1007.55 381.8H1011.3V385.55H1007.55zM1112.55 378.05H1116.3V381.8H1112.55z"/>
<path fill="#f2c863" d="M887.55 381.8H891.3V385.55H887.55zM895.05 378.05H898.8V381.8H895.05zM1056.3 378.05H1060.05V381.8H1056.3zM1063.8 381.8H1067.55V385.55H1063.8z"/>
<path fill="#f3cd70" d="M831.3 381.8H835.05V385.55H831.3zM951.3 378.05H955.05V381.8H951.3zM1000.05 378.05H1003.8V381.8H1000.05zM1120.05 381.8H1123.8V385.55H1120.05z"/>
<path fill="#f4cf75" d="M775.05 381.8H778.8V385.55H775.05zM943.8 378.05H947.55V381.8H943.8zM1007.55 378.05H1011.3V381.8H1007.55zM1176.3 381.8H1180.05V385.55H1176.3z"/>
<path fill="#f4d079" d="M718.8 381.8H722.55V385.55H718.8zM1232.55 381.8H1236.3V385.55H1232.55z"/>
<path fill="#f4d17b" d="M887.55 378.05H891.3V381.8H887.55zM1063.8 378.05H1067.55V381.8H1063.8z"/>
<path fill="#f50a0a" d="M628.8 531.8H632.55V535.55H628.8zM1322.55 531.8H1326.3V535.55H1322.55z"/>
<path fill="#f5d587" d="M662.55 381.8H666.3V385.55H662.55zM831.3 378.05H835.05V381.8H831.3zM1120.05 378.05H1123.8V381.8H1120.05zM1288.8 381.8H1292.55V385.55H1288.8z"/>
<path fill="#f6d68b" d="M775.05 378.05H778.8V381.8H775.05zM1176.3 378.05H1180.05V381.8H1176.3z"/>
<path fill="#f6d78d" d="M606.3 381.8H610.05V385.55H606.3zM1345.05 381.8H1348.8V385.55H1345.05z"/>
<path fill="#f6d890" d="M550.05 381.8H553.8V385.55H550.05zM1401.3 381.8H1405.05V385.55H1401.3z"/>
<path fill="#f6d992" d="M718.8 378.05H722.55V381.8H718.8zM1232.55 378.05H1236.3V381.8H1232.55z"/>
<path fill="#f7db98" d="M917.55 243.05H925.05V246.8H917.55z"/>
<path fill="#f7dd9d" d="M662.55 378.05H666.3V381.8H662.55zM1288.8 378.05H1292.55V381.8H1288.8z"/>
<path fill="#f7dd9f" d="M493.8 381.8H497.55V385.55H493.8zM1457.55 381.8H1461.3V385.55H1457.55z"/>
<path fill="#f7dea1" d="M606.3 378.05H610.05V381.8H606.3zM1345.05 378.05H1348.8V381.8H1345.05z"/>
<path fill="#f8dfa4" d="M437.55 381.8H441.3V385.55H437.55zM1513.8 381.8H1517.55V385.55H1513.8z"/>
<path fill="#f8e0a6" d="M381.3 381.8H385.05V385.55H381.3zM722.55 385.55H726.3V389.3H722.55zM778.8 385.55H782.55V389.3H778.8zM1172.55 385.55H1176.3V389.3H1172.55zM1228.8 385.55H1232.55V389.3H1228.8zM1570.05 381.8H1573.8V385.55H1570.05z"/>
<path fill="#f8e1a8" d="M610.05 385.55H613.8V389.3H610.05zM835.05 385.55H838.8V389.3H835.05zM1116.3 385.55H1120.05V389.3H1116.3zM1341.3 385.55H1345.05V389.3H1341.3z"/>
<path fill="#f8e1aa" d="M666.3 385.55H670.05V389.3H666.3zM1285.05 385.55H1288.8V389.3H1285.05z"/>
<path fill="#f8e2ac" d="M441.3 385.55H445.05V389.3H441.3zM550.05 378.05H553.8V381.8H550.05zM553.8 385.55H557.55V389.3H553.8zM1397.55 385.55H1401.3V389.3H1397.55zM1401.3 378.05H1405.05V381.8H1401.3zM1510.05 385.55H1513.8V389.3H1510.05z"/>
<path fill="#f9e3af" d="M497.55 385.55H501.3V389.3H497.55zM1453.8 385.55H1457.55V389.3H1453.8z"/>
<path fill="#f9e4b1" d="M385.05 385.55H388.8V389.3H385.05zM1566.3 385.55H1570.05V389.3H1566.3z"/>
<path fill="#f9e4b3" d="M272.55 385.55H276.3V389.3H272.55zM493.8 378.05H497.55V381.8H493.8zM1457.55 378.05H1461.3V381.8H1457.55zM1678.8 385.55H1682.55V389.3H1678.8z"/>
<path fill="#f9e5b5" d="M325.05 381.8H328.8V385.55H325.05zM328.8 385.55H332.55V389.3H328.8zM1622.55 385.55H1626.3V389.3H1622.55zM1626.3 381.8H1630.05V385.55H1626.3z"/>
<path fill="#f9e6b8" d="M216.3 385.55H220.05V389.3H216.3zM437.55 378.05H441.3V381.8H437.55zM1513.8 378.05H1517.55V381.8H1513.8zM1735.05 385.55H1738.8V389.3H1735.05z"/>
<path fill="#f9e7ba" d="M268.8 381.8H272.55V385.55H268.8zM1682.55 381.8H1686.3V385.55H1682.55z"/>
<path fill="#fae8bc" d="M160.05 385.55H163.8V389.3H160.05zM1791.3 385.55H1795.05V389.3H1791.3z"/>
<path fill="#fae8be" d="M220.05 385.55H223.8V389.3H220.05zM1731.3 385.55H1735.05V389.3H1731.3z"/>
<path fill="#fae9c1" d="M212.55 381.8H216.3V385.55H212.55zM381.3 378.05H385.05V381.8H381.3zM1570.05 378.05H1573.8V381.8H1570.05zM1738.8 381.8H1742.55V385.55H1738.8z"/>
<path fill="#faeac3" d="M276.3 385.55H280.05V389.3H276.3zM1675.05 385.55H1678.8V389.3H1675.05z"/>
<path fill="#faebc5" d="M913.8 246.8H917.55V250.55H913.8zM925.05 246.8H928.8V250.55H925.05z"/>
<path fill="#faecc7" d="M325.05 378.05H328.8V381.8H325.05zM332.55 385.55H336.3V389.3H332.55zM388.8 385.55H392.55V389.3H388.8zM1562.55 385.55H1566.3V389.3H1562.55zM1618.8 385.55H1622.55V389.3H1618.8zM1626.3 378.05H1630.05V381.8H1626.3z"/>
<path fill="#fbedcc" d="M156.3 381.8H160.05V385.55H156.3zM268.8 378.05H272.55V381.8H268.8zM445.05 385.55H448.8V389.3H445.05zM1506.3 385.55H1510.05V389.3H1506.3zM1682.55 378.05H1686.3V381.8H1682.55zM1795.05 381.8H1798.8V385.55H1795.05z"/>
<path fill="#fbefd0" d="M501.3 385.55H505.05V389.3H501.3zM557.55 385.55H561.3V389.3H557.55zM1393.8 385.55H1397.55V389.3H1393.8zM1450.05 385.55H1453.8V389.3H1450.05z"/>
<path fill="#fcf0d5" d="M613.8 385.55H617.55V389.3H613.8zM891.3 374.3H895.05V378.05H891.3zM1060.05 374.3H1063.8V378.05H1060.05zM1337.55 385.55H1341.3V389.3H1337.55z"/>
<path fill="#fcf1d7" d="M212.55 378.05H216.3V381.8H212.55zM722.55 374.3H726.3V378.05H722.55zM778.8 374.3H782.55V378.05H778.8zM835.05 374.3H838.8V378.05H835.05zM947.55 374.3H951.3V378.05H947.55zM1003.8 374.3H1007.55V378.05H1003.8zM1116.3 374.3H1120.05V378.05H1116.3zM1172.55 374.3H1176.3V378.05H1172.55zM1228.8 374.3H1232.55V378.05H1228.8zM1738.8 378.05H1742.55V381.8H1738.8z"/>
<path fill="#fcf2d9" d="M666.3 374.3H670.05V378.05H666.3zM1285.05 374.3H1288.8V378.05H1285.05z"/>
<path fill="#fcf3db" d="M156.3 378.05H160.05V381.8H156.3zM167.55 378.05H171.3V381.8H167.55zM553.8 374.3H557.55V378.05H553.8zM610.05 374.3H613.8V378.05H610.05zM1341.3 374.3H1345.05V378.05H1341.3zM1397.55 374.3H1401.3V378.05H1397.55zM1783.8 378.05H1787.55V381.8H1783.8zM1795.05 378.05H1798.8V381.8H1795.05z"/>
<path fill="#fcf3de" d="M497.55 374.3H501.3V378.05H497.55zM1453.8 374.3H1457.55V378.05H1453.8z"/>
<path fill="#fcf4e0" d="M223.8 378.05H227.55V381.8H223.8zM385.05 374.3H388.8V378.05H385.05zM441.3 374.3H445.05V378.05H441.3zM1510.05 374.3H1513.8V378.05H1510.05zM1566.3 374.3H1570.05V378.05H1566.3zM1727.55 378.05H1731.3V381.8H1727.55z"/>
<path fill="#fdf5e2" d="M895.05 385.55H898.8V389.3H895.05zM1056.3 385.55H1060.05V389.3H1056.3z"/>
<path fill="#fdf6e4" d="M216.3 374.3H220.05V378.05H216.3zM272.55 374.3H276.3V378.05H272.55zM328.8 374.3H332.55V378.05H328.8zM392.55 381.8H396.3V385.55H392.55zM913.8 250.55H917.55V254.3H913.8zM925.05 250.55H928.8V254.3H925.05zM1558.8 381.8H1562.55V385.55H1558.8zM1622.55 374.3H1626.3V378.05H1622.55zM1678.8 374.3H1682.55V378.05H1678.8zM1735.05 374.3H1738.8V378.05H1735.05z"/>
<path fill="#fdf6e6" d="M280.05 378.05H283.8V381.8H280.05zM951.3 385.55H955.05V389.3H951.3zM1000.05 385.55H1003.8V389.3H1000.05zM1671.3 378.05H1675.05V381.8H1671.3z"/>
<path fill="#fdf7e9" d="M160.05 374.3H163.8V378.05H160.05zM220.05 374.3H223.8V378.05H220.05zM1731.3 374.3H1735.05V378.05H1731.3zM1791.3 374.3H1795.05V378.05H1791.3z"/>
<path fill="#fdf8eb" d="M276.3 374.3H280.05V378.05H276.3zM336.3 378.05H340.05V381.8H336.3zM448.8 381.8H452.55V385.55H448.8zM887.55 385.55H891.3V389.3H887.55zM943.8 385.55H947.55V389.3H943.8zM1007.55 385.55H1011.3V389.3H1007.55zM1063.8 385.55H1067.55V389.3H1063.8zM1502.55 381.8H1506.3V385.55H1502.55zM1615.05 378.05H1618.8V381.8H1615.05zM1675.05 374.3H1678.8V378.05H1675.05z"/>
<path fill="#fef9ed" d="M332.55 374.3H336.3V378.05H332.55zM388.8 374.3H392.55V378.05H388.8zM831.3 385.55H835.05V389.3H831.3zM1120.05 385.55H1123.8V389.3H1120.05zM1562.55 374.3H1566.3V378.05H1562.55zM1618.8 374.3H1622.55V378.05H1618.8z"/>
<path fill="#ff0000" d="M550.05 531.8H553.8V539.3H550.05zM576.3 531.8H583.8V535.55H576.3zM602.55 531.8H610.05V535.55H602.55zM632.55 531.8H636.3V535.55H632.55zM658.8 528.05H662.55V535.55H658.8zM685.05 528.05H688.8V531.8H685.05zM711.3 524.3H715.05V531.8H711.3zM737.55 520.55H741.3V528.05H737.55zM763.8 516.8H767.55V524.3H763.8zM790.05 513.05H793.8V520.55H790.05zM816.3 509.3H823.8V513.05H816.3zM846.3 501.8H850.05V505.55H846.3zM876.3 494.3H883.8V498.05H876.3zM913.8 483.05H917.55V490.55H913.8zM955.05 479.3H958.8V483.05H955.05zM996.3 479.3H1000.05V483.05H996.3zM1037.55 483.05H1041.3V490.55H1037.55zM1071.3 494.3H1078.8V498.05H1071.3zM1105.05 501.8H1108.8V505.55H1105.05zM1131.3 509.3H1138.8V513.05H1131.3zM1161.3 513.05H1165.05V520.55H1161.3zM1187.55 516.8H1191.3V524.3H1187.55zM1213.8 520.55H1217.55V528.05H1213.8zM1240.05 524.3H1243.8V531.8H1240.05zM1266.3 528.05H1270.05V531.8H1266.3zM1292.55 528.05H1296.3V535.55H1292.55zM1318.8 531.8H1322.55V535.55H1318.8zM1345.05 531.8H1352.55V535.55H1345.05zM1371.3 531.8H1378.8V535.55H1371.3zM1401.3 531.8H1405.05V539.3H1401.3z"/>
<path fill="#ff0303" d="M632.55 528.05H636.3V531.8H632.55zM917.55 306.8H925.05V314.3H917.55zM955.05 483.05H958.8V486.8H955.05zM996.3 483.05H1000.05V486.8H996.3zM1318.8 528.05H1322.55V531.8H1318.8z"/>
<path fill="#ff0a0a" d="M951.3 479.3H955.05V483.05H951.3zM1000.05 479.3H1003.8V483.05H1000.05z"/>
<path fill="#ff0d0d" d="M850.05 501.8H853.8V505.55H850.05zM1101.3 501.8H1105.05V505.55H1101.3z"/>
<path fill="#ff0f0f" d="M553.8 531.8H557.55V539.3H553.8zM576.3 535.55H583.8V539.3H576.3zM1371.3 535.55H1378.8V539.3H1371.3zM1397.55 531.8H1401.3V539.3H1397.55z"/>
<path fill="#ff1212" d="M880.05 490.55H883.8V494.3H880.05zM1071.3 490.55H1075.05V494.3H1071.3z"/>
<path fill="#ff1717" d="M793.8 513.05H797.55V516.8H793.8zM1157.55 513.05H1161.3V516.8H1157.55z"/>
<path fill="#ff2121" d="M685.05 524.3H688.8V528.05H685.05zM1266.3 524.3H1270.05V528.05H1266.3z"/>
<path fill="#ff2424" d="M793.8 516.8H797.55V520.55H793.8zM1157.55 516.8H1161.3V520.55H1157.55z"/>
<path fill="#ff2929" d="M767.55 520.55H771.3V524.3H767.55zM1183.8 520.55H1187.55V524.3H1183.8z"/>
<path fill="#ff2e2e" d="M606.3 535.55H610.05V539.3H606.3zM1345.05 535.55H1348.8V539.3H1345.05z"/>
<path fill="#ff3333" d="M715.05 524.3H718.8V528.05H715.05zM741.3 524.3H745.05V528.05H741.3zM820.05 505.55H823.8V509.3H820.05zM1131.3 505.55H1135.05V509.3H1131.3zM1210.05 524.3H1213.8V528.05H1210.05zM1236.3 524.3H1240.05V528.05H1236.3z"/>
<path fill="#ff3636" d="M688.8 528.05H692.55V531.8H688.8zM1262.55 528.05H1266.3V531.8H1262.55z"/>
<path fill="#ff3838" d="M917.55 486.8H921.3V490.55H917.55zM1033.8 486.8H1037.55V490.55H1033.8z"/>
<path fill="#ff4242" d="M685.05 531.8H688.8V535.55H685.05zM846.3 505.55H850.05V509.3H846.3zM1105.05 505.55H1108.8V509.3H1105.05zM1266.3 531.8H1270.05V535.55H1266.3z"/>
<path fill="#ff4747" d="M655.05 531.8H658.8V535.55H655.05zM910.05 486.8H913.8V490.55H910.05zM1041.3 486.8H1045.05V490.55H1041.3zM1296.3 531.8H1300.05V535.55H1296.3z"/>
<path fill="#ff4d4d" d="M606.3 528.05H610.05V531.8H606.3zM733.8 524.3H737.55V528.05H733.8zM741.3 520.55H745.05V524.3H741.3zM767.55 516.8H771.3V520.55H767.55zM1183.8 516.8H1187.55V520.55H1183.8zM1210.05 520.55H1213.8V524.3H1210.05zM1217.55 524.3H1221.3V528.05H1217.55zM1345.05 528.05H1348.8V531.8H1345.05z"/>
<path fill="#ff5454" d="M842.55 501.8H846.3V505.55H842.55zM1108.8 501.8H1112.55V505.55H1108.8z"/>
<path fill="#ff5757" d="M662.55 528.05H666.3V531.8H662.55zM760.05 520.55H763.8V524.3H760.05zM1191.3 520.55H1195.05V524.3H1191.3zM1288.8 528.05H1292.55V531.8H1288.8z"/>
<path fill="#ff5959" d="M602.55 535.55H606.3V539.3H602.55zM715.05 528.05H718.8V531.8H715.05zM1236.3 528.05H1240.05V531.8H1236.3zM1348.8 535.55H1352.55V539.3H1348.8z"/>
<path fill="#ff5c5c" d="M917.55 483.05H921.3V486.8H917.55zM1033.8 483.05H1037.55V486.8H1033.8z"/>
<path fill="#ff6161" d="M910.05 483.05H913.8V486.8H910.05zM1041.3 483.05H1045.05V486.8H1041.3z"/>
<path fill="#ff6969" d="M707.55 528.05H711.3V531.8H707.55zM1243.8 528.05H1247.55V531.8H1243.8z"/>
<path fill="#ff6b6b" d="M636.3 531.8H640.05V535.55H636.3zM816.3 513.05H820.05V516.8H816.3zM1135.05 513.05H1138.8V516.8H1135.05zM1315.05 531.8H1318.8V535.55H1315.05z"/>
<path fill="#ff7070" d="M632.55 535.55H636.3V539.3H632.55zM820.05 513.05H823.8V516.8H820.05zM1131.3 513.05H1135.05V516.8H1131.3zM1318.8 535.55H1322.55V539.3H1318.8z"/>
<path fill="#ff7373" d="M602.55 528.05H606.3V531.8H602.55zM662.55 531.8H666.3V535.55H662.55zM1288.8 531.8H1292.55V535.55H1288.8zM1348.8 528.05H1352.55V531.8H1348.8z"/>
<path fill="#ff8282" d="M850.05 498.05H853.8V501.8H850.05zM1101.3 498.05H1105.05V501.8H1101.3z"/>
<path fill="#ff8787" d="M610.05 531.8H613.8V535.55H610.05zM763.8 524.3H767.55V528.05H763.8zM786.3 516.8H790.05V520.55H786.3zM1165.05 516.8H1168.8V520.55H1165.05zM1187.55 524.3H1191.3V528.05H1187.55zM1341.3 531.8H1345.05V535.55H1341.3z"/>
<path fill="#ff8c8c" d="M711.3 520.55H715.05V524.3H711.3zM880.05 498.05H883.8V501.8H880.05zM1071.3 498.05H1075.05V501.8H1071.3zM1240.05 520.55H1243.8V524.3H1240.05z"/>
<path fill="#ff9696" d="M737.55 528.05H741.3V531.8H737.55zM876.3 498.05H880.05V501.8H876.3zM1075.05 498.05H1078.8V501.8H1075.05zM1213.8 528.05H1217.55V531.8H1213.8z"/>
<path fill="#ff9999" d="M850.05 505.55H853.8V509.3H850.05zM1101.3 505.55H1105.05V509.3H1101.3z"/>
<path fill="#ff9c9c" d="M546.3 535.55H550.05V539.3H546.3zM658.8 524.3H662.55V528.05H658.8zM688.8 524.3H692.55V528.05H688.8zM1262.55 524.3H1266.3V528.05H1262.55zM1292.55 524.3H1296.3V528.05H1292.55zM1405.05 535.55H1408.8V539.3H1405.05z"/>
<path fill="#ffa3a3" d="M636.3 528.05H640.05V531.8H636.3zM790.05 509.3H793.8V513.05H790.05zM958.8 483.05H962.55V486.8H958.8zM992.55 483.05H996.3V486.8H992.55zM1161.3 509.3H1165.05V513.05H1161.3zM1315.05 528.05H1318.8V531.8H1315.05z"/>
<path fill="#ffabab" d="M812.55 509.3H816.3V513.05H812.55zM1138.8 509.3H1142.55V513.05H1138.8z"/>
<path fill="#ffb0b0" d="M681.3 531.8H685.05V535.55H681.3zM883.8 494.3H887.55V498.05H883.8zM1067.55 494.3H1071.3V498.05H1067.55zM1270.05 531.8H1273.8V535.55H1270.05z"/>
<path fill="#ffb2b2" d="M688.8 531.8H692.55V535.55H688.8zM1262.55 531.8H1266.3V535.55H1262.55z"/>
<path fill="#ffb5b5" d="M628.8 535.55H632.55V539.3H628.8zM1322.55 535.55H1326.3V539.3H1322.55z"/>
<path fill="#ffbaba" d="M823.8 509.3H827.55V513.05H823.8zM1127.55 509.3H1131.3V513.05H1127.55z"/>
<path fill="#ffbdbd" d="M550.05 539.3H553.8V543.05H550.05zM583.8 531.8H587.55V535.55H583.8zM1367.55 531.8H1371.3V535.55H1367.55zM1401.3 539.3H1405.05V543.05H1401.3z"/>
<path fill="#ffbfbf" d="M872.55 494.3H876.3V498.05H872.55zM1078.8 494.3H1082.55V498.05H1078.8z"/>
<path fill="#ffc2c2" d="M790.05 520.55H793.8V524.3H790.05zM1161.3 520.55H1165.05V524.3H1161.3z"/>
<path fill="#ffcccc" d="M842.55 505.55H846.3V509.3H842.55zM913.8 306.8H917.55V314.3H913.8zM917.55 303.05H925.05V306.8H917.55zM917.55 314.3H925.05V318.05H917.55zM925.05 306.8H928.8V314.3H925.05zM1108.8 505.55H1112.55V509.3H1108.8z"/>
<path fill="#ffcfcf" d="M658.8 535.55H662.55V539.3H658.8zM737.55 516.8H741.3V520.55H737.55zM1213.8 516.8H1217.55V520.55H1213.8zM1292.55 535.55H1296.3V539.3H1292.55z"/>
<path fill="#ffd4d4" d="M711.3 531.8H715.05V535.55H711.3zM767.55 524.3H771.3V528.05H767.55zM1183.8 524.3H1187.55V528.05H1183.8zM1240.05 531.8H1243.8V535.55H1240.05z"/>
<path fill="#ffd6d6" d="M610.05 535.55H613.8V539.3H610.05zM1341.3 535.55H1345.05V539.3H1341.3z"/>
<path fill="#ffdbdb" d="M553.8 539.3H557.55V543.05H553.8zM572.55 535.55H576.3V539.3H572.55zM583.8 535.55H587.55V539.3H583.8zM763.8 513.05H767.55V516.8H763.8zM793.8 509.3H797.55V513.05H793.8zM883.8 490.55H887.55V494.3H883.8zM1067.55 490.55H1071.3V494.3H1067.55zM1157.55 509.3H1161.3V513.05H1157.55zM1187.55 513.05H1191.3V516.8H1187.55zM1367.55 535.55H1371.3V539.3H1367.55zM1378.8 535.55H1382.55V539.3H1378.8zM1397.55 539.3H1401.3V543.05H1397.55z"/>
<path fill="#ffdede" d="M655.05 524.3H658.8V528.05H655.05zM715.05 520.55H718.8V524.3H715.05zM741.3 528.05H745.05V531.8H741.3zM1210.05 528.05H1213.8V531.8H1210.05zM1236.3 520.55H1240.05V524.3H1236.3zM1296.3 524.3H1300.05V528.05H1296.3z"/>
<path fill="#ffe0e0" d="M610.05 528.05H613.8V531.8H610.05zM872.55 490.55H876.3V494.3H872.55zM1078.8 490.55H1082.55V494.3H1078.8zM1341.3 528.05H1345.05V531.8H1341.3z"/>
<path fill="#ffe6e6" d="M636.3 535.55H640.05V539.3H636.3zM1315.05 535.55H1318.8V539.3H1315.05z"/>
<path fill="#ffe8e8" d="M760.05 524.3H763.8V528.05H760.05zM910.05 490.55H913.8V494.3H910.05zM958.8 475.55H962.55V479.3H958.8zM992.55 475.55H996.3V479.3H992.55zM1041.3 490.55H1045.05V494.3H1041.3zM1191.3 524.3H1195.05V528.05H1191.3z"/>
<path fill="#ffebeb" d="M662.55 524.3H666.3V528.05H662.55zM733.8 528.05H737.55V531.8H733.8zM1217.55 528.05H1221.3V531.8H1217.55zM1288.8 524.3H1292.55V528.05H1288.8z"/>
</g>
<g id="labels">
<g filter="url(#p0)"><text class="lg" transform="translate(1007.2 145) scale(1 1.0)" font-size="45">Target Bezier segment</text></g>
<g filter="url(#p1)"><text class="lg" transform="translate(1007.2 205) scale(1 1.0)" font-size="45">First order algebraic point projection</text></g>
<g filter="url(#p2)"><text class="lg" transform="translate(1007.2 269) scale(1 1.0)" font-size="45" textLength="222.6" lengthAdjust="spacing">Test points</text></g>
<g filter="url(#p3)"><text class="lg" transform="translate(1007.2 329) scale(1 1.0)" font-size="45">Foot points</text></g>
<g filter="url(#p4)"><text class="tk" transform="translate(180.6 1394) scale(1 1.0)" font-size="50" text-anchor="middle">-8</text></g>
<g filter="url(#p5)"><text class="tk" transform="translate(379.0 1394) scale(1 1.0)" font-size="50" text-anchor="middle">-6</text></g>
<g filter="url(#p6)"><text class="tk" transform="translate(578.0 1394) scale(1 1.0)" font-size="50" text-anchor="middle">-4</text></g>
<g filter="url(#p7)"><text class="tk" transform="translate(777.0 1394) scale(1 1.0)" font-size="50" text-anchor="middle">-2</text></g>
<g filter="url(#p8)"><text class="tk" transform="translate(975.9 1394) scale(1 1.0)" font-size="50" text-anchor="middle">0</text></g>
<g filter="url(#p9)"><text class="tk" transform="translate(1174.5 1394) scale(1 1.0)" font-size="50" text-anchor="middle">2</text></g>
<g filter="url(#p10)"><text class="tk" transform="translate(1373.0 1394) scale(1 1.0)" font-size="50" text-anchor="middle">4</text></g>
<g filter="url(#p11)"><text class="tk" transform="translate(1572.2 1394) scale(1 1.0)" font-size="50" text-anchor="middle">6</text></g>
<g filter="url(#p12)"><text class="tk" transform="translate(1771.0 1394) scale(1 1.0)" font-size="50" text-anchor="middle">8</text></g>
<g filter="url(#p13)"><text class="tk" transform="translate(142.3 205) scale(1 1.0)" font-size="50" text-anchor="end">8</text></g>
<g filter="url(#p14)"><text class="tk" transform="translate(142.3 404) scale(1 1.0)" font-size="50" text-anchor="end">6</text></g>
<g filter="url(#p15)"><text class="tk" transform="translate(142.3 602) scale(1 1.0)" font-size="50" text-anchor="end">4</text></g>
<g filter="url(#p16)"><text class="tk" transform="translate(142.3 801) scale(1 1.0)" font-size="50" text-anchor="end">2</text></g>
<g filter="url(#p17)"><text class="tk" transform="translate(142.3 1000) scale(1 1.0)" font-size="50" text-anchor="end">0</text></g>
<g filter="url(#p18)"><text class="tk" transform="translate(142.3 1199) scale(1 1.0)" font-size="50" text-anchor="end">-2</text></g>
<g filter="url(#p19)"><text class="tk" transform="translate(976.6 1465) scale(1 1.0)" font-size="55.5" text-anchor="middle">x</text></g>
<g filter="url(#p20)"><text class="tk" transform="translate(68.8 678.2) rotate(-90) scale(1 1.0)" font-size="55.5" text-anchor="middle">y</text></g>
</g>
</svg>
</body>
</html>
